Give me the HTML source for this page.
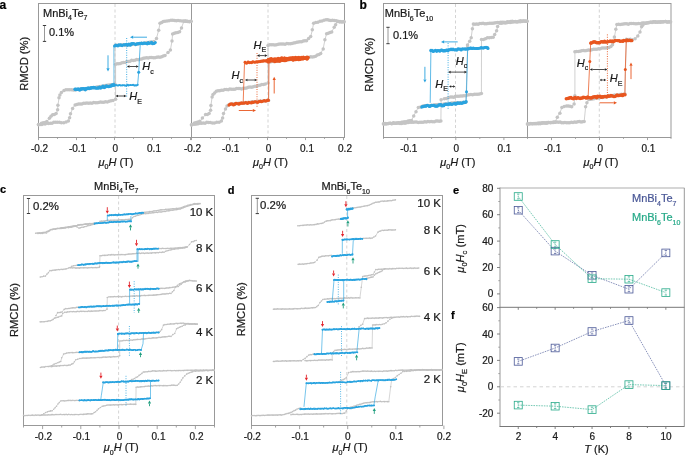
<!DOCTYPE html>
<html><head><meta charset="utf-8"><style>
html,body{margin:0;padding:0;background:#fff;}
svg{display:block;font-family:"Liberation Sans", sans-serif;will-change:transform;}
</style></head><body>
<svg width="685" height="456" viewBox="0 0 685 456">
<rect width="685" height="456" fill="#fff"/>
<rect x="38.5" y="3.5" width="306" height="134" fill="none" stroke="#999" stroke-width="1"/>
<line x1="191.5" y1="3.5" x2="191.5" y2="137.5" stroke="#999" stroke-width="1" />
<line x1="115" y1="4" x2="115" y2="137" stroke="#cfcfcf" stroke-width="0.9" stroke-dasharray="3 2.5"/>
<line x1="268" y1="4" x2="268" y2="137" stroke="#cfcfcf" stroke-width="0.9" stroke-dasharray="3 2.5"/>
<line x1="38.5" y1="137.5" x2="38.5" y2="140.1" stroke="#999" stroke-width="0.9" />
<line x1="76.5" y1="137.5" x2="76.5" y2="140.1" stroke="#999" stroke-width="0.9" />
<line x1="114.5" y1="137.5" x2="114.5" y2="140.1" stroke="#999" stroke-width="0.9" />
<line x1="152.5" y1="137.5" x2="152.5" y2="140.1" stroke="#999" stroke-width="0.9" />
<line x1="190.5" y1="137.5" x2="190.5" y2="140.1" stroke="#999" stroke-width="0.9" />
<line x1="57.5" y1="137.5" x2="57.5" y2="138.9" stroke="#999" stroke-width="0.9" />
<line x1="95.5" y1="137.5" x2="95.5" y2="138.9" stroke="#999" stroke-width="0.9" />
<line x1="133.5" y1="137.5" x2="133.5" y2="138.9" stroke="#999" stroke-width="0.9" />
<line x1="171.5" y1="137.5" x2="171.5" y2="138.9" stroke="#999" stroke-width="0.9" />
<line x1="191.5" y1="137.5" x2="191.5" y2="140.1" stroke="#999" stroke-width="0.9" />
<line x1="229.5" y1="137.5" x2="229.5" y2="140.1" stroke="#999" stroke-width="0.9" />
<line x1="267.5" y1="137.5" x2="267.5" y2="140.1" stroke="#999" stroke-width="0.9" />
<line x1="305.5" y1="137.5" x2="305.5" y2="140.1" stroke="#999" stroke-width="0.9" />
<line x1="343.5" y1="137.5" x2="343.5" y2="140.1" stroke="#999" stroke-width="0.9" />
<line x1="210.5" y1="137.5" x2="210.5" y2="138.9" stroke="#999" stroke-width="0.9" />
<line x1="248.5" y1="137.5" x2="248.5" y2="138.9" stroke="#999" stroke-width="0.9" />
<line x1="286.5" y1="137.5" x2="286.5" y2="138.9" stroke="#999" stroke-width="0.9" />
<line x1="324.5" y1="137.5" x2="324.5" y2="138.9" stroke="#999" stroke-width="0.9" />
<text x="39.5" y="152" font-size="10" text-anchor="middle" fill="#1a1a1a" font-weight="normal" font-style="normal"  stroke="#1a1a1a" stroke-width="0.22">-0.2</text>
<text x="77.5" y="152" font-size="10" text-anchor="middle" fill="#1a1a1a" font-weight="normal" font-style="normal"  stroke="#1a1a1a" stroke-width="0.22">-0.1</text>
<text x="115.3" y="152" font-size="10" text-anchor="middle" fill="#1a1a1a" font-weight="normal" font-style="normal"  stroke="#1a1a1a" stroke-width="0.22">0</text>
<text x="154" y="152" font-size="10" text-anchor="middle" fill="#1a1a1a" font-weight="normal" font-style="normal"  stroke="#1a1a1a" stroke-width="0.22">0.1</text>
<text x="192.5" y="152" font-size="10" text-anchor="middle" fill="#1a1a1a" font-weight="normal" font-style="normal"  stroke="#1a1a1a" stroke-width="0.22">-0.2</text>
<text x="230.7" y="152" font-size="10" text-anchor="middle" fill="#1a1a1a" font-weight="normal" font-style="normal"  stroke="#1a1a1a" stroke-width="0.22">-0.1</text>
<text x="268.5" y="152" font-size="10" text-anchor="middle" fill="#1a1a1a" font-weight="normal" font-style="normal"  stroke="#1a1a1a" stroke-width="0.22">0</text>
<text x="307" y="152" font-size="10" text-anchor="middle" fill="#1a1a1a" font-weight="normal" font-style="normal"  stroke="#1a1a1a" stroke-width="0.22">0.1</text>
<text x="345" y="152" font-size="10" text-anchor="middle" fill="#1a1a1a" font-weight="normal" font-style="normal"  stroke="#1a1a1a" stroke-width="0.22">0.2</text>
<text x="116" y="165.5" font-size="11" fill="#1a1a1a" text-anchor="middle" stroke="#1a1a1a" stroke-width="0.22"><tspan font-style="italic">&#956;</tspan><tspan font-size="7.04" dy="3.6">0</tspan><tspan font-style="italic" dy="-3.6">H</tspan> (T)</text>
<text x="270.5" y="165.5" font-size="11" fill="#1a1a1a" text-anchor="middle" stroke="#1a1a1a" stroke-width="0.22"><tspan font-style="italic">&#956;</tspan><tspan font-size="7.04" dy="3.6">0</tspan><tspan font-style="italic" dy="-3.6">H</tspan> (T)</text>
<text transform="translate(28.2 63.8) rotate(-90)" x="0" y="0" font-size="11.2" fill="#1a1a1a" text-anchor="middle" stroke="#1a1a1a" stroke-width="0.22">RMCD (%)</text>
<text x="-0.6" y="8.9" font-size="12" text-anchor="start" fill="#000" font-weight="bold" font-style="normal"  stroke="#000" stroke-width="0.22">a</text>
<text x="43" y="16.5" font-size="11" fill="#1a1a1a" text-anchor="start"  stroke="#1a1a1a" stroke-width="0.22"><tspan>MnBi</tspan><tspan font-size="7" dy="3.7">4</tspan><tspan dy="-3.7">Te</tspan><tspan font-size="7" dy="3.7">7</tspan></text>
<line x1="44.5" y1="25.5" x2="44.5" y2="41.4" stroke="#8c8c8c" stroke-width="0.9" />
<line x1="42.85" y1="25.5" x2="46.15" y2="25.5" stroke="#3a3a3a" stroke-width="1" />
<line x1="42.85" y1="41.4" x2="46.15" y2="41.4" stroke="#3a3a3a" stroke-width="1" />
<text x="49" y="35.6" font-size="11" text-anchor="start" fill="#1a1a1a" font-weight="normal" font-style="normal"  stroke="#1a1a1a" stroke-width="0.22">0.1%</text>
<polyline points="38.5,124.8 41.5,123 46.8,121.7 49.4,118.2 52.6,114.5 56.1,113.8 57.6,110 57.9,105.5 59,98 59.9,95 61.4,92.4 64,90.6 67.9,89.7 75.1,89.8 95,87.5 114,84.5 115,84 115,45.5 135,44.5 152,42 154,41.2 156.5,38.3 158.7,30.2 160,23.3 165,21.1 171,20.4 178,20.3 184,20.9 191,21.7" fill="none" stroke="#c4c4c4" stroke-width="0.8" stroke-linejoin="round" stroke-linecap="round" />
<g fill="#c4c4c4"><circle cx="38.5" cy="124.83" r="1.75"/><circle cx="41.5" cy="123.27" r="1.75"/><circle cx="43.27" cy="122.79" r="1.75"/><circle cx="45.03" cy="122.39" r="1.75"/><circle cx="46.8" cy="121.54" r="1.75"/><circle cx="49.4" cy="118.14" r="1.75"/><circle cx="51" cy="116.25" r="1.75"/><circle cx="52.6" cy="114.77" r="1.75"/><circle cx="54.35" cy="114.47" r="1.75"/><circle cx="56.1" cy="113.56" r="1.75"/><circle cx="57.6" cy="109.77" r="1.75"/><circle cx="57.9" cy="105.31" r="1.75"/><circle cx="59" cy="97.81" r="1.75"/><circle cx="59.9" cy="94.99" r="1.75"/><circle cx="61.4" cy="92.46" r="1.75"/><circle cx="64" cy="90.43" r="1.75"/><circle cx="65.95" cy="89.8" r="1.75"/><circle cx="67.9" cy="89.64" r="1.75"/><circle cx="69.7" cy="89.63" r="1.75"/><circle cx="71.5" cy="89.8" r="1.75"/><circle cx="73.3" cy="90.09" r="1.75"/><circle cx="75.1" cy="89.93" r="1.75"/><circle cx="76.76" cy="89.62" r="1.75"/><circle cx="78.42" cy="89.5" r="1.75"/><circle cx="80.07" cy="89.35" r="1.75"/><circle cx="81.73" cy="88.72" r="1.75"/><circle cx="83.39" cy="89.12" r="1.75"/><circle cx="85.05" cy="88.85" r="1.75"/><circle cx="86.71" cy="88.72" r="1.75"/><circle cx="88.37" cy="88.48" r="1.75"/><circle cx="90.03" cy="88" r="1.75"/><circle cx="91.68" cy="87.81" r="1.75"/><circle cx="93.34" cy="87.41" r="1.75"/><circle cx="95" cy="87.59" r="1.75"/><circle cx="96.73" cy="86.92" r="1.75"/><circle cx="98.45" cy="86.65" r="1.75"/><circle cx="100.18" cy="86.48" r="1.75"/><circle cx="101.91" cy="86.17" r="1.75"/><circle cx="103.64" cy="86.02" r="1.75"/><circle cx="105.36" cy="85.55" r="1.75"/><circle cx="107.09" cy="85.24" r="1.75"/><circle cx="108.82" cy="85.07" r="1.75"/><circle cx="110.55" cy="84.77" r="1.75"/><circle cx="112.27" cy="84.68" r="1.75"/><circle cx="114" cy="84.17" r="1.75"/><circle cx="115" cy="84.26" r="1.75"/><circle cx="115" cy="45.58" r="1.75"/><circle cx="116.67" cy="45.17" r="1.75"/><circle cx="118.33" cy="45.16" r="1.75"/><circle cx="120" cy="45.14" r="1.75"/><circle cx="121.67" cy="45.07" r="1.75"/><circle cx="123.33" cy="44.82" r="1.75"/><circle cx="125" cy="45.24" r="1.75"/><circle cx="126.67" cy="45.26" r="1.75"/><circle cx="128.33" cy="44.81" r="1.75"/><circle cx="130" cy="44.74" r="1.75"/><circle cx="131.67" cy="44.38" r="1.75"/><circle cx="133.33" cy="44.3" r="1.75"/><circle cx="135" cy="44.39" r="1.75"/><circle cx="136.7" cy="44.09" r="1.75"/><circle cx="138.4" cy="44.23" r="1.75"/><circle cx="140.1" cy="43.51" r="1.75"/><circle cx="141.8" cy="43.17" r="1.75"/><circle cx="143.5" cy="43.57" r="1.75"/><circle cx="145.2" cy="43.02" r="1.75"/><circle cx="146.9" cy="42.5" r="1.75"/><circle cx="148.6" cy="42.53" r="1.75"/><circle cx="150.3" cy="41.92" r="1.75"/><circle cx="152" cy="42.02" r="1.75"/><circle cx="154" cy="41.53" r="1.75"/><circle cx="156.5" cy="38.55" r="1.75"/><circle cx="158.7" cy="30.34" r="1.75"/><circle cx="160" cy="23.13" r="1.75"/><circle cx="161.67" cy="22.47" r="1.75"/><circle cx="163.33" cy="21.6" r="1.75"/><circle cx="165" cy="21.29" r="1.75"/><circle cx="167" cy="20.89" r="1.75"/><circle cx="169" cy="20.83" r="1.75"/><circle cx="171" cy="20.28" r="1.75"/><circle cx="172.75" cy="20.18" r="1.75"/><circle cx="174.5" cy="20.57" r="1.75"/><circle cx="176.25" cy="20.66" r="1.75"/><circle cx="178" cy="20.55" r="1.75"/><circle cx="180" cy="20.71" r="1.75"/><circle cx="182" cy="20.92" r="1.75"/><circle cx="184" cy="21.07" r="1.75"/><circle cx="185.75" cy="20.91" r="1.75"/><circle cx="187.5" cy="21.31" r="1.75"/><circle cx="189.25" cy="21.4" r="1.75"/><circle cx="191" cy="21.37" r="1.75"/></g>
<polyline points="191,21.7 184,21.1 181.5,27.7 179.6,31.9 176,32.8 172.6,33.9 172,41 170.4,50 168,52.5 165,55.3 160,57 145,58.3 130,60.9 115.6,64.4 115.6,99.2 113,100.5 105.5,102.2 88.6,103 75.1,104.7 72.6,108.4 70.5,113.8 69.6,117.9 68.4,120.6 66.1,122 61.4,123 57.3,122.2 46.8,123.5 38.5,124.7" fill="none" stroke="#c4c4c4" stroke-width="0.8" stroke-linejoin="round" stroke-linecap="round" />
<g fill="#c4c4c4"><circle cx="191" cy="21.54" r="1.75"/><circle cx="189.25" cy="21.74" r="1.75"/><circle cx="187.5" cy="21.41" r="1.75"/><circle cx="185.75" cy="21.29" r="1.75"/><circle cx="184" cy="21.28" r="1.75"/><circle cx="181.5" cy="27.99" r="1.75"/><circle cx="179.6" cy="31.86" r="1.75"/><circle cx="177.8" cy="32.43" r="1.75"/><circle cx="176" cy="32.8" r="1.75"/><circle cx="174.3" cy="33.36" r="1.75"/><circle cx="172.6" cy="34.03" r="1.75"/><circle cx="172" cy="40.97" r="1.75"/><circle cx="170.4" cy="50.02" r="1.75"/><circle cx="168" cy="52.48" r="1.75"/><circle cx="165" cy="55.61" r="1.75"/><circle cx="163.33" cy="56.01" r="1.75"/><circle cx="161.67" cy="56.7" r="1.75"/><circle cx="160" cy="57.31" r="1.75"/><circle cx="158.33" cy="56.98" r="1.75"/><circle cx="156.67" cy="57.33" r="1.75"/><circle cx="155" cy="57.74" r="1.75"/><circle cx="153.33" cy="57.82" r="1.75"/><circle cx="151.67" cy="57.47" r="1.75"/><circle cx="150" cy="57.6" r="1.75"/><circle cx="148.33" cy="57.97" r="1.75"/><circle cx="146.67" cy="57.86" r="1.75"/><circle cx="145" cy="58.12" r="1.75"/><circle cx="143.33" cy="58.29" r="1.75"/><circle cx="141.67" cy="59" r="1.75"/><circle cx="140" cy="59.37" r="1.75"/><circle cx="138.33" cy="59.73" r="1.75"/><circle cx="136.67" cy="59.5" r="1.75"/><circle cx="135" cy="60.18" r="1.75"/><circle cx="133.33" cy="60.43" r="1.75"/><circle cx="131.67" cy="60.36" r="1.75"/><circle cx="130" cy="61.17" r="1.75"/><circle cx="128.4" cy="61.62" r="1.75"/><circle cx="126.8" cy="61.48" r="1.75"/><circle cx="125.2" cy="62.38" r="1.75"/><circle cx="123.6" cy="62.38" r="1.75"/><circle cx="122" cy="62.84" r="1.75"/><circle cx="120.4" cy="63.58" r="1.75"/><circle cx="118.8" cy="63.85" r="1.75"/><circle cx="117.2" cy="63.77" r="1.75"/><circle cx="115.6" cy="64.35" r="1.75"/><circle cx="115.6" cy="99.21" r="1.75"/><circle cx="113" cy="100.39" r="1.75"/><circle cx="111.12" cy="100.71" r="1.75"/><circle cx="109.25" cy="101.22" r="1.75"/><circle cx="107.38" cy="101.93" r="1.75"/><circle cx="105.5" cy="101.86" r="1.75"/><circle cx="103.81" cy="102.32" r="1.75"/><circle cx="102.12" cy="102.32" r="1.75"/><circle cx="100.43" cy="102.1" r="1.75"/><circle cx="98.74" cy="102.4" r="1.75"/><circle cx="97.05" cy="102.69" r="1.75"/><circle cx="95.36" cy="102.69" r="1.75"/><circle cx="93.67" cy="102.46" r="1.75"/><circle cx="91.98" cy="103.18" r="1.75"/><circle cx="90.29" cy="103.12" r="1.75"/><circle cx="88.6" cy="103.33" r="1.75"/><circle cx="86.91" cy="102.94" r="1.75"/><circle cx="85.22" cy="103.26" r="1.75"/><circle cx="83.54" cy="103.32" r="1.75"/><circle cx="81.85" cy="104.05" r="1.75"/><circle cx="80.16" cy="103.9" r="1.75"/><circle cx="78.47" cy="104.02" r="1.75"/><circle cx="76.79" cy="104.43" r="1.75"/><circle cx="75.1" cy="104.99" r="1.75"/><circle cx="72.6" cy="108.62" r="1.75"/><circle cx="70.5" cy="113.63" r="1.75"/><circle cx="69.6" cy="117.65" r="1.75"/><circle cx="68.4" cy="120.89" r="1.75"/><circle cx="66.1" cy="122.05" r="1.75"/><circle cx="63.75" cy="122.64" r="1.75"/><circle cx="61.4" cy="122.71" r="1.75"/><circle cx="59.35" cy="122.29" r="1.75"/><circle cx="57.3" cy="122.33" r="1.75"/><circle cx="55.55" cy="122.36" r="1.75"/><circle cx="53.8" cy="122.33" r="1.75"/><circle cx="52.05" cy="123.16" r="1.75"/><circle cx="50.3" cy="123.16" r="1.75"/><circle cx="48.55" cy="123.49" r="1.75"/><circle cx="46.8" cy="123.21" r="1.75"/><circle cx="45.14" cy="123.99" r="1.75"/><circle cx="43.48" cy="123.68" r="1.75"/><circle cx="41.82" cy="124.47" r="1.75"/><circle cx="40.16" cy="124.43" r="1.75"/><circle cx="38.5" cy="124.59" r="1.75"/></g>
<line x1="113.8" y1="45.5" x2="113.9" y2="84.5" stroke="#29a3df" stroke-width="0.75" stroke-opacity="0.8"/>
<polyline points="137.6,85.3 138.7,72.3 140.2,45" fill="none" stroke="#29a3df" stroke-width="0.75" stroke-linejoin="round" stroke-linecap="round" />
<circle cx="138.7" cy="72.3" r="1.5" fill="#29a3df"/>
<polyline points="75.1,89.93 76.15,90.06 77.19,89.57 78.24,89.39 79.29,89.54 80.34,89.27 81.38,89.1 82.43,89.03 83.48,88.87 84.53,88.87 85.57,88.84 86.62,88.74 87.67,88.92 88.72,88.54 89.76,88.57 90.81,88.29 91.86,88.29 92.91,88 93.95,88.05 95,87.81 96,88.1 97,87.85 98,87.49 99,87.52 100,87.65 101,87.01 102,87.3 103,86.92 104,86.82 105,86.88 106,86.47 107,86.4 108,86.37 109,86.4 110,85.87 111,86.03 112,85.81 113,85.62 114,85.34" fill="none" stroke="#29a3df" stroke-width="2.2" stroke-linejoin="round" stroke-linecap="round" />
<g fill="#29a3df"><circle cx="75.01" cy="89.19" r="1.68"/><circle cx="75.98" cy="89.11" r="1.68"/><circle cx="77.46" cy="89.31" r="1.68"/><circle cx="78.21" cy="88.94" r="1.68"/><circle cx="79.73" cy="90.09" r="1.68"/><circle cx="80.73" cy="89.05" r="1.68"/><circle cx="81.58" cy="88.97" r="1.68"/><circle cx="82.81" cy="88.65" r="1.68"/><circle cx="83.91" cy="88.72" r="1.68"/><circle cx="85.33" cy="89.76" r="1.68"/><circle cx="86.18" cy="88.49" r="1.68"/><circle cx="87.54" cy="88.5" r="1.68"/><circle cx="88.28" cy="87.9" r="1.68"/><circle cx="89.4" cy="88.56" r="1.68"/><circle cx="90.58" cy="88.02" r="1.68"/><circle cx="91.69" cy="87.61" r="1.68"/><circle cx="92.65" cy="87.64" r="1.68"/><circle cx="93.83" cy="87.47" r="1.68"/><circle cx="94.71" cy="87.79" r="1.68"/><circle cx="95.96" cy="88.08" r="1.68"/><circle cx="97.25" cy="88.18" r="1.68"/><circle cx="98.45" cy="87.97" r="1.68"/><circle cx="99.7" cy="87.29" r="1.68"/><circle cx="100.48" cy="88.08" r="1.68"/><circle cx="101.5" cy="87.51" r="1.68"/><circle cx="102.91" cy="86.26" r="1.68"/><circle cx="104.14" cy="87.46" r="1.68"/><circle cx="105.14" cy="87.04" r="1.68"/><circle cx="106.36" cy="85.93" r="1.68"/><circle cx="107.31" cy="86.36" r="1.68"/><circle cx="108.61" cy="86.68" r="1.68"/><circle cx="109.73" cy="86.17" r="1.68"/><circle cx="110.88" cy="86.17" r="1.68"/><circle cx="111.88" cy="85.29" r="1.68"/><circle cx="112.6" cy="84.97" r="1.68"/><circle cx="113.92" cy="84.77" r="1.68"/></g>
<polyline points="114,85.52 115.03,85.41 116.05,85.42 117.08,85.41 118.1,85.41 119.13,85.33 120.16,85.14 121.18,85.42 122.21,85.39 123.23,85.28 124.26,85.28 125.29,85.31 126.31,85.09 127.34,85.32 128.37,85.13 129.39,85.05 130.42,85.11 131.44,85.26 132.47,85.06 133.5,85.24 134.52,85.31 135.55,85.12 136.57,85.07 137.6,85.09" fill="none" stroke="#29a3df" stroke-width="1.26" stroke-linejoin="round" stroke-linecap="round" />
<g fill="#29a3df"><circle cx="114.11" cy="85.66" r="0.97"/><circle cx="115.19" cy="85.52" r="0.97"/><circle cx="115.99" cy="85.03" r="0.97"/><circle cx="117.22" cy="85.59" r="0.97"/><circle cx="118.38" cy="85.41" r="0.97"/><circle cx="119.33" cy="84.91" r="0.97"/><circle cx="120.6" cy="85.48" r="0.97"/><circle cx="121.98" cy="85.47" r="0.97"/><circle cx="122.86" cy="85.3" r="0.97"/><circle cx="124.09" cy="85.24" r="0.97"/><circle cx="125.01" cy="85.64" r="0.97"/><circle cx="126.18" cy="85.7" r="0.97"/><circle cx="127.75" cy="84.77" r="0.97"/><circle cx="128.58" cy="85.52" r="0.97"/><circle cx="130.01" cy="85.15" r="0.97"/><circle cx="130.72" cy="84.91" r="0.97"/><circle cx="132.25" cy="84.89" r="0.97"/><circle cx="133.15" cy="84.81" r="0.97"/><circle cx="134.24" cy="85.58" r="0.97"/><circle cx="135.13" cy="85.44" r="0.97"/><circle cx="136.48" cy="85.49" r="0.97"/><circle cx="137.72" cy="84.84" r="0.97"/></g>
<polyline points="114.5,46.14 115.53,45.8 116.57,45.43 117.6,45.32 118.63,45.52 119.67,45.4 120.7,45.22 121.73,45.03 122.77,45.06 123.8,44.95 124.83,45.17 125.87,44.57 126.9,44.93 127.93,44.89 128.97,44.37 130,44.76 131,44.54 132,44.56 133,44.1 134,44.06 135,43.99 136,44.26 137,43.92 138,43.7 139,43.65 140,43.47 141,43.28 142,43.27 143,43.66 144,43.28 145,43.63 146,43.17 147,43.13 148,43.23 149,42.99 150,43.06 151,43.36 152,43.27 153,43.18 154,43.03 155,43.15" fill="none" stroke="#29a3df" stroke-width="2.04" stroke-linejoin="round" stroke-linecap="round" />
<g fill="#29a3df"><circle cx="114.76" cy="45.98" r="1.55"/><circle cx="115.74" cy="45.08" r="1.55"/><circle cx="116.85" cy="45.62" r="1.55"/><circle cx="117.97" cy="45.83" r="1.55"/><circle cx="118.8" cy="44.78" r="1.55"/><circle cx="120.29" cy="44.8" r="1.55"/><circle cx="121.13" cy="45.05" r="1.55"/><circle cx="122.13" cy="45.58" r="1.55"/><circle cx="123.64" cy="44.72" r="1.55"/><circle cx="124.56" cy="44.68" r="1.55"/><circle cx="125.61" cy="44.73" r="1.55"/><circle cx="126.48" cy="44.26" r="1.55"/><circle cx="127.61" cy="45.35" r="1.55"/><circle cx="128.89" cy="44.15" r="1.55"/><circle cx="130.24" cy="45.29" r="1.55"/><circle cx="131.08" cy="43.82" r="1.55"/><circle cx="132.04" cy="43.65" r="1.55"/><circle cx="133.24" cy="43.55" r="1.55"/><circle cx="134.29" cy="43.71" r="1.55"/><circle cx="135.6" cy="44.62" r="1.55"/><circle cx="136.82" cy="43.76" r="1.55"/><circle cx="137.73" cy="43.84" r="1.55"/><circle cx="138.82" cy="43.44" r="1.55"/><circle cx="139.74" cy="43.24" r="1.55"/><circle cx="141.43" cy="42.95" r="1.55"/><circle cx="142.31" cy="43.7" r="1.55"/><circle cx="143.68" cy="42.98" r="1.55"/><circle cx="144.48" cy="42.98" r="1.55"/><circle cx="145.71" cy="43.24" r="1.55"/><circle cx="147.2" cy="43.83" r="1.55"/><circle cx="148.3" cy="42.46" r="1.55"/><circle cx="148.95" cy="43.5" r="1.55"/><circle cx="150.62" cy="43.07" r="1.55"/><circle cx="151.59" cy="42.26" r="1.55"/><circle cx="152.63" cy="43.69" r="1.55"/><circle cx="154.04" cy="43.52" r="1.55"/><circle cx="155.28" cy="42.5" r="1.55"/></g>
<line x1="126.7" y1="38" x2="126.7" y2="98" stroke="#29a3df" stroke-width="0.9" stroke-dasharray="1 1.4"/>
<line x1="147" y1="37.2" x2="133.2" y2="37.2" stroke="#29a3df" stroke-width="0.9" />
<path d="M130 37.2L133.2 35.6L133.2 38.8Z" fill="#29a3df"/>
<line x1="108" y1="55.3" x2="108" y2="68.3" stroke="#29a3df" stroke-width="0.9" />
<path d="M108 71.5L106.4 68.3L109.6 68.3Z" fill="#29a3df"/>
<line x1="129.5" y1="66.5" x2="136.1" y2="66.5" stroke="#222" stroke-width="0.8" />
<path d="M126.9 66.5L129.5 65.2L129.5 67.8Z" fill="#222"/>
<path d="M138.7 66.5L136.1 65.2L136.1 67.8Z" fill="#222"/>
<line x1="118" y1="96" x2="123.9" y2="96" stroke="#222" stroke-width="0.8" />
<path d="M115.4 96L118 94.7L118 97.3Z" fill="#222"/>
<path d="M126.5 96L123.9 94.7L123.9 97.3Z" fill="#222"/>
<text x="142.2" y="70.1" font-size="11" fill="#1a1a1a" stroke="#1a1a1a" stroke-width="0.22"><tspan font-style="italic">H</tspan><tspan font-size="7" dy="3.6">c</tspan></text>
<text x="129.3" y="99.9" font-size="11" fill="#1a1a1a" stroke="#1a1a1a" stroke-width="0.22"><tspan font-style="italic">H</tspan><tspan font-size="7" dy="3.6">E</tspan></text>
<polyline points="191.5,124.8 194.5,123 199.8,121.7 202.4,118.2 205.6,114.5 209.1,113.8 210.6,110 210.9,105.6 212.1,97.1 213,94.3 216.3,91.4 224.8,89.6 241.6,88.6 250,87.2 260,85.4 265.3,83.8 268,83 268,45.2 290.3,43.5 306.5,40.6 310.7,36.8 312.3,30 313.6,23.3 320,21.1 326,20.1 332.5,20.3 338,21.2 344,21.8" fill="none" stroke="#c4c4c4" stroke-width="0.8" stroke-linejoin="round" stroke-linecap="round" />
<g fill="#c4c4c4"><circle cx="191.5" cy="124.72" r="1.75"/><circle cx="194.5" cy="122.91" r="1.75"/><circle cx="196.27" cy="122.45" r="1.75"/><circle cx="198.03" cy="121.9" r="1.75"/><circle cx="199.8" cy="121.35" r="1.75"/><circle cx="202.4" cy="118.05" r="1.75"/><circle cx="205.6" cy="114.4" r="1.75"/><circle cx="207.35" cy="114.47" r="1.75"/><circle cx="209.1" cy="113.54" r="1.75"/><circle cx="210.6" cy="110.32" r="1.75"/><circle cx="210.9" cy="105.4" r="1.75"/><circle cx="212.1" cy="97" r="1.75"/><circle cx="213" cy="94.53" r="1.75"/><circle cx="214.65" cy="93.08" r="1.75"/><circle cx="216.3" cy="91.35" r="1.75"/><circle cx="218" cy="90.72" r="1.75"/><circle cx="219.7" cy="90.66" r="1.75"/><circle cx="221.4" cy="90.23" r="1.75"/><circle cx="223.1" cy="90.25" r="1.75"/><circle cx="224.8" cy="89.39" r="1.75"/><circle cx="226.48" cy="89.4" r="1.75"/><circle cx="228.16" cy="89.68" r="1.75"/><circle cx="229.84" cy="88.97" r="1.75"/><circle cx="231.52" cy="89.14" r="1.75"/><circle cx="233.2" cy="89.32" r="1.75"/><circle cx="234.88" cy="89.19" r="1.75"/><circle cx="236.56" cy="88.58" r="1.75"/><circle cx="238.24" cy="88.47" r="1.75"/><circle cx="239.92" cy="88.39" r="1.75"/><circle cx="241.6" cy="88.89" r="1.75"/><circle cx="243.28" cy="88.15" r="1.75"/><circle cx="244.96" cy="88.21" r="1.75"/><circle cx="246.64" cy="88.04" r="1.75"/><circle cx="248.32" cy="87.37" r="1.75"/><circle cx="250" cy="87.04" r="1.75"/><circle cx="251.67" cy="87.22" r="1.75"/><circle cx="253.33" cy="86.68" r="1.75"/><circle cx="255" cy="86.13" r="1.75"/><circle cx="256.67" cy="86.15" r="1.75"/><circle cx="258.33" cy="85.57" r="1.75"/><circle cx="260" cy="85.24" r="1.75"/><circle cx="261.77" cy="84.52" r="1.75"/><circle cx="263.53" cy="84.51" r="1.75"/><circle cx="265.3" cy="84.09" r="1.75"/><circle cx="268" cy="83.09" r="1.75"/><circle cx="268" cy="45.51" r="1.75"/><circle cx="269.72" cy="44.74" r="1.75"/><circle cx="271.43" cy="44.75" r="1.75"/><circle cx="273.15" cy="44.79" r="1.75"/><circle cx="274.86" cy="45" r="1.75"/><circle cx="276.58" cy="44.86" r="1.75"/><circle cx="278.29" cy="44.34" r="1.75"/><circle cx="280.01" cy="44.11" r="1.75"/><circle cx="281.72" cy="44.1" r="1.75"/><circle cx="283.44" cy="44.02" r="1.75"/><circle cx="285.15" cy="44.19" r="1.75"/><circle cx="286.87" cy="43.54" r="1.75"/><circle cx="288.58" cy="43.84" r="1.75"/><circle cx="290.3" cy="43.67" r="1.75"/><circle cx="291.92" cy="43.44" r="1.75"/><circle cx="293.54" cy="43.11" r="1.75"/><circle cx="295.16" cy="42.71" r="1.75"/><circle cx="296.78" cy="42.22" r="1.75"/><circle cx="298.4" cy="41.92" r="1.75"/><circle cx="300.02" cy="41.66" r="1.75"/><circle cx="301.64" cy="41.67" r="1.75"/><circle cx="303.26" cy="40.89" r="1.75"/><circle cx="304.88" cy="40.68" r="1.75"/><circle cx="306.5" cy="40.78" r="1.75"/><circle cx="308.6" cy="38.52" r="1.75"/><circle cx="310.7" cy="36.5" r="1.75"/><circle cx="312.3" cy="29.67" r="1.75"/><circle cx="313.6" cy="23.34" r="1.75"/><circle cx="315.73" cy="22.44" r="1.75"/><circle cx="317.87" cy="22.17" r="1.75"/><circle cx="320" cy="21.37" r="1.75"/><circle cx="322" cy="21.11" r="1.75"/><circle cx="324" cy="20.27" r="1.75"/><circle cx="326" cy="19.81" r="1.75"/><circle cx="327.62" cy="19.87" r="1.75"/><circle cx="329.25" cy="20.2" r="1.75"/><circle cx="330.88" cy="20.4" r="1.75"/><circle cx="332.5" cy="20.26" r="1.75"/><circle cx="334.33" cy="20.41" r="1.75"/><circle cx="336.17" cy="20.84" r="1.75"/><circle cx="338" cy="21.28" r="1.75"/><circle cx="340" cy="21.52" r="1.75"/><circle cx="342" cy="21.77" r="1.75"/><circle cx="344" cy="22.04" r="1.75"/></g>
<polyline points="191.5,124.7 199.8,123.5 210.3,122.2 214.4,123.2 219.1,122 221.4,120.6 222.6,117.9 223.5,113.8 225.5,108.6 227,106 229,104.4 268.6,100.5 268.6,62 308.9,57.3 315.6,56.2 320.7,53.6 323.2,48.6 324.9,40.1 326.6,33.4 331.7,31.7 334.2,27.5 335.6,24.5 337.6,21.6 344,21.8" fill="none" stroke="#c4c4c4" stroke-width="0.8" stroke-linejoin="round" stroke-linecap="round" />
<g fill="#c4c4c4"><circle cx="191.5" cy="124.99" r="1.75"/><circle cx="193.16" cy="124.17" r="1.75"/><circle cx="194.82" cy="124.31" r="1.75"/><circle cx="196.48" cy="123.89" r="1.75"/><circle cx="198.14" cy="123.74" r="1.75"/><circle cx="199.8" cy="123.25" r="1.75"/><circle cx="201.55" cy="123.13" r="1.75"/><circle cx="203.3" cy="123.08" r="1.75"/><circle cx="205.05" cy="123.15" r="1.75"/><circle cx="206.8" cy="122.36" r="1.75"/><circle cx="208.55" cy="122.41" r="1.75"/><circle cx="210.3" cy="122.41" r="1.75"/><circle cx="212.35" cy="123.03" r="1.75"/><circle cx="214.4" cy="122.99" r="1.75"/><circle cx="216.75" cy="122.34" r="1.75"/><circle cx="219.1" cy="122.31" r="1.75"/><circle cx="221.4" cy="120.93" r="1.75"/><circle cx="222.6" cy="117.89" r="1.75"/><circle cx="223.5" cy="113.49" r="1.75"/><circle cx="225.5" cy="108.9" r="1.75"/><circle cx="227" cy="105.92" r="1.75"/><circle cx="229" cy="104.68" r="1.75"/><circle cx="230.65" cy="104.32" r="1.75"/><circle cx="232.3" cy="104.3" r="1.75"/><circle cx="233.95" cy="103.67" r="1.75"/><circle cx="235.6" cy="103.95" r="1.75"/><circle cx="237.25" cy="103.39" r="1.75"/><circle cx="238.9" cy="103.36" r="1.75"/><circle cx="240.55" cy="103.5" r="1.75"/><circle cx="242.2" cy="103.33" r="1.75"/><circle cx="243.85" cy="102.72" r="1.75"/><circle cx="245.5" cy="102.58" r="1.75"/><circle cx="247.15" cy="102.54" r="1.75"/><circle cx="248.8" cy="102.46" r="1.75"/><circle cx="250.45" cy="102.21" r="1.75"/><circle cx="252.1" cy="101.86" r="1.75"/><circle cx="253.75" cy="101.79" r="1.75"/><circle cx="255.4" cy="101.96" r="1.75"/><circle cx="257.05" cy="101.92" r="1.75"/><circle cx="258.7" cy="101.15" r="1.75"/><circle cx="260.35" cy="101.36" r="1.75"/><circle cx="262" cy="101.33" r="1.75"/><circle cx="263.65" cy="100.66" r="1.75"/><circle cx="265.3" cy="101.06" r="1.75"/><circle cx="266.95" cy="100.39" r="1.75"/><circle cx="268.6" cy="100.57" r="1.75"/><circle cx="268.6" cy="62.04" r="1.75"/><circle cx="270.21" cy="61.9" r="1.75"/><circle cx="271.82" cy="61.49" r="1.75"/><circle cx="273.44" cy="61.38" r="1.75"/><circle cx="275.05" cy="61.31" r="1.75"/><circle cx="276.66" cy="61.01" r="1.75"/><circle cx="278.27" cy="60.98" r="1.75"/><circle cx="279.88" cy="60.65" r="1.75"/><circle cx="281.5" cy="60.45" r="1.75"/><circle cx="283.11" cy="59.97" r="1.75"/><circle cx="284.72" cy="60.2" r="1.75"/><circle cx="286.33" cy="59.92" r="1.75"/><circle cx="287.94" cy="59.56" r="1.75"/><circle cx="289.56" cy="59.74" r="1.75"/><circle cx="291.17" cy="59.56" r="1.75"/><circle cx="292.78" cy="59.15" r="1.75"/><circle cx="294.39" cy="58.77" r="1.75"/><circle cx="296" cy="58.79" r="1.75"/><circle cx="297.62" cy="58.34" r="1.75"/><circle cx="299.23" cy="58.17" r="1.75"/><circle cx="300.84" cy="58.19" r="1.75"/><circle cx="302.45" cy="57.77" r="1.75"/><circle cx="304.06" cy="57.82" r="1.75"/><circle cx="305.68" cy="57.68" r="1.75"/><circle cx="307.29" cy="57.17" r="1.75"/><circle cx="308.9" cy="57.4" r="1.75"/><circle cx="310.57" cy="56.73" r="1.75"/><circle cx="312.25" cy="56.91" r="1.75"/><circle cx="313.93" cy="56.67" r="1.75"/><circle cx="315.6" cy="56.21" r="1.75"/><circle cx="317.3" cy="55.02" r="1.75"/><circle cx="319" cy="54.47" r="1.75"/><circle cx="320.7" cy="53.51" r="1.75"/><circle cx="323.2" cy="48.92" r="1.75"/><circle cx="324.9" cy="39.85" r="1.75"/><circle cx="326.6" cy="33.65" r="1.75"/><circle cx="328.3" cy="33.18" r="1.75"/><circle cx="330" cy="32.43" r="1.75"/><circle cx="331.7" cy="31.92" r="1.75"/><circle cx="334.2" cy="27.29" r="1.75"/><circle cx="335.6" cy="24.84" r="1.75"/><circle cx="337.6" cy="21.59" r="1.75"/><circle cx="339.73" cy="21.99" r="1.75"/><circle cx="341.87" cy="22.02" r="1.75"/><circle cx="344" cy="21.57" r="1.75"/></g>
<line x1="244.5" y1="63" x2="243.2" y2="102.3" stroke="#e8561f" stroke-width="0.75" />
<line x1="268.6" y1="100.5" x2="269" y2="62" stroke="#e8561f" stroke-width="0.75" />
<polyline points="229,104.87 230,104.86 231,104.24 232,104.31 233,104.45 234,104 235,104.34 236,103.86 237,104.09 238,103.59 239,103.7 240,103.85 241,103.32 242,103.26 243,103.3 244,103.09 245,102.82 246,102.81 247,102.7 248,103.06 249,102.81 250,102.84 251.03,102.28 252.07,102.54 253.1,102.02 254.13,102.15 255.17,102.1 256.2,101.82 257.23,102.01 258.27,101.7 259.3,101.6 260.33,101.66 261.37,101.08 262.4,101.5 263.43,101.16 264.47,100.9 265.5,101.03 266.53,100.59 267.57,100.91 268.6,100.55" fill="none" stroke="#e8561f" stroke-width="1.98" stroke-linejoin="round" stroke-linecap="round" />
<g fill="#e8561f"><circle cx="228.92" cy="105.12" r="1.51"/><circle cx="230.07" cy="104.07" r="1.51"/><circle cx="231.36" cy="103.76" r="1.51"/><circle cx="232.51" cy="103.97" r="1.51"/><circle cx="233.5" cy="105.03" r="1.51"/><circle cx="234.58" cy="104.41" r="1.51"/><circle cx="235.52" cy="103.24" r="1.51"/><circle cx="236.46" cy="103.37" r="1.51"/><circle cx="237.91" cy="103.71" r="1.51"/><circle cx="238.95" cy="104.34" r="1.51"/><circle cx="239.83" cy="103.16" r="1.51"/><circle cx="241.25" cy="102.72" r="1.51"/><circle cx="241.96" cy="103.14" r="1.51"/><circle cx="243.13" cy="103.03" r="1.51"/><circle cx="244.31" cy="103.29" r="1.51"/><circle cx="245.63" cy="102.57" r="1.51"/><circle cx="246.76" cy="102.89" r="1.51"/><circle cx="247.57" cy="103.52" r="1.51"/><circle cx="248.74" cy="102.15" r="1.51"/><circle cx="249.76" cy="102.82" r="1.51"/><circle cx="251.39" cy="102.92" r="1.51"/><circle cx="252.27" cy="101.96" r="1.51"/><circle cx="253.19" cy="102.44" r="1.51"/><circle cx="254.69" cy="101.84" r="1.51"/><circle cx="255.9" cy="101.85" r="1.51"/><circle cx="257.24" cy="102.19" r="1.51"/><circle cx="257.99" cy="102.33" r="1.51"/><circle cx="259.03" cy="101.6" r="1.51"/><circle cx="260.41" cy="101" r="1.51"/><circle cx="261.36" cy="101.73" r="1.51"/><circle cx="262.49" cy="101.24" r="1.51"/><circle cx="264.21" cy="100.45" r="1.51"/><circle cx="264.93" cy="101.07" r="1.51"/><circle cx="266.28" cy="100.99" r="1.51"/><circle cx="267.63" cy="100.11" r="1.51"/><circle cx="268.49" cy="100.18" r="1.51"/></g>
<polyline points="245,62.33 246.03,62.77 247.06,62.64 248.1,62.54 249.13,62.05 250.16,62.49 251.19,62.37 252.22,62.13 253.25,62.24 254.29,62 255.32,61.8 256.35,61.66 257.38,61.68 258.41,61.5 259.45,61.61 260.48,61.8 261.51,61.7 262.54,61.73 263.57,61.58 264.6,61.25 265.64,61.36 266.67,61.23 267.7,61.37" fill="none" stroke="#e8561f" stroke-width="1.87" stroke-linejoin="round" stroke-linecap="round" />
<g fill="#e8561f"><circle cx="245.01" cy="62.22" r="1.43"/><circle cx="246.22" cy="63.27" r="1.43"/><circle cx="247.1" cy="63.07" r="1.43"/><circle cx="248.11" cy="62.01" r="1.43"/><circle cx="249.38" cy="62.71" r="1.43"/><circle cx="250.94" cy="62.64" r="1.43"/><circle cx="251.71" cy="62.79" r="1.43"/><circle cx="252.84" cy="61.69" r="1.43"/><circle cx="254.32" cy="62.25" r="1.43"/><circle cx="255.33" cy="62.23" r="1.43"/><circle cx="256.64" cy="61.85" r="1.43"/><circle cx="257.69" cy="62.15" r="1.43"/><circle cx="258.83" cy="61.66" r="1.43"/><circle cx="259.89" cy="61.8" r="1.43"/><circle cx="260.77" cy="61.16" r="1.43"/><circle cx="262.1" cy="60.87" r="1.43"/><circle cx="263.41" cy="60.91" r="1.43"/><circle cx="264.01" cy="60.78" r="1.43"/><circle cx="265.69" cy="61.09" r="1.43"/><circle cx="266.35" cy="60.52" r="1.43"/><circle cx="267.42" cy="61.51" r="1.43"/></g>
<polyline points="268,61.68 269,61.64 270,61.58 271,61.09 272,61.33 273,61.11 274,61.3 275,61.22 276,61.18 277,60.6 278,61 279,60.95 280,60.88 281,60.3 282,60.28 283,60.14 284,60.01 285,60.42 286,60.31 287,60.13 288,60.16 289,59.96 290,59.67 291,59.49 292,59.43 293,59.75 294,59.36 295,59.36 296,59.35 297,59.05 298,59.12 299,59.07 300,59.26 301,58.99 302,58.89 303,59.21 304,58.87 305,59.01 306,58.8 307,58.39 308,58.55" fill="none" stroke="#e8561f" stroke-width="1.98" stroke-linejoin="round" stroke-linecap="round" />
<g fill="#e8561f"><circle cx="267.96" cy="62.04" r="1.51"/><circle cx="269.01" cy="61.84" r="1.51"/><circle cx="270.22" cy="60.97" r="1.51"/><circle cx="271.52" cy="60.68" r="1.51"/><circle cx="272.59" cy="60.71" r="1.51"/><circle cx="273.2" cy="60.67" r="1.51"/><circle cx="274.76" cy="61.82" r="1.51"/><circle cx="275.4" cy="60.96" r="1.51"/><circle cx="276.79" cy="61.35" r="1.51"/><circle cx="277.71" cy="60.78" r="1.51"/><circle cx="278.91" cy="61.23" r="1.51"/><circle cx="279.96" cy="61.32" r="1.51"/><circle cx="281.07" cy="60.06" r="1.51"/><circle cx="282.42" cy="60.43" r="1.51"/><circle cx="283.17" cy="60.56" r="1.51"/><circle cx="284.25" cy="60.71" r="1.51"/><circle cx="285.72" cy="60.62" r="1.51"/><circle cx="286.78" cy="59.84" r="1.51"/><circle cx="287.74" cy="59.81" r="1.51"/><circle cx="289.13" cy="59.23" r="1.51"/><circle cx="290.23" cy="59.04" r="1.51"/><circle cx="290.95" cy="59.35" r="1.51"/><circle cx="292.49" cy="59.65" r="1.51"/><circle cx="293.3" cy="60.19" r="1.51"/><circle cx="294.34" cy="59.44" r="1.51"/><circle cx="295.64" cy="59.83" r="1.51"/><circle cx="296.9" cy="59.58" r="1.51"/><circle cx="297.78" cy="59" r="1.51"/><circle cx="298.79" cy="59.75" r="1.51"/><circle cx="300.22" cy="59.51" r="1.51"/><circle cx="301.05" cy="58.95" r="1.51"/><circle cx="302.54" cy="59.1" r="1.51"/><circle cx="303.28" cy="58.84" r="1.51"/><circle cx="304.86" cy="58.41" r="1.51"/><circle cx="305.56" cy="58.43" r="1.51"/><circle cx="307" cy="59.22" r="1.51"/><circle cx="307.79" cy="58.05" r="1.51"/></g>
<polyline points="268,59.05 269,59.05 270,59.12 271,58.86 272,58.92 273,58.79 274,59.21 275,59.02 276,58.6 277,59.07 278,58.51 279,58.63 280,58.94 281,58.79 282,58.7 283,58.48 284,58.29 285,58.51 286,58.15 287,58.16 288,58.22 289,57.97 290,58.14 291,58.33 292,58.23 293,58.07 294,58.1 295,57.96 296,57.72 297,57.95 298,57.79 299,57.94 300,58 301,57.67 302,57.71 303,57.77 304,57.53 305,57.37 306,57.62 307,57.67 308,57.56" fill="none" stroke="#e8561f" stroke-width="1.98" stroke-linejoin="round" stroke-linecap="round" />
<g fill="#e8561f"><circle cx="268.12" cy="59.76" r="1.51"/><circle cx="269.21" cy="59.38" r="1.51"/><circle cx="270.17" cy="58.8" r="1.51"/><circle cx="271.38" cy="58.41" r="1.51"/><circle cx="272.35" cy="59.45" r="1.51"/><circle cx="273.63" cy="59.16" r="1.51"/><circle cx="274.45" cy="58.78" r="1.51"/><circle cx="275.67" cy="59.04" r="1.51"/><circle cx="276.75" cy="59.08" r="1.51"/><circle cx="278.16" cy="58.24" r="1.51"/><circle cx="279.09" cy="59.15" r="1.51"/><circle cx="280.03" cy="58.63" r="1.51"/><circle cx="281.48" cy="57.86" r="1.51"/><circle cx="282.33" cy="58.01" r="1.51"/><circle cx="283.57" cy="59.2" r="1.51"/><circle cx="284.51" cy="57.81" r="1.51"/><circle cx="285.64" cy="58.47" r="1.51"/><circle cx="286.83" cy="58.37" r="1.51"/><circle cx="287.88" cy="58.83" r="1.51"/><circle cx="288.91" cy="58.11" r="1.51"/><circle cx="290.27" cy="57.74" r="1.51"/><circle cx="291.24" cy="57.98" r="1.51"/><circle cx="292.41" cy="57.5" r="1.51"/><circle cx="293.67" cy="57.82" r="1.51"/><circle cx="294.23" cy="57.64" r="1.51"/><circle cx="295.56" cy="57.17" r="1.51"/><circle cx="296.7" cy="57.77" r="1.51"/><circle cx="297.99" cy="57.61" r="1.51"/><circle cx="298.86" cy="57.36" r="1.51"/><circle cx="300.27" cy="58.45" r="1.51"/><circle cx="301.27" cy="57.25" r="1.51"/><circle cx="302.56" cy="57.48" r="1.51"/><circle cx="303.33" cy="57.01" r="1.51"/><circle cx="304.79" cy="58.05" r="1.51"/><circle cx="305.83" cy="57.45" r="1.51"/><circle cx="306.91" cy="57.01" r="1.51"/><circle cx="308.28" cy="57.17" r="1.51"/></g>
<line x1="257" y1="53" x2="257" y2="108" stroke="#e8561f" stroke-width="0.9" stroke-dasharray="1 1.4"/>
<line x1="238.8" y1="110.5" x2="252.8" y2="110.5" stroke="#e8561f" stroke-width="0.9" />
<path d="M256 110.5L252.8 112.1L252.8 108.9Z" fill="#e8561f"/>
<line x1="274.2" y1="93.5" x2="274.2" y2="80" stroke="#e8561f" stroke-width="0.9" />
<path d="M274.2 76.8L275.8 80L272.6 80Z" fill="#e8561f"/>
<line x1="247.5" y1="80" x2="254.6" y2="80" stroke="#222" stroke-width="0.8" />
<path d="M244.9 80L247.5 78.7L247.5 81.3Z" fill="#222"/>
<path d="M257.2 80L254.6 78.7L254.6 81.3Z" fill="#222"/>
<line x1="259.6" y1="55.6" x2="264.8" y2="55.6" stroke="#222" stroke-width="0.8" />
<path d="M257 55.6L259.6 54.3L259.6 56.9Z" fill="#222"/>
<path d="M267.4 55.6L264.8 54.3L264.8 56.9Z" fill="#222"/>
<text x="231.6" y="79" font-size="11" fill="#1a1a1a" stroke="#1a1a1a" stroke-width="0.22"><tspan font-style="italic">H</tspan><tspan font-size="7" dy="3.6">c</tspan></text>
<text x="253.5" y="48.5" font-size="11" fill="#1a1a1a" stroke="#1a1a1a" stroke-width="0.22"><tspan font-style="italic">H</tspan><tspan font-size="7" dy="3.6">E</tspan></text>
<rect x="383.5" y="3.5" width="287.5" height="134" fill="none" stroke="#999" stroke-width="1"/>
<line x1="527.5" y1="3.5" x2="527.5" y2="137.5" stroke="#999" stroke-width="1" />
<line x1="455.5" y1="4" x2="455.5" y2="137" stroke="#cfcfcf" stroke-width="0.9" stroke-dasharray="3 2.5"/>
<line x1="599.3" y1="4" x2="599.3" y2="137" stroke="#cfcfcf" stroke-width="0.9" stroke-dasharray="3 2.5"/>
<line x1="407.6" y1="137.5" x2="407.6" y2="140.1" stroke="#999" stroke-width="0.9" />
<line x1="455.8" y1="137.5" x2="455.8" y2="140.1" stroke="#999" stroke-width="0.9" />
<line x1="503.9" y1="137.5" x2="503.9" y2="140.1" stroke="#999" stroke-width="0.9" />
<line x1="551.5" y1="137.5" x2="551.5" y2="140.1" stroke="#999" stroke-width="0.9" />
<line x1="599.5" y1="137.5" x2="599.5" y2="140.1" stroke="#999" stroke-width="0.9" />
<line x1="647.5" y1="137.5" x2="647.5" y2="140.1" stroke="#999" stroke-width="0.9" />
<line x1="383.5" y1="137.5" x2="383.5" y2="138.9" stroke="#999" stroke-width="0.9" />
<line x1="431.6" y1="137.5" x2="431.6" y2="138.9" stroke="#999" stroke-width="0.9" />
<line x1="479.8" y1="137.5" x2="479.8" y2="138.9" stroke="#999" stroke-width="0.9" />
<line x1="527.5" y1="137.5" x2="527.5" y2="138.9" stroke="#999" stroke-width="0.9" />
<line x1="575.5" y1="137.5" x2="575.5" y2="138.9" stroke="#999" stroke-width="0.9" />
<line x1="623.5" y1="137.5" x2="623.5" y2="138.9" stroke="#999" stroke-width="0.9" />
<line x1="671" y1="137.5" x2="671" y2="138.9" stroke="#999" stroke-width="0.9" />
<text x="408.8" y="152" font-size="10" text-anchor="middle" fill="#1a1a1a" font-weight="normal" font-style="normal"  stroke="#1a1a1a" stroke-width="0.22">-0.1</text>
<text x="456.3" y="152" font-size="10" text-anchor="middle" fill="#1a1a1a" font-weight="normal" font-style="normal"  stroke="#1a1a1a" stroke-width="0.22">0</text>
<text x="504.4" y="152" font-size="10" text-anchor="middle" fill="#1a1a1a" font-weight="normal" font-style="normal"  stroke="#1a1a1a" stroke-width="0.22">0.1</text>
<text x="552.6" y="152" font-size="10" text-anchor="middle" fill="#1a1a1a" font-weight="normal" font-style="normal"  stroke="#1a1a1a" stroke-width="0.22">-0.1</text>
<text x="600.3" y="152" font-size="10" text-anchor="middle" fill="#1a1a1a" font-weight="normal" font-style="normal"  stroke="#1a1a1a" stroke-width="0.22">0</text>
<text x="648.4" y="152" font-size="10" text-anchor="middle" fill="#1a1a1a" font-weight="normal" font-style="normal"  stroke="#1a1a1a" stroke-width="0.22">0.1</text>
<text x="457.8" y="165.5" font-size="11" fill="#1a1a1a" text-anchor="middle" stroke="#1a1a1a" stroke-width="0.22"><tspan font-style="italic">&#956;</tspan><tspan font-size="7.04" dy="3.6">0</tspan><tspan font-style="italic" dy="-3.6">H</tspan> (T)</text>
<text x="601" y="165.5" font-size="11" fill="#1a1a1a" text-anchor="middle" stroke="#1a1a1a" stroke-width="0.22"><tspan font-style="italic">&#956;</tspan><tspan font-size="7.04" dy="3.6">0</tspan><tspan font-style="italic" dy="-3.6">H</tspan> (T)</text>
<text transform="translate(373 64.6) rotate(-90)" x="0" y="0" font-size="11.2" fill="#1a1a1a" text-anchor="middle" stroke="#1a1a1a" stroke-width="0.22">RMCD (%)</text>
<text x="359.6" y="8.6" font-size="12" text-anchor="start" fill="#000" font-weight="bold" font-style="normal"  stroke="#000" stroke-width="0.22">b</text>
<text x="384.8" y="17.2" font-size="11" fill="#1a1a1a" text-anchor="start"  stroke="#1a1a1a" stroke-width="0.22"><tspan>MnBi</tspan><tspan font-size="7" dy="3.7">6</tspan><tspan dy="-3.7">Te</tspan><tspan font-size="7" dy="3.7">10</tspan></text>
<line x1="388" y1="27.3" x2="388" y2="43.7" stroke="#8c8c8c" stroke-width="0.9" />
<line x1="386.35" y1="27.3" x2="389.65" y2="27.3" stroke="#3a3a3a" stroke-width="1" />
<line x1="386.35" y1="43.7" x2="389.65" y2="43.7" stroke="#3a3a3a" stroke-width="1" />
<text x="393" y="39.1" font-size="11" text-anchor="start" fill="#1a1a1a" font-weight="normal" font-style="normal"  stroke="#1a1a1a" stroke-width="0.22">0.1%</text>
<polyline points="383.5,123.7 398.3,122.9 411.4,120.6 413.7,116 416,111.4 418.3,107.6 422.9,106 445,104 466,102 467.5,47.5 467.5,44.9 469.7,41.2 471.2,37.6 472.4,28.7 473.4,24.3 499.1,22.6 513.8,21.5 527,20.9" fill="none" stroke="#c4c4c4" stroke-width="0.8" stroke-linejoin="round" stroke-linecap="round" />
<g fill="#c4c4c4"><circle cx="383.5" cy="124" r="1.75"/><circle cx="385.14" cy="123.49" r="1.75"/><circle cx="386.79" cy="123.86" r="1.75"/><circle cx="388.43" cy="123.44" r="1.75"/><circle cx="390.08" cy="123.33" r="1.75"/><circle cx="391.72" cy="123.53" r="1.75"/><circle cx="393.37" cy="122.84" r="1.75"/><circle cx="395.01" cy="123.23" r="1.75"/><circle cx="396.66" cy="123.08" r="1.75"/><circle cx="398.3" cy="122.79" r="1.75"/><circle cx="399.94" cy="122.87" r="1.75"/><circle cx="401.57" cy="122.23" r="1.75"/><circle cx="403.21" cy="122.02" r="1.75"/><circle cx="404.85" cy="121.77" r="1.75"/><circle cx="406.49" cy="121.65" r="1.75"/><circle cx="408.12" cy="120.97" r="1.75"/><circle cx="409.76" cy="120.84" r="1.75"/><circle cx="411.4" cy="120.55" r="1.75"/><circle cx="413.7" cy="116.04" r="1.75"/><circle cx="416" cy="111.63" r="1.75"/><circle cx="418.3" cy="107.46" r="1.75"/><circle cx="420.6" cy="107.03" r="1.75"/><circle cx="422.9" cy="105.93" r="1.75"/><circle cx="424.6" cy="105.85" r="1.75"/><circle cx="426.3" cy="105.53" r="1.75"/><circle cx="428" cy="105.54" r="1.75"/><circle cx="429.7" cy="105.72" r="1.75"/><circle cx="431.4" cy="105.34" r="1.75"/><circle cx="433.1" cy="105.28" r="1.75"/><circle cx="434.8" cy="104.8" r="1.75"/><circle cx="436.5" cy="104.64" r="1.75"/><circle cx="438.2" cy="104.47" r="1.75"/><circle cx="439.9" cy="104.52" r="1.75"/><circle cx="441.6" cy="104.4" r="1.75"/><circle cx="443.3" cy="104.35" r="1.75"/><circle cx="445" cy="103.68" r="1.75"/><circle cx="446.62" cy="104" r="1.75"/><circle cx="448.23" cy="103.96" r="1.75"/><circle cx="449.85" cy="103.57" r="1.75"/><circle cx="451.46" cy="103.07" r="1.75"/><circle cx="453.08" cy="103.09" r="1.75"/><circle cx="454.69" cy="102.73" r="1.75"/><circle cx="456.31" cy="102.71" r="1.75"/><circle cx="457.92" cy="103.06" r="1.75"/><circle cx="459.54" cy="102.69" r="1.75"/><circle cx="461.15" cy="102.57" r="1.75"/><circle cx="462.77" cy="102.51" r="1.75"/><circle cx="464.38" cy="102.44" r="1.75"/><circle cx="466" cy="102.08" r="1.75"/><circle cx="467.5" cy="47.58" r="1.75"/><circle cx="467.5" cy="44.99" r="1.75"/><circle cx="469.7" cy="41.34" r="1.75"/><circle cx="471.2" cy="37.67" r="1.75"/><circle cx="472.4" cy="28.83" r="1.75"/><circle cx="473.4" cy="24.1" r="1.75"/><circle cx="475.01" cy="24.31" r="1.75"/><circle cx="476.61" cy="24.06" r="1.75"/><circle cx="478.22" cy="24.17" r="1.75"/><circle cx="479.82" cy="23.6" r="1.75"/><circle cx="481.43" cy="23.55" r="1.75"/><circle cx="483.04" cy="23.34" r="1.75"/><circle cx="484.64" cy="23.75" r="1.75"/><circle cx="486.25" cy="23.74" r="1.75"/><circle cx="487.86" cy="23.45" r="1.75"/><circle cx="489.46" cy="23.15" r="1.75"/><circle cx="491.07" cy="23.36" r="1.75"/><circle cx="492.68" cy="23.23" r="1.75"/><circle cx="494.28" cy="22.96" r="1.75"/><circle cx="495.89" cy="22.64" r="1.75"/><circle cx="497.49" cy="22.57" r="1.75"/><circle cx="499.1" cy="22.55" r="1.75"/><circle cx="500.73" cy="22.35" r="1.75"/><circle cx="502.37" cy="22.31" r="1.75"/><circle cx="504" cy="22.33" r="1.75"/><circle cx="505.63" cy="22.41" r="1.75"/><circle cx="507.27" cy="21.68" r="1.75"/><circle cx="508.9" cy="21.91" r="1.75"/><circle cx="510.53" cy="21.42" r="1.75"/><circle cx="512.17" cy="21.36" r="1.75"/><circle cx="513.8" cy="21.72" r="1.75"/><circle cx="515.45" cy="21.48" r="1.75"/><circle cx="517.1" cy="21.64" r="1.75"/><circle cx="518.75" cy="21.24" r="1.75"/><circle cx="520.4" cy="20.86" r="1.75"/><circle cx="522.05" cy="21.05" r="1.75"/><circle cx="523.7" cy="21.11" r="1.75"/><circle cx="525.35" cy="21.28" r="1.75"/><circle cx="527" cy="21.24" r="1.75"/></g>
<polyline points="527,20.9 500,23.2 497.6,26.5 496.6,30.9 494.7,34.6 493.2,37.1 487.4,38 481.5,39.8 481.4,93.4 463.9,95.8 450.5,97.2 444.3,98.9 441.1,99.7 440.9,121.2 418.3,122.1 400,123.2 383.5,123.7" fill="none" stroke="#c4c4c4" stroke-width="0.8" stroke-linejoin="round" stroke-linecap="round" />
<g fill="#c4c4c4"><circle cx="527" cy="21.16" r="1.75"/><circle cx="525.31" cy="21.09" r="1.75"/><circle cx="523.62" cy="21.03" r="1.75"/><circle cx="521.94" cy="21.58" r="1.75"/><circle cx="520.25" cy="21.69" r="1.75"/><circle cx="518.56" cy="21.75" r="1.75"/><circle cx="516.88" cy="22.05" r="1.75"/><circle cx="515.19" cy="21.8" r="1.75"/><circle cx="513.5" cy="21.76" r="1.75"/><circle cx="511.81" cy="22.23" r="1.75"/><circle cx="510.12" cy="22.55" r="1.75"/><circle cx="508.44" cy="22.27" r="1.75"/><circle cx="506.75" cy="22.8" r="1.75"/><circle cx="505.06" cy="23.07" r="1.75"/><circle cx="503.38" cy="22.73" r="1.75"/><circle cx="501.69" cy="23.13" r="1.75"/><circle cx="500" cy="23.32" r="1.75"/><circle cx="497.6" cy="26.48" r="1.75"/><circle cx="496.6" cy="30.69" r="1.75"/><circle cx="494.7" cy="34.43" r="1.75"/><circle cx="493.2" cy="37.28" r="1.75"/><circle cx="491.27" cy="37.6" r="1.75"/><circle cx="489.33" cy="37.67" r="1.75"/><circle cx="487.4" cy="37.71" r="1.75"/><circle cx="485.43" cy="38.81" r="1.75"/><circle cx="483.47" cy="39.39" r="1.75"/><circle cx="481.5" cy="39.61" r="1.75"/><circle cx="481.4" cy="93.46" r="1.75"/><circle cx="479.65" cy="93.92" r="1.75"/><circle cx="477.9" cy="94.15" r="1.75"/><circle cx="476.15" cy="94.14" r="1.75"/><circle cx="474.4" cy="94.34" r="1.75"/><circle cx="472.65" cy="94.66" r="1.75"/><circle cx="470.9" cy="94.62" r="1.75"/><circle cx="469.15" cy="94.86" r="1.75"/><circle cx="467.4" cy="95.1" r="1.75"/><circle cx="465.65" cy="95.7" r="1.75"/><circle cx="463.9" cy="95.7" r="1.75"/><circle cx="462.22" cy="96.02" r="1.75"/><circle cx="460.55" cy="96.08" r="1.75"/><circle cx="458.88" cy="96.34" r="1.75"/><circle cx="457.2" cy="96.25" r="1.75"/><circle cx="455.52" cy="96.36" r="1.75"/><circle cx="453.85" cy="97.2" r="1.75"/><circle cx="452.18" cy="96.94" r="1.75"/><circle cx="450.5" cy="96.92" r="1.75"/><circle cx="448.43" cy="97.86" r="1.75"/><circle cx="446.37" cy="98.53" r="1.75"/><circle cx="444.3" cy="98.66" r="1.75"/><circle cx="441.1" cy="99.77" r="1.75"/><circle cx="440.9" cy="121.09" r="1.75"/><circle cx="439.29" cy="121.28" r="1.75"/><circle cx="437.67" cy="120.99" r="1.75"/><circle cx="436.06" cy="121.07" r="1.75"/><circle cx="434.44" cy="121.8" r="1.75"/><circle cx="432.83" cy="121.78" r="1.75"/><circle cx="431.21" cy="121.58" r="1.75"/><circle cx="429.6" cy="121.7" r="1.75"/><circle cx="427.99" cy="121.55" r="1.75"/><circle cx="426.37" cy="121.97" r="1.75"/><circle cx="424.76" cy="121.79" r="1.75"/><circle cx="423.14" cy="122.22" r="1.75"/><circle cx="421.53" cy="122.16" r="1.75"/><circle cx="419.91" cy="122.26" r="1.75"/><circle cx="418.3" cy="122.42" r="1.75"/><circle cx="416.64" cy="122.03" r="1.75"/><circle cx="414.97" cy="121.98" r="1.75"/><circle cx="413.31" cy="122.19" r="1.75"/><circle cx="411.65" cy="122.28" r="1.75"/><circle cx="409.98" cy="122.31" r="1.75"/><circle cx="408.32" cy="122.39" r="1.75"/><circle cx="406.65" cy="122.84" r="1.75"/><circle cx="404.99" cy="123.16" r="1.75"/><circle cx="403.33" cy="122.97" r="1.75"/><circle cx="401.66" cy="123.41" r="1.75"/><circle cx="400" cy="123.49" r="1.75"/><circle cx="398.35" cy="122.94" r="1.75"/><circle cx="396.7" cy="123.37" r="1.75"/><circle cx="395.05" cy="123.28" r="1.75"/><circle cx="393.4" cy="123.13" r="1.75"/><circle cx="391.75" cy="123.77" r="1.75"/><circle cx="390.1" cy="123.33" r="1.75"/><circle cx="388.45" cy="123.6" r="1.75"/><circle cx="386.8" cy="123.7" r="1.75"/><circle cx="385.15" cy="123.97" r="1.75"/><circle cx="383.5" cy="123.82" r="1.75"/></g>
<line x1="430.9" y1="51" x2="430.2" y2="102.8" stroke="#29a3df" stroke-width="0.75" />
<polyline points="466,102 466.5,91.8 467.7,47.5" fill="none" stroke="#29a3df" stroke-width="0.75" stroke-linejoin="round" stroke-linecap="round" />
<circle cx="466.5" cy="91.8" r="1.5" fill="#29a3df"/>
<polyline points="422,106.34 423,106.31 424,106.07 425,106.5 426,106.45 427,105.93 428,105.76 429,105.83 430,105.82 431,106.09 432,106.03 433,105.93 434,105.39 435,105.78 436,105.67 437,105.57 438,105.71 439,105.09 440,105.09 441,105.37 442,105.39 443,105.15 444,104.83 445,104.92 446,104.93 447,104.46 448,104.5 449,104.37 450,104.21 451,104.34 452,104.06 453,104.02 454,103.87 455,104.11 456,103.56 457,103.84 458,103.38 459,103.14 460,103.53 461,102.96 462,103.24 463,103.06 464,102.92 465,102.33 466,102.37" fill="none" stroke="#29a3df" stroke-width="2.09" stroke-linejoin="round" stroke-linecap="round" />
<g fill="#29a3df"><circle cx="421.76" cy="107.09" r="1.6"/><circle cx="423.33" cy="106.54" r="1.6"/><circle cx="424.22" cy="106.01" r="1.6"/><circle cx="425.57" cy="106.16" r="1.6"/><circle cx="426.58" cy="105.55" r="1.6"/><circle cx="427.46" cy="105.35" r="1.6"/><circle cx="428.88" cy="106.07" r="1.6"/><circle cx="429.66" cy="106.51" r="1.6"/><circle cx="430.86" cy="105.71" r="1.6"/><circle cx="431.92" cy="105.42" r="1.6"/><circle cx="433.45" cy="105.45" r="1.6"/><circle cx="434.18" cy="105.63" r="1.6"/><circle cx="435.39" cy="106.22" r="1.6"/><circle cx="436.39" cy="106.27" r="1.6"/><circle cx="437.48" cy="106.07" r="1.6"/><circle cx="438.98" cy="104.91" r="1.6"/><circle cx="439.99" cy="104.96" r="1.6"/><circle cx="441.01" cy="104.72" r="1.6"/><circle cx="442.23" cy="105.89" r="1.6"/><circle cx="443.76" cy="105.68" r="1.6"/><circle cx="444.37" cy="104.56" r="1.6"/><circle cx="446.01" cy="104.09" r="1.6"/><circle cx="447.06" cy="104.37" r="1.6"/><circle cx="448.36" cy="103.83" r="1.6"/><circle cx="449.41" cy="104.25" r="1.6"/><circle cx="450.17" cy="103.6" r="1.6"/><circle cx="451.74" cy="104.34" r="1.6"/><circle cx="452.5" cy="104.1" r="1.6"/><circle cx="454.09" cy="103.65" r="1.6"/><circle cx="455.04" cy="103.42" r="1.6"/><circle cx="455.91" cy="104.27" r="1.6"/><circle cx="457.33" cy="103.19" r="1.6"/><circle cx="458.05" cy="102.86" r="1.6"/><circle cx="459.47" cy="103.35" r="1.6"/><circle cx="460.36" cy="102.73" r="1.6"/><circle cx="461.67" cy="103.37" r="1.6"/><circle cx="462.89" cy="103.01" r="1.6"/><circle cx="463.62" cy="102.03" r="1.6"/><circle cx="465.04" cy="102.41" r="1.6"/><circle cx="466.13" cy="101.69" r="1.6"/></g>
<polyline points="430.9,51.19 431.9,50.84 432.91,51.09 433.91,51.04 434.91,50.76 435.92,50.42 436.92,50.89 437.92,50.58 438.93,50.75 439.93,50.33 440.93,50.23 441.94,50.55 442.94,50.22 443.94,50.04 444.95,50.1 445.95,50.18 446.96,49.76 447.96,50.02 448.96,49.91 449.97,49.9 450.97,49.6 451.97,49.9 452.98,49.9 453.98,49.87 454.98,49.49 455.99,49.66 456.99,49.4 457.99,49.57 459,49.1 460,49.52 461,49.51 462.01,49.18 463.01,49.13 464.01,49.08 465.02,49.02 466.02,48.65 467.02,49.16 468.03,48.65 469.03,48.56 470.04,48.45 471.04,48.48 472.04,48.76 473.05,48.23 474.05,48.21 475.05,48.51 476.06,48.15 477.06,47.98 478.06,48.27 479.07,48.19 480.07,48.1 481.08,48.15 482.08,47.73 483.08,48.13 484.09,47.97 485.09,47.51 486.09,47.5 487.1,47.66 488.1,47.6" fill="none" stroke="#29a3df" stroke-width="2.04" stroke-linejoin="round" stroke-linecap="round" />
<g fill="#29a3df"><circle cx="430.77" cy="50.4" r="1.55"/><circle cx="431.96" cy="50.35" r="1.55"/><circle cx="433.19" cy="51.45" r="1.55"/><circle cx="434.05" cy="50.92" r="1.55"/><circle cx="435.52" cy="50.2" r="1.55"/><circle cx="436.69" cy="51.37" r="1.55"/><circle cx="437.55" cy="50.48" r="1.55"/><circle cx="438.94" cy="50.58" r="1.55"/><circle cx="439.79" cy="51.18" r="1.55"/><circle cx="441.14" cy="50.15" r="1.55"/><circle cx="441.94" cy="50.08" r="1.55"/><circle cx="443.17" cy="51.05" r="1.55"/><circle cx="444.51" cy="50.88" r="1.55"/><circle cx="445.64" cy="50.71" r="1.55"/><circle cx="446.3" cy="50.11" r="1.55"/><circle cx="447.96" cy="50.71" r="1.55"/><circle cx="448.66" cy="49.83" r="1.55"/><circle cx="450.01" cy="49.67" r="1.55"/><circle cx="451.06" cy="49.13" r="1.55"/><circle cx="452.13" cy="49.77" r="1.55"/><circle cx="453" cy="49.12" r="1.55"/><circle cx="454.69" cy="50.07" r="1.55"/><circle cx="455.79" cy="49.77" r="1.55"/><circle cx="456.83" cy="50.11" r="1.55"/><circle cx="457.99" cy="48.69" r="1.55"/><circle cx="458.97" cy="48.99" r="1.55"/><circle cx="460.11" cy="48.94" r="1.55"/><circle cx="461.15" cy="49.91" r="1.55"/><circle cx="462.32" cy="48.76" r="1.55"/><circle cx="463.38" cy="48.99" r="1.55"/><circle cx="464.77" cy="48.69" r="1.55"/><circle cx="465.5" cy="49.2" r="1.55"/><circle cx="466.52" cy="49.04" r="1.55"/><circle cx="468.14" cy="48.85" r="1.55"/><circle cx="468.85" cy="48.7" r="1.55"/><circle cx="470.14" cy="48.13" r="1.55"/><circle cx="471.01" cy="48.03" r="1.55"/><circle cx="472.24" cy="48.4" r="1.55"/><circle cx="473.36" cy="48.07" r="1.55"/><circle cx="474.36" cy="48.49" r="1.55"/><circle cx="475.94" cy="48.52" r="1.55"/><circle cx="476.9" cy="48.52" r="1.55"/><circle cx="477.8" cy="48.55" r="1.55"/><circle cx="479.08" cy="48.22" r="1.55"/><circle cx="480.3" cy="48.03" r="1.55"/><circle cx="481.24" cy="47.6" r="1.55"/><circle cx="482.31" cy="47.96" r="1.55"/><circle cx="483.53" cy="48.01" r="1.55"/><circle cx="484.44" cy="47.57" r="1.55"/><circle cx="486.07" cy="47.32" r="1.55"/><circle cx="487.01" cy="47.65" r="1.55"/><circle cx="487.97" cy="48.38" r="1.55"/></g>
<line x1="448.1" y1="43" x2="448.1" y2="110" stroke="#29a3df" stroke-width="0.9" stroke-dasharray="1 1.4"/>
<line x1="457.7" y1="41.9" x2="444.2" y2="41.9" stroke="#29a3df" stroke-width="0.9" />
<path d="M441 41.9L444.2 40.3L444.2 43.5Z" fill="#29a3df"/>
<line x1="424.9" y1="66.8" x2="424.9" y2="79.4" stroke="#29a3df" stroke-width="0.9" />
<path d="M424.9 82.6L423.3 79.4L426.5 79.4Z" fill="#29a3df"/>
<line x1="450.7" y1="72.1" x2="464.4" y2="72.1" stroke="#222" stroke-width="0.8" />
<path d="M448.1 72.1L450.7 70.8L450.7 73.4Z" fill="#222"/>
<path d="M467 72.1L464.4 70.8L464.4 73.4Z" fill="#222"/>
<line x1="451.2" y1="86.5" x2="453.1" y2="86.5" stroke="#222" stroke-width="0.8" />
<path d="M449 86.5L451.2 85.3L451.2 87.7Z" fill="#222"/>
<path d="M455.3 86.5L453.1 85.3L453.1 87.7Z" fill="#222"/>
<text x="455.8" y="64.7" font-size="11" fill="#1a1a1a" stroke="#1a1a1a" stroke-width="0.22"><tspan font-style="italic">H</tspan><tspan font-size="7" dy="3.6">c</tspan></text>
<text x="435.2" y="87.5" font-size="11" fill="#1a1a1a" stroke="#1a1a1a" stroke-width="0.22"><tspan font-style="italic">H</tspan><tspan font-size="7" dy="3.6">E</tspan></text>
<polyline points="527.5,124.1 540.2,123.4 555.3,122.1 557.3,116.8 559.9,112.9 561.9,107.6 566.5,105.7 571.7,106.3 574.1,103.7 574.9,95.8 574.9,51.9 595.1,49.3 609,47.4 610.9,46.7 612.5,44.7 614.4,37 615.8,29.5 616.9,24.4 630,23.9 643.8,23.3 653.7,22 670.5,21.8" fill="none" stroke="#c4c4c4" stroke-width="0.8" stroke-linejoin="round" stroke-linecap="round" />
<g fill="#c4c4c4"><circle cx="527.5" cy="124.12" r="1.75"/><circle cx="529.31" cy="123.72" r="1.75"/><circle cx="531.13" cy="123.81" r="1.75"/><circle cx="532.94" cy="123.73" r="1.75"/><circle cx="534.76" cy="123.74" r="1.75"/><circle cx="536.57" cy="123.65" r="1.75"/><circle cx="538.39" cy="123.77" r="1.75"/><circle cx="540.2" cy="123.73" r="1.75"/><circle cx="541.88" cy="123.25" r="1.75"/><circle cx="543.56" cy="123.07" r="1.75"/><circle cx="545.23" cy="123.05" r="1.75"/><circle cx="546.91" cy="123.17" r="1.75"/><circle cx="548.59" cy="122.57" r="1.75"/><circle cx="550.27" cy="122.55" r="1.75"/><circle cx="551.94" cy="122.61" r="1.75"/><circle cx="553.62" cy="122.01" r="1.75"/><circle cx="555.3" cy="121.97" r="1.75"/><circle cx="557.3" cy="117.13" r="1.75"/><circle cx="559.9" cy="113.13" r="1.75"/><circle cx="561.9" cy="107.61" r="1.75"/><circle cx="564.2" cy="106.38" r="1.75"/><circle cx="566.5" cy="105.98" r="1.75"/><circle cx="568.23" cy="106.03" r="1.75"/><circle cx="569.97" cy="106.32" r="1.75"/><circle cx="571.7" cy="106.64" r="1.75"/><circle cx="574.1" cy="103.97" r="1.75"/><circle cx="574.9" cy="95.74" r="1.75"/><circle cx="574.9" cy="51.66" r="1.75"/><circle cx="576.58" cy="51.54" r="1.75"/><circle cx="578.27" cy="51.47" r="1.75"/><circle cx="579.95" cy="51.25" r="1.75"/><circle cx="581.63" cy="50.82" r="1.75"/><circle cx="583.32" cy="50.59" r="1.75"/><circle cx="585" cy="50.69" r="1.75"/><circle cx="586.68" cy="50.46" r="1.75"/><circle cx="588.37" cy="50.06" r="1.75"/><circle cx="590.05" cy="50.3" r="1.75"/><circle cx="591.73" cy="49.83" r="1.75"/><circle cx="593.42" cy="49.2" r="1.75"/><circle cx="595.1" cy="49.24" r="1.75"/><circle cx="596.84" cy="49.26" r="1.75"/><circle cx="598.58" cy="48.69" r="1.75"/><circle cx="600.31" cy="48.72" r="1.75"/><circle cx="602.05" cy="48" r="1.75"/><circle cx="603.79" cy="47.98" r="1.75"/><circle cx="605.52" cy="48.11" r="1.75"/><circle cx="607.26" cy="47.7" r="1.75"/><circle cx="609" cy="47.52" r="1.75"/><circle cx="610.9" cy="46.49" r="1.75"/><circle cx="612.5" cy="44.7" r="1.75"/><circle cx="614.4" cy="37.04" r="1.75"/><circle cx="615.8" cy="29.34" r="1.75"/><circle cx="616.9" cy="24.5" r="1.75"/><circle cx="618.54" cy="24.36" r="1.75"/><circle cx="620.17" cy="24.62" r="1.75"/><circle cx="621.81" cy="24.26" r="1.75"/><circle cx="623.45" cy="24.09" r="1.75"/><circle cx="625.09" cy="23.82" r="1.75"/><circle cx="626.73" cy="23.78" r="1.75"/><circle cx="628.36" cy="24.14" r="1.75"/><circle cx="630" cy="23.62" r="1.75"/><circle cx="631.73" cy="23.55" r="1.75"/><circle cx="633.45" cy="23.52" r="1.75"/><circle cx="635.17" cy="23.69" r="1.75"/><circle cx="636.9" cy="23.83" r="1.75"/><circle cx="638.62" cy="23.6" r="1.75"/><circle cx="640.35" cy="23.66" r="1.75"/><circle cx="642.07" cy="23.07" r="1.75"/><circle cx="643.8" cy="22.96" r="1.75"/><circle cx="645.45" cy="23.27" r="1.75"/><circle cx="647.1" cy="22.74" r="1.75"/><circle cx="648.75" cy="22.8" r="1.75"/><circle cx="650.4" cy="22.33" r="1.75"/><circle cx="652.05" cy="21.99" r="1.75"/><circle cx="653.7" cy="21.84" r="1.75"/><circle cx="655.38" cy="21.7" r="1.75"/><circle cx="657.06" cy="22.24" r="1.75"/><circle cx="658.74" cy="22" r="1.75"/><circle cx="660.42" cy="21.81" r="1.75"/><circle cx="662.1" cy="21.86" r="1.75"/><circle cx="663.78" cy="21.8" r="1.75"/><circle cx="665.46" cy="21.55" r="1.75"/><circle cx="667.14" cy="22.11" r="1.75"/><circle cx="668.82" cy="21.88" r="1.75"/><circle cx="670.5" cy="22.12" r="1.75"/></g>
<polyline points="527.5,124.1 555.3,122.1 566.5,122.8 584.2,121.4 585.6,107 586.9,103 588.8,99.7 606,96.5 624.9,94 626.3,39.6 632.3,39.6 635.1,39 637.8,35.8 640,31.9 641.6,27 642.7,25 643.8,23.3 653.7,22 670.5,21.8" fill="none" stroke="#c4c4c4" stroke-width="0.8" stroke-linejoin="round" stroke-linecap="round" />
<g fill="#c4c4c4"><circle cx="527.5" cy="123.97" r="1.75"/><circle cx="529.14" cy="124.1" r="1.75"/><circle cx="530.77" cy="123.59" r="1.75"/><circle cx="532.41" cy="123.79" r="1.75"/><circle cx="534.04" cy="123.53" r="1.75"/><circle cx="535.68" cy="123.51" r="1.75"/><circle cx="537.31" cy="123.25" r="1.75"/><circle cx="538.95" cy="122.97" r="1.75"/><circle cx="540.58" cy="123.03" r="1.75"/><circle cx="542.22" cy="122.85" r="1.75"/><circle cx="543.85" cy="122.66" r="1.75"/><circle cx="545.49" cy="122.96" r="1.75"/><circle cx="547.12" cy="122.54" r="1.75"/><circle cx="548.76" cy="122.5" r="1.75"/><circle cx="550.39" cy="122.74" r="1.75"/><circle cx="552.03" cy="122.53" r="1.75"/><circle cx="553.66" cy="122.49" r="1.75"/><circle cx="555.3" cy="122.35" r="1.75"/><circle cx="556.9" cy="121.94" r="1.75"/><circle cx="558.5" cy="122.14" r="1.75"/><circle cx="560.1" cy="122.07" r="1.75"/><circle cx="561.7" cy="122.63" r="1.75"/><circle cx="563.3" cy="122.71" r="1.75"/><circle cx="564.9" cy="122.6" r="1.75"/><circle cx="566.5" cy="122.74" r="1.75"/><circle cx="568.11" cy="122.78" r="1.75"/><circle cx="569.72" cy="122.68" r="1.75"/><circle cx="571.33" cy="122.24" r="1.75"/><circle cx="572.94" cy="122.53" r="1.75"/><circle cx="574.55" cy="122.06" r="1.75"/><circle cx="576.15" cy="122.13" r="1.75"/><circle cx="577.76" cy="121.69" r="1.75"/><circle cx="579.37" cy="121.51" r="1.75"/><circle cx="580.98" cy="121.94" r="1.75"/><circle cx="582.59" cy="121.69" r="1.75"/><circle cx="584.2" cy="121.55" r="1.75"/><circle cx="585.6" cy="106.68" r="1.75"/><circle cx="586.9" cy="102.68" r="1.75"/><circle cx="588.8" cy="99.46" r="1.75"/><circle cx="590.52" cy="99.17" r="1.75"/><circle cx="592.24" cy="98.92" r="1.75"/><circle cx="593.96" cy="98.66" r="1.75"/><circle cx="595.68" cy="98.1" r="1.75"/><circle cx="597.4" cy="97.97" r="1.75"/><circle cx="599.12" cy="97.88" r="1.75"/><circle cx="600.84" cy="97.24" r="1.75"/><circle cx="602.56" cy="97.38" r="1.75"/><circle cx="604.28" cy="96.87" r="1.75"/><circle cx="606" cy="96.65" r="1.75"/><circle cx="607.72" cy="96.1" r="1.75"/><circle cx="609.44" cy="96" r="1.75"/><circle cx="611.15" cy="95.95" r="1.75"/><circle cx="612.87" cy="95.49" r="1.75"/><circle cx="614.59" cy="95.01" r="1.75"/><circle cx="616.31" cy="95.37" r="1.75"/><circle cx="618.03" cy="95.1" r="1.75"/><circle cx="619.75" cy="94.53" r="1.75"/><circle cx="621.46" cy="94.13" r="1.75"/><circle cx="623.18" cy="94.48" r="1.75"/><circle cx="624.9" cy="94.08" r="1.75"/><circle cx="626.3" cy="39.28" r="1.75"/><circle cx="628.3" cy="39.42" r="1.75"/><circle cx="630.3" cy="39.33" r="1.75"/><circle cx="632.3" cy="39.8" r="1.75"/><circle cx="635.1" cy="38.8" r="1.75"/><circle cx="637.8" cy="36.09" r="1.75"/><circle cx="640" cy="32.07" r="1.75"/><circle cx="641.6" cy="26.71" r="1.75"/><circle cx="642.7" cy="25.14" r="1.75"/><circle cx="643.8" cy="23.23" r="1.75"/><circle cx="645.45" cy="23.26" r="1.75"/><circle cx="647.1" cy="23.1" r="1.75"/><circle cx="648.75" cy="22.5" r="1.75"/><circle cx="650.4" cy="22.15" r="1.75"/><circle cx="652.05" cy="22.53" r="1.75"/><circle cx="653.7" cy="21.95" r="1.75"/><circle cx="655.38" cy="22.28" r="1.75"/><circle cx="657.06" cy="22.09" r="1.75"/><circle cx="658.74" cy="22.11" r="1.75"/><circle cx="660.42" cy="22.15" r="1.75"/><circle cx="662.1" cy="21.99" r="1.75"/><circle cx="663.78" cy="21.85" r="1.75"/><circle cx="665.46" cy="21.55" r="1.75"/><circle cx="667.14" cy="21.98" r="1.75"/><circle cx="668.82" cy="21.77" r="1.75"/><circle cx="670.5" cy="21.81" r="1.75"/></g>
<polyline points="590.7,42.6 589.8,61.6 588.1,97.5" fill="none" stroke="#e8561f" stroke-width="0.75" stroke-linejoin="round" stroke-linecap="round" />
<polyline points="624.9,94 625.3,69.5 626.3,39.6" fill="none" stroke="#e8561f" stroke-width="0.75" stroke-linejoin="round" stroke-linecap="round" />
<circle cx="589.8" cy="61.6" r="1.5" fill="#e8561f"/>
<circle cx="625.3" cy="69.5" r="1.5" fill="#e8561f"/>
<polyline points="566.5,98.66 567.52,98.14 568.54,98.48 569.57,98.01 570.59,98.37 571.61,98.39 572.63,98.02 573.65,98.15 574.67,98.37 575.7,98.13 576.72,98.04 577.74,97.82 578.76,97.67 579.78,97.81 580.8,97.8 581.83,97.63 582.85,97.66 583.87,97.52 584.89,97.82 585.91,97.76 586.93,97.46 587.96,97.42 588.98,97.55 590,97.47 591,97.7 592,97.29 593,97.2 594,97.49 595,96.99 596,97.18 597,96.98 598,97.21 599,96.99 600,97.06 601,96.64 602,96.88 603,96.78 604,96.64 605,96.76 606,96.74 607,96.25 608,96.29 609,96.28 610,96.12 611.06,95.93 612.13,95.95 613.19,95.8 614.26,95.99 615.32,95.73 616.39,95.42 617.45,95.44 618.51,95.42 619.58,95.25 620.64,95.03 621.71,94.86 622.77,94.72 623.84,95.2 624.9,94.95" fill="none" stroke="#e8561f" stroke-width="2.2" stroke-linejoin="round" stroke-linecap="round" />
<g fill="#e8561f"><circle cx="566.25" cy="98.75" r="1.68"/><circle cx="567.91" cy="98.46" r="1.68"/><circle cx="568.5" cy="98.3" r="1.68"/><circle cx="569.82" cy="97.78" r="1.68"/><circle cx="571" cy="97.44" r="1.68"/><circle cx="572.35" cy="98.42" r="1.68"/><circle cx="573.29" cy="98.84" r="1.68"/><circle cx="574.42" cy="97.7" r="1.68"/><circle cx="575.3" cy="97.48" r="1.68"/><circle cx="576.29" cy="98.45" r="1.68"/><circle cx="577.89" cy="97.65" r="1.68"/><circle cx="578.62" cy="98.15" r="1.68"/><circle cx="580.14" cy="98.57" r="1.68"/><circle cx="580.85" cy="98.3" r="1.68"/><circle cx="582.36" cy="98.19" r="1.68"/><circle cx="583.18" cy="97.25" r="1.68"/><circle cx="584.6" cy="97.43" r="1.68"/><circle cx="585.44" cy="97.75" r="1.68"/><circle cx="586.56" cy="98.16" r="1.68"/><circle cx="587.61" cy="96.85" r="1.68"/><circle cx="588.92" cy="97.75" r="1.68"/><circle cx="590.19" cy="97.83" r="1.68"/><circle cx="591.35" cy="98.15" r="1.68"/><circle cx="592.22" cy="97.37" r="1.68"/><circle cx="593.13" cy="96.98" r="1.68"/><circle cx="594.49" cy="96.56" r="1.68"/><circle cx="595.67" cy="96.63" r="1.68"/><circle cx="596.63" cy="97.85" r="1.68"/><circle cx="597.53" cy="96.3" r="1.68"/><circle cx="598.85" cy="96.47" r="1.68"/><circle cx="600.13" cy="96.1" r="1.68"/><circle cx="601.32" cy="97.4" r="1.68"/><circle cx="602.39" cy="96.65" r="1.68"/><circle cx="603.2" cy="96.96" r="1.68"/><circle cx="604.45" cy="96.51" r="1.68"/><circle cx="605.46" cy="96.47" r="1.68"/><circle cx="606.77" cy="97.02" r="1.68"/><circle cx="608.02" cy="95.9" r="1.68"/><circle cx="608.77" cy="96.28" r="1.68"/><circle cx="610.04" cy="96.06" r="1.68"/><circle cx="610.96" cy="95.52" r="1.68"/><circle cx="612.19" cy="96.01" r="1.68"/><circle cx="613.72" cy="96.61" r="1.68"/><circle cx="614.8" cy="96.6" r="1.68"/><circle cx="616.01" cy="95.91" r="1.68"/><circle cx="617.06" cy="94.9" r="1.68"/><circle cx="618.13" cy="95.67" r="1.68"/><circle cx="619.05" cy="95.49" r="1.68"/><circle cx="620.59" cy="95.23" r="1.68"/><circle cx="621.55" cy="94.83" r="1.68"/><circle cx="622.51" cy="95.65" r="1.68"/><circle cx="623.47" cy="94.42" r="1.68"/><circle cx="625.01" cy="94.72" r="1.68"/></g>
<polyline points="590.7,42.45 591.72,42.73 592.73,42.5 593.75,42.56 594.76,42.4 595.78,42.4 596.79,42.36 597.81,42.2 598.83,41.96 599.84,41.94 600.86,42.3 601.87,42.03 602.89,41.71 603.91,42.1 604.92,41.67 605.94,41.51 606.95,41.71 607.97,41.48 608.98,41.56 610,41.53 611.04,41.27 612.09,41.41 613.13,41.07 614.17,41.24 615.21,41.22 616.26,40.85 617.3,40.98 618.34,40.71 619.39,40.86 620.43,41.05 621.47,40.8 622.51,40.83 623.56,40.79 624.6,40.34 625.64,40.79 626.69,40.57 627.73,40.13 628.77,40.5 629.81,40.17 630.86,39.97 631.9,40.38" fill="none" stroke="#e8561f" stroke-width="2.15" stroke-linejoin="round" stroke-linecap="round" />
<g fill="#e8561f"><circle cx="590.74" cy="43.14" r="1.64"/><circle cx="591.62" cy="43.07" r="1.64"/><circle cx="592.71" cy="42.14" r="1.64"/><circle cx="594.03" cy="41.71" r="1.64"/><circle cx="595.3" cy="41.96" r="1.64"/><circle cx="596.26" cy="42.68" r="1.64"/><circle cx="597.47" cy="42.9" r="1.64"/><circle cx="598.72" cy="42.8" r="1.64"/><circle cx="599.82" cy="42.8" r="1.64"/><circle cx="601.14" cy="41.53" r="1.64"/><circle cx="602.2" cy="41.74" r="1.64"/><circle cx="603.35" cy="42.21" r="1.64"/><circle cx="604.52" cy="41.25" r="1.64"/><circle cx="605.38" cy="42.16" r="1.64"/><circle cx="606.86" cy="42.07" r="1.64"/><circle cx="607.46" cy="41.81" r="1.64"/><circle cx="608.62" cy="41.65" r="1.64"/><circle cx="610.18" cy="40.88" r="1.64"/><circle cx="611.41" cy="41.71" r="1.64"/><circle cx="612.16" cy="40.86" r="1.64"/><circle cx="613.43" cy="41.82" r="1.64"/><circle cx="614.66" cy="40.59" r="1.64"/><circle cx="615.48" cy="40.51" r="1.64"/><circle cx="617.1" cy="40.55" r="1.64"/><circle cx="618.1" cy="40.65" r="1.64"/><circle cx="619.33" cy="40.72" r="1.64"/><circle cx="620.16" cy="41.44" r="1.64"/><circle cx="621.55" cy="41.07" r="1.64"/><circle cx="622.86" cy="41.41" r="1.64"/><circle cx="623.54" cy="40.36" r="1.64"/><circle cx="624.77" cy="40.54" r="1.64"/><circle cx="626.36" cy="40.95" r="1.64"/><circle cx="627.01" cy="39.89" r="1.64"/><circle cx="628.63" cy="40.61" r="1.64"/><circle cx="629.53" cy="40.21" r="1.64"/><circle cx="630.54" cy="40.73" r="1.64"/><circle cx="631.84" cy="40.7" r="1.64"/></g>
<line x1="607.4" y1="34.4" x2="607.4" y2="98.4" stroke="#e8561f" stroke-width="0.9" stroke-dasharray="1 1.4"/>
<line x1="599.5" y1="102.8" x2="613.8" y2="102.8" stroke="#e8561f" stroke-width="0.9" />
<path d="M617 102.8L613.8 104.4L613.8 101.2Z" fill="#e8561f"/>
<line x1="631" y1="79.1" x2="631" y2="65.7" stroke="#e8561f" stroke-width="0.9" />
<path d="M631 62.5L632.6 65.7L629.4 65.7Z" fill="#e8561f"/>
<line x1="592.4" y1="69.5" x2="604.8" y2="69.5" stroke="#222" stroke-width="0.8" />
<path d="M589.8 69.5L592.4 68.2L592.4 70.8Z" fill="#222"/>
<path d="M607.4 69.5L604.8 68.2L604.8 70.8Z" fill="#222"/>
<line x1="601.7" y1="80" x2="604" y2="80" stroke="#222" stroke-width="0.8" />
<path d="M599.5 80L601.7 78.8L601.7 81.2Z" fill="#222"/>
<path d="M606.2 80L604 78.8L604 81.2Z" fill="#222"/>
<text x="576.8" y="66.8" font-size="11" fill="#1a1a1a" stroke="#1a1a1a" stroke-width="0.22"><tspan font-style="italic">H</tspan><tspan font-size="7" dy="3.6">c</tspan></text>
<text x="609.8" y="82.3" font-size="11" fill="#1a1a1a" stroke="#1a1a1a" stroke-width="0.22"><tspan font-style="italic">H</tspan><tspan font-size="7" dy="3.6">E</tspan></text>
<rect x="23.5" y="195.5" width="191" height="230" fill="none" stroke="#999" stroke-width="1"/>
<line x1="118.6" y1="196" x2="118.6" y2="425" stroke="#d0d0d0" stroke-width="0.9" stroke-dasharray="3 2.5"/>
<line x1="42.6" y1="425.5" x2="42.6" y2="429.1" stroke="#999" stroke-width="0.9" />
<line x1="80.8" y1="425.5" x2="80.8" y2="429.1" stroke="#999" stroke-width="0.9" />
<line x1="119" y1="425.5" x2="119" y2="429.1" stroke="#999" stroke-width="0.9" />
<line x1="157.2" y1="425.5" x2="157.2" y2="429.1" stroke="#999" stroke-width="0.9" />
<line x1="195.4" y1="425.5" x2="195.4" y2="429.1" stroke="#999" stroke-width="0.9" />
<line x1="23.5" y1="425.5" x2="23.5" y2="427.5" stroke="#999" stroke-width="0.9" />
<line x1="61.7" y1="425.5" x2="61.7" y2="427.5" stroke="#999" stroke-width="0.9" />
<line x1="99.9" y1="425.5" x2="99.9" y2="427.5" stroke="#999" stroke-width="0.9" />
<line x1="138.1" y1="425.5" x2="138.1" y2="427.5" stroke="#999" stroke-width="0.9" />
<line x1="176.3" y1="425.5" x2="176.3" y2="427.5" stroke="#999" stroke-width="0.9" />
<line x1="214.5" y1="425.5" x2="214.5" y2="427.5" stroke="#999" stroke-width="0.9" />
<text x="43.4" y="439.7" font-size="10" text-anchor="middle" fill="#1a1a1a" font-weight="normal" font-style="normal"  stroke="#1a1a1a" stroke-width="0.22">-0.2</text>
<text x="81.4" y="439.7" font-size="10" text-anchor="middle" fill="#1a1a1a" font-weight="normal" font-style="normal"  stroke="#1a1a1a" stroke-width="0.22">-0.1</text>
<text x="119.5" y="439.7" font-size="10" text-anchor="middle" fill="#1a1a1a" font-weight="normal" font-style="normal"  stroke="#1a1a1a" stroke-width="0.22">0</text>
<text x="158.5" y="439.7" font-size="10" text-anchor="middle" fill="#1a1a1a" font-weight="normal" font-style="normal"  stroke="#1a1a1a" stroke-width="0.22">0.1</text>
<text x="196.5" y="439.7" font-size="10" text-anchor="middle" fill="#1a1a1a" font-weight="normal" font-style="normal"  stroke="#1a1a1a" stroke-width="0.22">0.2</text>
<text x="121.2" y="450.9" font-size="11" fill="#1a1a1a" text-anchor="middle" stroke="#1a1a1a" stroke-width="0.22"><tspan font-style="italic">&#956;</tspan><tspan font-size="7.04" dy="3.6">0</tspan><tspan font-style="italic" dy="-3.6">H</tspan> (T)</text>
<text transform="translate(18.1 310) rotate(-90)" x="0" y="0" font-size="11.2" fill="#1a1a1a" text-anchor="middle" stroke="#1a1a1a" stroke-width="0.22">RMCD (%)</text>
<text x="0" y="192.7" font-size="11" text-anchor="start" fill="#000" font-weight="bold" font-style="normal"  stroke="#000" stroke-width="0.22">c</text>
<text x="94" y="189.7" font-size="11" fill="#1a1a1a" text-anchor="start"  stroke="#1a1a1a" stroke-width="0.22"><tspan>MnBi</tspan><tspan font-size="7" dy="3.7">4</tspan><tspan dy="-3.7">Te</tspan><tspan font-size="7" dy="3.7">7</tspan></text>
<line x1="28.5" y1="198.5" x2="28.5" y2="213.5" stroke="#8c8c8c" stroke-width="0.9" />
<line x1="26.85" y1="198.5" x2="30.15" y2="198.5" stroke="#3a3a3a" stroke-width="1" />
<line x1="26.85" y1="213.5" x2="30.15" y2="213.5" stroke="#3a3a3a" stroke-width="1" />
<text x="32.9" y="209.8" font-size="11.4" text-anchor="start" fill="#1a1a1a" font-weight="normal" font-style="normal"  stroke="#1a1a1a" stroke-width="0.22">0.2%</text>
<text x="213.3" y="215.8" font-size="11.5" text-anchor="end" fill="#1a1a1a" font-weight="normal" font-style="normal"  stroke="#1a1a1a" stroke-width="0.22">10 K</text>
<text x="213.3" y="251.9" font-size="11.5" text-anchor="end" fill="#1a1a1a" font-weight="normal" font-style="normal"  stroke="#1a1a1a" stroke-width="0.22">8 K</text>
<text x="213.3" y="292" font-size="11.5" text-anchor="end" fill="#1a1a1a" font-weight="normal" font-style="normal"  stroke="#1a1a1a" stroke-width="0.22">6 K</text>
<text x="213.3" y="336.2" font-size="11.5" text-anchor="end" fill="#1a1a1a" font-weight="normal" font-style="normal"  stroke="#1a1a1a" stroke-width="0.22">4 K</text>
<text x="213.3" y="384.3" font-size="11.5" text-anchor="end" fill="#1a1a1a" font-weight="normal" font-style="normal"  stroke="#1a1a1a" stroke-width="0.22">2 K</text>
<polyline points="35.7,233.2 45.4,232.3 51,229.5 60.3,228.2 69.6,227.1 79,224.9 88.3,223.9 94.8,223.2" fill="none" stroke="#c0c0c0" stroke-width="0.65" stroke-linejoin="round" stroke-linecap="round" />
<g fill="#c0c0c0"><circle cx="35.7" cy="233.32" r="0.8"/><circle cx="37.09" cy="233.08" r="0.8"/><circle cx="38.47" cy="233.01" r="0.8"/><circle cx="39.86" cy="232.74" r="0.8"/><circle cx="41.24" cy="232.71" r="0.8"/><circle cx="42.63" cy="232.51" r="0.8"/><circle cx="44.01" cy="232.21" r="0.8"/><circle cx="45.4" cy="232.22" r="0.8"/><circle cx="46.8" cy="231.51" r="0.8"/><circle cx="48.2" cy="231.14" r="0.8"/><circle cx="49.6" cy="230.19" r="0.8"/><circle cx="51" cy="229.43" r="0.8"/><circle cx="52.33" cy="229.19" r="0.8"/><circle cx="53.66" cy="229" r="0.8"/><circle cx="54.99" cy="228.87" r="0.8"/><circle cx="56.31" cy="228.57" r="0.8"/><circle cx="57.64" cy="228.33" r="0.8"/><circle cx="58.97" cy="228.57" r="0.8"/><circle cx="60.3" cy="228.18" r="0.8"/><circle cx="61.63" cy="228.02" r="0.8"/><circle cx="62.96" cy="227.92" r="0.8"/><circle cx="64.29" cy="227.63" r="0.8"/><circle cx="65.61" cy="227.41" r="0.8"/><circle cx="66.94" cy="227.2" r="0.8"/><circle cx="68.27" cy="227.16" r="0.8"/><circle cx="69.6" cy="227" r="0.8"/><circle cx="70.94" cy="226.9" r="0.8"/><circle cx="72.29" cy="226.5" r="0.8"/><circle cx="73.63" cy="226.38" r="0.8"/><circle cx="74.97" cy="225.76" r="0.8"/><circle cx="76.31" cy="225.74" r="0.8"/><circle cx="77.66" cy="225.26" r="0.8"/><circle cx="79" cy="224.69" r="0.8"/><circle cx="80.33" cy="224.6" r="0.8"/><circle cx="81.66" cy="224.65" r="0.8"/><circle cx="82.99" cy="224.72" r="0.8"/><circle cx="84.31" cy="224.26" r="0.8"/><circle cx="85.64" cy="224.32" r="0.8"/><circle cx="86.97" cy="224.01" r="0.8"/><circle cx="88.3" cy="224.08" r="0.8"/><circle cx="89.6" cy="223.54" r="0.8"/><circle cx="90.9" cy="223.61" r="0.8"/><circle cx="92.2" cy="223.68" r="0.8"/><circle cx="93.5" cy="223.23" r="0.8"/><circle cx="94.8" cy="223.08" r="0.8"/></g>
<polyline points="60.3,228.6 75.2,225.8 79,228.2 84.6,226.7 94.8,224" fill="none" stroke="#c0c0c0" stroke-width="0.65" stroke-linejoin="round" stroke-linecap="round" />
<g fill="#c0c0c0"><circle cx="60.3" cy="228.51" r="0.8"/><circle cx="61.65" cy="228.47" r="0.8"/><circle cx="63.01" cy="228.17" r="0.8"/><circle cx="64.36" cy="227.79" r="0.8"/><circle cx="65.72" cy="227.67" r="0.8"/><circle cx="67.07" cy="227.25" r="0.8"/><circle cx="68.43" cy="226.85" r="0.8"/><circle cx="69.78" cy="226.78" r="0.8"/><circle cx="71.14" cy="226.34" r="0.8"/><circle cx="72.49" cy="226.37" r="0.8"/><circle cx="73.85" cy="225.97" r="0.8"/><circle cx="75.2" cy="225.8" r="0.8"/><circle cx="77.1" cy="227.05" r="0.8"/><circle cx="79" cy="228.08" r="0.8"/><circle cx="80.4" cy="227.81" r="0.8"/><circle cx="81.8" cy="227.21" r="0.8"/><circle cx="83.2" cy="227.29" r="0.8"/><circle cx="84.6" cy="226.73" r="0.8"/><circle cx="86.06" cy="226.56" r="0.8"/><circle cx="87.51" cy="225.71" r="0.8"/><circle cx="88.97" cy="225.6" r="0.8"/><circle cx="90.43" cy="225.27" r="0.8"/><circle cx="91.89" cy="224.69" r="0.8"/><circle cx="93.34" cy="224.18" r="0.8"/><circle cx="94.8" cy="223.83" r="0.8"/></g>
<polyline points="38,233.6 46.5,232.8 51,229.8 61.1,228 70.1,227.4 78,225.3 86.9,224 94.8,223.6" fill="none" stroke="#c0c0c0" stroke-width="0.65" stroke-linejoin="round" stroke-linecap="round" />
<g fill="#c0c0c0"><circle cx="38" cy="233.42" r="0.8"/><circle cx="39.42" cy="233.31" r="0.8"/><circle cx="40.83" cy="233.45" r="0.8"/><circle cx="42.25" cy="233.41" r="0.8"/><circle cx="43.67" cy="232.9" r="0.8"/><circle cx="45.08" cy="232.7" r="0.8"/><circle cx="46.5" cy="232.94" r="0.8"/><circle cx="48" cy="231.67" r="0.8"/><circle cx="49.5" cy="231.04" r="0.8"/><circle cx="51" cy="229.8" r="0.8"/><circle cx="52.44" cy="229.61" r="0.8"/><circle cx="53.89" cy="229.21" r="0.8"/><circle cx="55.33" cy="229.18" r="0.8"/><circle cx="56.77" cy="228.75" r="0.8"/><circle cx="58.21" cy="228.43" r="0.8"/><circle cx="59.66" cy="228.46" r="0.8"/><circle cx="61.1" cy="227.8" r="0.8"/><circle cx="62.6" cy="228.02" r="0.8"/><circle cx="64.1" cy="227.58" r="0.8"/><circle cx="65.6" cy="227.77" r="0.8"/><circle cx="67.1" cy="227.55" r="0.8"/><circle cx="68.6" cy="227.68" r="0.8"/><circle cx="70.1" cy="227.18" r="0.8"/><circle cx="71.42" cy="227.08" r="0.8"/><circle cx="72.73" cy="226.65" r="0.8"/><circle cx="74.05" cy="226.56" r="0.8"/><circle cx="75.37" cy="226.22" r="0.8"/><circle cx="76.68" cy="225.71" r="0.8"/><circle cx="78" cy="225.16" r="0.8"/><circle cx="79.48" cy="224.96" r="0.8"/><circle cx="80.97" cy="224.75" r="0.8"/><circle cx="82.45" cy="224.62" r="0.8"/><circle cx="83.93" cy="224.3" r="0.8"/><circle cx="85.42" cy="224.07" r="0.8"/><circle cx="86.9" cy="224.13" r="0.8"/><circle cx="88.22" cy="224" r="0.8"/><circle cx="89.53" cy="223.77" r="0.8"/><circle cx="90.85" cy="224.05" r="0.8"/><circle cx="92.17" cy="223.59" r="0.8"/><circle cx="93.48" cy="223.7" r="0.8"/><circle cx="94.8" cy="223.43" r="0.8"/></g>
<polyline points="100,221.6 107.9,220.4 120,219.9 131,219.3 134,216.5 143,213.9 161.6,211.8 180.3,209 187.8,206 193.4,204.4 199.9,203.8" fill="none" stroke="#c0c0c0" stroke-width="0.65" stroke-linejoin="round" stroke-linecap="round" />
<g fill="#c0c0c0"><circle cx="100" cy="221.38" r="0.8"/><circle cx="101.32" cy="221.17" r="0.8"/><circle cx="102.63" cy="221.2" r="0.8"/><circle cx="103.95" cy="220.95" r="0.8"/><circle cx="105.27" cy="220.83" r="0.8"/><circle cx="106.58" cy="220.53" r="0.8"/><circle cx="107.9" cy="220.16" r="0.8"/><circle cx="109.24" cy="220.44" r="0.8"/><circle cx="110.59" cy="220.37" r="0.8"/><circle cx="111.93" cy="220.26" r="0.8"/><circle cx="113.28" cy="220.2" r="0.8"/><circle cx="114.62" cy="220.22" r="0.8"/><circle cx="115.97" cy="220.31" r="0.8"/><circle cx="117.31" cy="220.2" r="0.8"/><circle cx="118.66" cy="220.06" r="0.8"/><circle cx="120" cy="219.85" r="0.8"/><circle cx="121.38" cy="219.73" r="0.8"/><circle cx="122.75" cy="219.71" r="0.8"/><circle cx="124.12" cy="219.91" r="0.8"/><circle cx="125.5" cy="219.54" r="0.8"/><circle cx="126.88" cy="219.47" r="0.8"/><circle cx="128.25" cy="219.4" r="0.8"/><circle cx="129.62" cy="219.2" r="0.8"/><circle cx="131" cy="219.55" r="0.8"/><circle cx="132.5" cy="217.65" r="0.8"/><circle cx="134" cy="216.55" r="0.8"/><circle cx="135.5" cy="216.28" r="0.8"/><circle cx="137" cy="215.51" r="0.8"/><circle cx="138.5" cy="215.26" r="0.8"/><circle cx="140" cy="214.71" r="0.8"/><circle cx="141.5" cy="214.2" r="0.8"/><circle cx="143" cy="213.75" r="0.8"/><circle cx="144.33" cy="213.56" r="0.8"/><circle cx="145.66" cy="213.77" r="0.8"/><circle cx="146.99" cy="213.59" r="0.8"/><circle cx="148.31" cy="213.5" r="0.8"/><circle cx="149.64" cy="212.92" r="0.8"/><circle cx="150.97" cy="213.1" r="0.8"/><circle cx="152.3" cy="212.76" r="0.8"/><circle cx="153.63" cy="212.77" r="0.8"/><circle cx="154.96" cy="212.57" r="0.8"/><circle cx="156.29" cy="212.31" r="0.8"/><circle cx="157.61" cy="212.49" r="0.8"/><circle cx="158.94" cy="211.85" r="0.8"/><circle cx="160.27" cy="212.07" r="0.8"/><circle cx="161.6" cy="211.98" r="0.8"/><circle cx="162.94" cy="211.61" r="0.8"/><circle cx="164.27" cy="211.45" r="0.8"/><circle cx="165.61" cy="211.45" r="0.8"/><circle cx="166.94" cy="210.87" r="0.8"/><circle cx="168.28" cy="210.86" r="0.8"/><circle cx="169.61" cy="210.72" r="0.8"/><circle cx="170.95" cy="210.34" r="0.8"/><circle cx="172.29" cy="210.31" r="0.8"/><circle cx="173.62" cy="209.95" r="0.8"/><circle cx="174.96" cy="209.81" r="0.8"/><circle cx="176.29" cy="209.66" r="0.8"/><circle cx="177.63" cy="209.49" r="0.8"/><circle cx="178.96" cy="209.11" r="0.8"/><circle cx="180.3" cy="209.06" r="0.8"/><circle cx="181.8" cy="208.42" r="0.8"/><circle cx="183.3" cy="207.66" r="0.8"/><circle cx="184.8" cy="207.26" r="0.8"/><circle cx="186.3" cy="206.48" r="0.8"/><circle cx="187.8" cy="206.2" r="0.8"/><circle cx="189.2" cy="205.59" r="0.8"/><circle cx="190.6" cy="205.31" r="0.8"/><circle cx="192" cy="204.81" r="0.8"/><circle cx="193.4" cy="204.39" r="0.8"/><circle cx="194.7" cy="204.14" r="0.8"/><circle cx="196" cy="203.98" r="0.8"/><circle cx="197.3" cy="204.25" r="0.8"/><circle cx="198.6" cy="203.93" r="0.8"/><circle cx="199.9" cy="203.81" r="0.8"/></g>
<polyline points="143,212.7 161.6,209.9 180.3,208.1 187.8,205.3 193.4,204 199.9,203.4" fill="none" stroke="#c0c0c0" stroke-width="0.65" stroke-linejoin="round" stroke-linecap="round" />
<g fill="#c0c0c0"><circle cx="143" cy="212.81" r="0.8"/><circle cx="144.33" cy="212.39" r="0.8"/><circle cx="145.66" cy="212.21" r="0.8"/><circle cx="146.99" cy="211.97" r="0.8"/><circle cx="148.31" cy="212.07" r="0.8"/><circle cx="149.64" cy="211.5" r="0.8"/><circle cx="150.97" cy="211.57" r="0.8"/><circle cx="152.3" cy="211.48" r="0.8"/><circle cx="153.63" cy="210.95" r="0.8"/><circle cx="154.96" cy="210.86" r="0.8"/><circle cx="156.29" cy="210.85" r="0.8"/><circle cx="157.61" cy="210.56" r="0.8"/><circle cx="158.94" cy="210.24" r="0.8"/><circle cx="160.27" cy="209.87" r="0.8"/><circle cx="161.6" cy="209.87" r="0.8"/><circle cx="162.94" cy="209.71" r="0.8"/><circle cx="164.27" cy="209.75" r="0.8"/><circle cx="165.61" cy="209.41" r="0.8"/><circle cx="166.94" cy="209.34" r="0.8"/><circle cx="168.28" cy="209.33" r="0.8"/><circle cx="169.61" cy="209.28" r="0.8"/><circle cx="170.95" cy="208.93" r="0.8"/><circle cx="172.29" cy="208.81" r="0.8"/><circle cx="173.62" cy="208.78" r="0.8"/><circle cx="174.96" cy="208.83" r="0.8"/><circle cx="176.29" cy="208.33" r="0.8"/><circle cx="177.63" cy="208.59" r="0.8"/><circle cx="178.96" cy="208.33" r="0.8"/><circle cx="180.3" cy="208.04" r="0.8"/><circle cx="181.8" cy="207.62" r="0.8"/><circle cx="183.3" cy="206.89" r="0.8"/><circle cx="184.8" cy="206.21" r="0.8"/><circle cx="186.3" cy="205.99" r="0.8"/><circle cx="187.8" cy="205.24" r="0.8"/><circle cx="189.2" cy="204.99" r="0.8"/><circle cx="190.6" cy="204.65" r="0.8"/><circle cx="192" cy="204.53" r="0.8"/><circle cx="193.4" cy="204.13" r="0.8"/><circle cx="194.7" cy="203.64" r="0.8"/><circle cx="196" cy="203.81" r="0.8"/><circle cx="197.3" cy="203.62" r="0.8"/><circle cx="198.6" cy="203.5" r="0.8"/><circle cx="199.9" cy="203.57" r="0.8"/></g>
<polyline points="94.8,223.34 95.81,223.31 96.82,223.53 97.83,223.15 98.84,223.11 99.85,223.06 100.86,223.21 101.87,223.03 102.88,223.01 103.89,222.7 104.9,222.38 105.91,222.76 106.92,222.6 107.93,222.68 108.94,222.61 109.95,222.08 110.96,222.08 111.97,221.91 112.98,222.36 113.99,221.79 115,221.71 116,222.12 117,221.93 118,221.52 119,221.9 120,221.87 121,221.65 122,221.29 123,221.68 124,221.44 125,221.5 126,221.73 127,221.55 128,221.53 129,220.96 130,221.04 131,221.11" fill="none" stroke="#29a3df" stroke-width="1.6" stroke-linejoin="round" stroke-linecap="round" />
<g fill="#29a3df"><circle cx="94.5" cy="223.84" r="0.88"/><circle cx="96.5" cy="223.06" r="0.88"/><circle cx="98.36" cy="222.92" r="0.88"/><circle cx="100.52" cy="223.07" r="0.88"/><circle cx="102.15" cy="222.82" r="0.88"/><circle cx="103.71" cy="222.59" r="0.88"/><circle cx="106.04" cy="222.91" r="0.88"/><circle cx="107.87" cy="222.29" r="0.88"/><circle cx="109.31" cy="221.97" r="0.88"/><circle cx="111.35" cy="222.14" r="0.88"/><circle cx="113.14" cy="222.12" r="0.88"/><circle cx="115.05" cy="221.88" r="0.88"/><circle cx="116.96" cy="221.63" r="0.88"/><circle cx="118.81" cy="221.85" r="0.88"/><circle cx="120.06" cy="221.53" r="0.88"/><circle cx="122.13" cy="221.52" r="0.88"/><circle cx="123.93" cy="221.34" r="0.88"/><circle cx="125.53" cy="221.67" r="0.88"/><circle cx="127.32" cy="221.49" r="0.88"/><circle cx="129.4" cy="221.28" r="0.88"/><circle cx="130.97" cy="221.5" r="0.88"/></g>
<polyline points="107.9,215.46 108.9,215.71 109.9,215.07 110.9,215.28 111.9,215.36 112.9,214.89 113.9,215.4 114.9,214.79 115.9,215.09 116.9,214.74 117.9,215.2 118.9,214.89 119.9,215 120.9,214.73 121.9,214.79 122.9,214.74 123.9,214.41 124.9,214.29 125.9,214.67 126.9,214.13 127.9,214.61 128.9,214.05 129.9,213.92 130.91,213.8 131.92,214.17 132.92,214.17 133.93,213.68 134.94,213.73 135.95,213.34 136.95,213.68 137.96,213.41 138.97,212.92 139.98,212.74 140.98,213.07 141.99,212.49 143,212.94" fill="none" stroke="#29a3df" stroke-width="1.6" stroke-linejoin="round" stroke-linecap="round" />
<g fill="#29a3df"><circle cx="107.78" cy="215.26" r="0.88"/><circle cx="109.78" cy="215.23" r="0.88"/><circle cx="111.6" cy="214.97" r="0.88"/><circle cx="113.65" cy="215.02" r="0.88"/><circle cx="115.44" cy="214.75" r="0.88"/><circle cx="117.25" cy="215.4" r="0.88"/><circle cx="118.83" cy="214.42" r="0.88"/><circle cx="120.66" cy="214.87" r="0.88"/><circle cx="122.4" cy="214.67" r="0.88"/><circle cx="124.16" cy="214.49" r="0.88"/><circle cx="126.37" cy="214.35" r="0.88"/><circle cx="128.17" cy="213.96" r="0.88"/><circle cx="130.1" cy="213.86" r="0.88"/><circle cx="132.03" cy="214.44" r="0.88"/><circle cx="133.91" cy="213.8" r="0.88"/><circle cx="135.39" cy="213.42" r="0.88"/><circle cx="137.54" cy="213.34" r="0.88"/><circle cx="139.52" cy="212.76" r="0.88"/><circle cx="141.12" cy="213.25" r="0.88"/><circle cx="143.06" cy="212.74" r="0.88"/></g>
<polyline points="107.3,215.5 107.3,220.5" fill="none" stroke="#29a3df" stroke-width="0.75" stroke-linejoin="round" stroke-linecap="round" stroke-opacity="0.85"/>
<polyline points="130.9,221.1 130.9,216.5" fill="none" stroke="#29a3df" stroke-width="0.75" stroke-linejoin="round" stroke-linecap="round" stroke-opacity="0.85"/>
<line x1="107.3" y1="207.2" x2="107.3" y2="210.7" stroke="#e3242b" stroke-width="0.9" />
<path d="M107.3 213.7L105.7 210.7L108.9 210.7Z" fill="#e3242b"/>
<line x1="130.5" y1="230.4" x2="130.5" y2="227.3" stroke="#1f9e7e" stroke-width="0.9" />
<path d="M130.5 224.3L132.1 227.3L128.9 227.3Z" fill="#1f9e7e"/>
<polyline points="40.3,277 45.4,276.1 49.9,270.8 55.5,270 66.7,268.9 70.1,267.4 73.4,265.7 78.5,265.2" fill="none" stroke="#c0c0c0" stroke-width="0.65" stroke-linejoin="round" stroke-linecap="round" />
<g fill="#c0c0c0"><circle cx="40.3" cy="277.05" r="0.8"/><circle cx="42" cy="276.68" r="0.8"/><circle cx="43.7" cy="276.17" r="0.8"/><circle cx="45.4" cy="276.11" r="0.8"/><circle cx="46.9" cy="274.13" r="0.8"/><circle cx="48.4" cy="272.64" r="0.8"/><circle cx="49.9" cy="270.62" r="0.8"/><circle cx="51.3" cy="270.64" r="0.8"/><circle cx="52.7" cy="270.33" r="0.8"/><circle cx="54.1" cy="270.14" r="0.8"/><circle cx="55.5" cy="270.08" r="0.8"/><circle cx="56.9" cy="269.69" r="0.8"/><circle cx="58.3" cy="269.56" r="0.8"/><circle cx="59.7" cy="269.81" r="0.8"/><circle cx="61.1" cy="269.37" r="0.8"/><circle cx="62.5" cy="269.48" r="0.8"/><circle cx="63.9" cy="269.36" r="0.8"/><circle cx="65.3" cy="269.03" r="0.8"/><circle cx="66.7" cy="268.72" r="0.8"/><circle cx="68.4" cy="267.95" r="0.8"/><circle cx="70.1" cy="267.59" r="0.8"/><circle cx="71.75" cy="266.36" r="0.8"/><circle cx="73.4" cy="265.7" r="0.8"/><circle cx="75.1" cy="265.55" r="0.8"/><circle cx="76.8" cy="265.18" r="0.8"/><circle cx="78.5" cy="265.18" r="0.8"/></g>
<polyline points="70.1,267.6 78,268 99.3,267.4 99.6,267 100,255.7 110.3,254.9 125.7,254.6 136.4,253.4 148.7,253.1 164,252.2 168.6,250.3 171.7,249.6 187,247.3 189.5,244.5 191.6,241.9 196.2,240.4" fill="none" stroke="#c0c0c0" stroke-width="0.65" stroke-linejoin="round" stroke-linecap="round" />
<g fill="#c0c0c0"><circle cx="70.1" cy="267.83" r="0.8"/><circle cx="71.42" cy="267.68" r="0.8"/><circle cx="72.73" cy="267.96" r="0.8"/><circle cx="74.05" cy="267.61" r="0.8"/><circle cx="75.37" cy="268.1" r="0.8"/><circle cx="76.68" cy="268.08" r="0.8"/><circle cx="78" cy="267.88" r="0.8"/><circle cx="79.33" cy="268.13" r="0.8"/><circle cx="80.66" cy="267.79" r="0.8"/><circle cx="81.99" cy="267.74" r="0.8"/><circle cx="83.33" cy="267.83" r="0.8"/><circle cx="84.66" cy="267.68" r="0.8"/><circle cx="85.99" cy="267.77" r="0.8"/><circle cx="87.32" cy="267.94" r="0.8"/><circle cx="88.65" cy="267.79" r="0.8"/><circle cx="89.98" cy="267.77" r="0.8"/><circle cx="91.31" cy="267.57" r="0.8"/><circle cx="92.64" cy="267.73" r="0.8"/><circle cx="93.97" cy="267.7" r="0.8"/><circle cx="95.31" cy="267.6" r="0.8"/><circle cx="96.64" cy="267.7" r="0.8"/><circle cx="97.97" cy="267.6" r="0.8"/><circle cx="99.3" cy="267.35" r="0.8"/><circle cx="99.6" cy="266.79" r="0.8"/><circle cx="100" cy="255.78" r="0.8"/><circle cx="101.47" cy="255.75" r="0.8"/><circle cx="102.94" cy="255.39" r="0.8"/><circle cx="104.41" cy="255.4" r="0.8"/><circle cx="105.89" cy="255.41" r="0.8"/><circle cx="107.36" cy="255.28" r="0.8"/><circle cx="108.83" cy="254.77" r="0.8"/><circle cx="110.3" cy="254.89" r="0.8"/><circle cx="111.7" cy="254.63" r="0.8"/><circle cx="113.1" cy="254.65" r="0.8"/><circle cx="114.5" cy="254.97" r="0.8"/><circle cx="115.9" cy="254.75" r="0.8"/><circle cx="117.3" cy="254.82" r="0.8"/><circle cx="118.7" cy="254.72" r="0.8"/><circle cx="120.1" cy="254.63" r="0.8"/><circle cx="121.5" cy="254.54" r="0.8"/><circle cx="122.9" cy="254.58" r="0.8"/><circle cx="124.3" cy="254.8" r="0.8"/><circle cx="125.7" cy="254.66" r="0.8"/><circle cx="127.04" cy="254.35" r="0.8"/><circle cx="128.38" cy="254.09" r="0.8"/><circle cx="129.71" cy="254.04" r="0.8"/><circle cx="131.05" cy="254.1" r="0.8"/><circle cx="132.39" cy="253.82" r="0.8"/><circle cx="133.72" cy="253.78" r="0.8"/><circle cx="135.06" cy="253.7" r="0.8"/><circle cx="136.4" cy="253.21" r="0.8"/><circle cx="137.77" cy="253.46" r="0.8"/><circle cx="139.13" cy="253.1" r="0.8"/><circle cx="140.5" cy="253.46" r="0.8"/><circle cx="141.87" cy="253.11" r="0.8"/><circle cx="143.23" cy="253.12" r="0.8"/><circle cx="144.6" cy="253.43" r="0.8"/><circle cx="145.97" cy="253.1" r="0.8"/><circle cx="147.33" cy="253" r="0.8"/><circle cx="148.7" cy="253.29" r="0.8"/><circle cx="150.09" cy="253.07" r="0.8"/><circle cx="151.48" cy="253.13" r="0.8"/><circle cx="152.87" cy="252.8" r="0.8"/><circle cx="154.26" cy="252.77" r="0.8"/><circle cx="155.65" cy="252.92" r="0.8"/><circle cx="157.05" cy="252.61" r="0.8"/><circle cx="158.44" cy="252.77" r="0.8"/><circle cx="159.83" cy="252.29" r="0.8"/><circle cx="161.22" cy="252.53" r="0.8"/><circle cx="162.61" cy="252.11" r="0.8"/><circle cx="164" cy="252.21" r="0.8"/><circle cx="165.53" cy="251.32" r="0.8"/><circle cx="167.07" cy="250.77" r="0.8"/><circle cx="168.6" cy="250.52" r="0.8"/><circle cx="170.15" cy="249.93" r="0.8"/><circle cx="171.7" cy="249.75" r="0.8"/><circle cx="173.09" cy="249.27" r="0.8"/><circle cx="174.48" cy="249.11" r="0.8"/><circle cx="175.87" cy="248.77" r="0.8"/><circle cx="177.26" cy="248.79" r="0.8"/><circle cx="178.65" cy="248.74" r="0.8"/><circle cx="180.05" cy="248.35" r="0.8"/><circle cx="181.44" cy="248.07" r="0.8"/><circle cx="182.83" cy="248.14" r="0.8"/><circle cx="184.22" cy="247.92" r="0.8"/><circle cx="185.61" cy="247.59" r="0.8"/><circle cx="187" cy="247.09" r="0.8"/><circle cx="189.5" cy="244.56" r="0.8"/><circle cx="191.6" cy="241.87" r="0.8"/><circle cx="193.13" cy="241.63" r="0.8"/><circle cx="194.67" cy="240.83" r="0.8"/><circle cx="196.2" cy="240.48" r="0.8"/></g>
<polyline points="158.6,248.6 171.7,248.4 187,247" fill="none" stroke="#c0c0c0" stroke-width="0.65" stroke-linejoin="round" stroke-linecap="round" />
<g fill="#c0c0c0"><circle cx="158.6" cy="248.42" r="0.8"/><circle cx="159.91" cy="248.62" r="0.8"/><circle cx="161.22" cy="248.6" r="0.8"/><circle cx="162.53" cy="248.31" r="0.8"/><circle cx="163.84" cy="248.47" r="0.8"/><circle cx="165.15" cy="248.62" r="0.8"/><circle cx="166.46" cy="248.55" r="0.8"/><circle cx="167.77" cy="248.35" r="0.8"/><circle cx="169.08" cy="248.57" r="0.8"/><circle cx="170.39" cy="248.32" r="0.8"/><circle cx="171.7" cy="248.42" r="0.8"/><circle cx="173.09" cy="248.23" r="0.8"/><circle cx="174.48" cy="248.38" r="0.8"/><circle cx="175.87" cy="248.09" r="0.8"/><circle cx="177.26" cy="248.04" r="0.8"/><circle cx="178.65" cy="247.85" r="0.8"/><circle cx="180.05" cy="247.58" r="0.8"/><circle cx="181.44" cy="247.74" r="0.8"/><circle cx="182.83" cy="247.49" r="0.8"/><circle cx="184.22" cy="247.35" r="0.8"/><circle cx="185.61" cy="247.02" r="0.8"/><circle cx="187" cy="246.83" r="0.8"/></g>
<polyline points="78,265.05 79.02,265.14 80.05,265.02 81.07,264.62 82.1,264.39 83.12,264.56 84.14,264.72 85.17,264.13 86.19,264.44 87.21,263.96 88.24,263.96 89.26,263.69 90.29,263.77 91.31,263.74 92.33,264.06 93.36,263.97 94.38,263.33 95.4,263.33 96.43,263.68 97.45,263.07 98.48,263.07 99.5,263.06 100.53,262.78 101.55,262.84 102.58,262.89 103.6,262.84 104.62,263.2 105.65,262.67 106.67,262.58 107.7,263.03 108.72,262.66 109.75,262.89 110.78,262.7 111.8,262.76 112.83,262.39 113.85,262.23 114.88,262.6 115.9,262.36 116.92,262.38 117.95,262.41 118.97,262.42 120,262.04 121.03,262.04 122.06,262.37 123.09,262.03 124.12,261.8 125.16,261.98 126.19,261.66 127.22,261.95 128.25,261.38 129.28,261.87 130.31,261.62 131.34,261.41 132.38,261.76 133.41,261.22 134.44,261.15 135.47,260.96 136.5,261.23" fill="none" stroke="#29a3df" stroke-width="1.6" stroke-linejoin="round" stroke-linecap="round" />
<g fill="#29a3df"><circle cx="78.15" cy="265.16" r="0.88"/><circle cx="79.74" cy="265.12" r="0.88"/><circle cx="81.35" cy="264.51" r="0.88"/><circle cx="83.46" cy="264.95" r="0.88"/><circle cx="85.25" cy="264.54" r="0.88"/><circle cx="87.12" cy="264.11" r="0.88"/><circle cx="89.01" cy="264.27" r="0.88"/><circle cx="90.45" cy="263.79" r="0.88"/><circle cx="92.52" cy="263.6" r="0.88"/><circle cx="93.94" cy="263.91" r="0.88"/><circle cx="95.94" cy="263.44" r="0.88"/><circle cx="97.81" cy="263.62" r="0.88"/><circle cx="99.28" cy="262.95" r="0.88"/><circle cx="100.95" cy="262.95" r="0.88"/><circle cx="102.92" cy="263.27" r="0.88"/><circle cx="104.73" cy="262.95" r="0.88"/><circle cx="106.28" cy="262.87" r="0.88"/><circle cx="107.91" cy="263.04" r="0.88"/><circle cx="109.92" cy="262.96" r="0.88"/><circle cx="111.25" cy="262.73" r="0.88"/><circle cx="113.32" cy="262.5" r="0.88"/><circle cx="115.11" cy="262.79" r="0.88"/><circle cx="116.73" cy="262.64" r="0.88"/><circle cx="118.38" cy="262.62" r="0.88"/><circle cx="119.78" cy="262.39" r="0.88"/><circle cx="121.96" cy="262.19" r="0.88"/><circle cx="123.53" cy="261.58" r="0.88"/><circle cx="125.56" cy="262.16" r="0.88"/><circle cx="127.2" cy="261.49" r="0.88"/><circle cx="129" cy="261.27" r="0.88"/><circle cx="131.11" cy="261.97" r="0.88"/><circle cx="133.01" cy="261.29" r="0.88"/><circle cx="134.79" cy="260.92" r="0.88"/><circle cx="136.7" cy="261.04" r="0.88"/></g>
<polyline points="137.4,249.15 138.43,249.54 139.45,249.15 140.47,249.19 141.5,248.99 142.53,249.21 143.55,249.24 144.58,249.37 145.6,248.78 146.62,249.28 147.65,248.73 148.68,248.76 149.7,248.99 150.72,248.74 151.75,248.68 152.78,248.8 153.8,248.5 154.83,248.86 155.85,248.4 156.88,248.79 157.9,248.72" fill="none" stroke="#29a3df" stroke-width="1.6" stroke-linejoin="round" stroke-linecap="round" />
<g fill="#29a3df"><circle cx="137.42" cy="249.07" r="0.88"/><circle cx="139.28" cy="248.99" r="0.88"/><circle cx="140.82" cy="249.26" r="0.88"/><circle cx="142.26" cy="249.37" r="0.88"/><circle cx="144.37" cy="249.24" r="0.88"/><circle cx="145.88" cy="249.09" r="0.88"/><circle cx="147.7" cy="248.75" r="0.88"/><circle cx="149.58" cy="249.37" r="0.88"/><circle cx="151.25" cy="249.25" r="0.88"/><circle cx="152.67" cy="249.19" r="0.88"/><circle cx="154.23" cy="248.65" r="0.88"/><circle cx="155.97" cy="248.54" r="0.88"/><circle cx="158.01" cy="248.69" r="0.88"/></g>
<polyline points="137,249.5 137,261.5" fill="none" stroke="#29a3df" stroke-width="0.75" stroke-linejoin="round" stroke-linecap="round" stroke-opacity="0.85"/>
<polyline points="138,249.5 138,261.5" fill="none" stroke="#29a3df" stroke-width="0.75" stroke-linejoin="round" stroke-linecap="round" stroke-opacity="0.85"/>
<line x1="136.5" y1="239.8" x2="136.5" y2="243.3" stroke="#e3242b" stroke-width="0.9" />
<path d="M136.5 246.3L134.9 243.3L138.1 243.3Z" fill="#e3242b"/>
<line x1="138" y1="268.7" x2="138" y2="266.5" stroke="#1f9e7e" stroke-width="0.9" />
<path d="M138 263.5L139.6 266.5L136.4 266.5Z" fill="#1f9e7e"/>
<polyline points="40.2,322 50.4,320.9 54.5,318.4 58.6,316.9 61.7,315.8 62.7,313.3 64.7,312.3 70.9,311.7 90,311.2 105,310.6 107,309.4 107.3,297.4 110.7,296.7 120,296.7 133.7,296.1 152.3,295.2 171,293.3 173.8,290.5 175.6,286.8 179.4,284 184,282.1 189.6,280.3 196.2,281.2" fill="none" stroke="#c0c0c0" stroke-width="0.65" stroke-linejoin="round" stroke-linecap="round" />
<g fill="#c0c0c0"><circle cx="40.2" cy="321.86" r="0.8"/><circle cx="41.66" cy="321.79" r="0.8"/><circle cx="43.11" cy="321.83" r="0.8"/><circle cx="44.57" cy="321.69" r="0.8"/><circle cx="46.03" cy="321.44" r="0.8"/><circle cx="47.49" cy="321.34" r="0.8"/><circle cx="48.94" cy="320.83" r="0.8"/><circle cx="50.4" cy="320.7" r="0.8"/><circle cx="51.77" cy="320.3" r="0.8"/><circle cx="53.13" cy="319.38" r="0.8"/><circle cx="54.5" cy="318.17" r="0.8"/><circle cx="55.87" cy="317.67" r="0.8"/><circle cx="57.23" cy="317.27" r="0.8"/><circle cx="58.6" cy="317.12" r="0.8"/><circle cx="60.15" cy="316.21" r="0.8"/><circle cx="61.7" cy="315.89" r="0.8"/><circle cx="62.7" cy="313.52" r="0.8"/><circle cx="64.7" cy="312.37" r="0.8"/><circle cx="66.25" cy="312.36" r="0.8"/><circle cx="67.8" cy="311.88" r="0.8"/><circle cx="69.35" cy="311.68" r="0.8"/><circle cx="70.9" cy="311.46" r="0.8"/><circle cx="72.26" cy="311.79" r="0.8"/><circle cx="73.63" cy="311.43" r="0.8"/><circle cx="74.99" cy="311.83" r="0.8"/><circle cx="76.36" cy="311.66" r="0.8"/><circle cx="77.72" cy="311.36" r="0.8"/><circle cx="79.09" cy="311.64" r="0.8"/><circle cx="80.45" cy="311.28" r="0.8"/><circle cx="81.81" cy="311.42" r="0.8"/><circle cx="83.18" cy="311.18" r="0.8"/><circle cx="84.54" cy="311.49" r="0.8"/><circle cx="85.91" cy="311.5" r="0.8"/><circle cx="87.27" cy="311.48" r="0.8"/><circle cx="88.64" cy="310.99" r="0.8"/><circle cx="90" cy="311.38" r="0.8"/><circle cx="91.36" cy="311.17" r="0.8"/><circle cx="92.73" cy="311.25" r="0.8"/><circle cx="94.09" cy="311.04" r="0.8"/><circle cx="95.45" cy="311.04" r="0.8"/><circle cx="96.82" cy="310.97" r="0.8"/><circle cx="98.18" cy="311.02" r="0.8"/><circle cx="99.55" cy="310.61" r="0.8"/><circle cx="100.91" cy="310.54" r="0.8"/><circle cx="102.27" cy="310.73" r="0.8"/><circle cx="103.64" cy="310.55" r="0.8"/><circle cx="105" cy="310.55" r="0.8"/><circle cx="107" cy="309.15" r="0.8"/><circle cx="107.3" cy="297.52" r="0.8"/><circle cx="109" cy="296.81" r="0.8"/><circle cx="110.7" cy="296.86" r="0.8"/><circle cx="112.03" cy="296.86" r="0.8"/><circle cx="113.36" cy="296.68" r="0.8"/><circle cx="114.69" cy="296.51" r="0.8"/><circle cx="116.01" cy="296.78" r="0.8"/><circle cx="117.34" cy="296.55" r="0.8"/><circle cx="118.67" cy="296.66" r="0.8"/><circle cx="120" cy="296.51" r="0.8"/><circle cx="121.37" cy="296.88" r="0.8"/><circle cx="122.74" cy="296.6" r="0.8"/><circle cx="124.11" cy="296.45" r="0.8"/><circle cx="125.48" cy="296.26" r="0.8"/><circle cx="126.85" cy="296.52" r="0.8"/><circle cx="128.22" cy="296.51" r="0.8"/><circle cx="129.59" cy="296.45" r="0.8"/><circle cx="130.96" cy="296.02" r="0.8"/><circle cx="132.33" cy="296.09" r="0.8"/><circle cx="133.7" cy="296" r="0.8"/><circle cx="135.03" cy="296.17" r="0.8"/><circle cx="136.36" cy="295.8" r="0.8"/><circle cx="137.69" cy="295.96" r="0.8"/><circle cx="139.01" cy="296.08" r="0.8"/><circle cx="140.34" cy="295.91" r="0.8"/><circle cx="141.67" cy="295.47" r="0.8"/><circle cx="143" cy="295.44" r="0.8"/><circle cx="144.33" cy="295.39" r="0.8"/><circle cx="145.66" cy="295.62" r="0.8"/><circle cx="146.99" cy="295.51" r="0.8"/><circle cx="148.31" cy="295.4" r="0.8"/><circle cx="149.64" cy="295.31" r="0.8"/><circle cx="150.97" cy="295.22" r="0.8"/><circle cx="152.3" cy="295.26" r="0.8"/><circle cx="153.64" cy="295.14" r="0.8"/><circle cx="154.97" cy="295.14" r="0.8"/><circle cx="156.31" cy="294.91" r="0.8"/><circle cx="157.64" cy="294.81" r="0.8"/><circle cx="158.98" cy="294.73" r="0.8"/><circle cx="160.31" cy="294.55" r="0.8"/><circle cx="161.65" cy="294.36" r="0.8"/><circle cx="162.99" cy="293.88" r="0.8"/><circle cx="164.32" cy="294.07" r="0.8"/><circle cx="165.66" cy="294.02" r="0.8"/><circle cx="166.99" cy="293.67" r="0.8"/><circle cx="168.33" cy="293.76" r="0.8"/><circle cx="169.66" cy="293.28" r="0.8"/><circle cx="171" cy="293.52" r="0.8"/><circle cx="172.4" cy="291.87" r="0.8"/><circle cx="173.8" cy="290.6" r="0.8"/><circle cx="175.6" cy="286.68" r="0.8"/><circle cx="177.5" cy="285.3" r="0.8"/><circle cx="179.4" cy="283.92" r="0.8"/><circle cx="180.93" cy="283.28" r="0.8"/><circle cx="182.47" cy="282.53" r="0.8"/><circle cx="184" cy="282.07" r="0.8"/><circle cx="185.4" cy="281.89" r="0.8"/><circle cx="186.8" cy="281.28" r="0.8"/><circle cx="188.2" cy="280.97" r="0.8"/><circle cx="189.6" cy="280.43" r="0.8"/><circle cx="190.92" cy="280.65" r="0.8"/><circle cx="192.24" cy="280.91" r="0.8"/><circle cx="193.56" cy="280.97" r="0.8"/><circle cx="194.88" cy="280.91" r="0.8"/><circle cx="196.2" cy="281.07" r="0.8"/></g>
<polyline points="56,315.3 57.6,312.8 62,312.1 64.2,309.2 65.8,308.7 79,307.3" fill="none" stroke="#c0c0c0" stroke-width="0.65" stroke-linejoin="round" stroke-linecap="round" />
<g fill="#c0c0c0"><circle cx="56" cy="315.53" r="0.8"/><circle cx="57.6" cy="312.63" r="0.8"/><circle cx="59.07" cy="312.58" r="0.8"/><circle cx="60.53" cy="312.41" r="0.8"/><circle cx="62" cy="312.12" r="0.8"/><circle cx="64.2" cy="309.42" r="0.8"/><circle cx="65.8" cy="308.65" r="0.8"/><circle cx="67.12" cy="308.77" r="0.8"/><circle cx="68.44" cy="308.51" r="0.8"/><circle cx="69.76" cy="308.51" r="0.8"/><circle cx="71.08" cy="307.93" r="0.8"/><circle cx="72.4" cy="307.86" r="0.8"/><circle cx="73.72" cy="307.75" r="0.8"/><circle cx="75.04" cy="307.92" r="0.8"/><circle cx="76.36" cy="307.34" r="0.8"/><circle cx="77.68" cy="307.32" r="0.8"/><circle cx="79" cy="307.41" r="0.8"/></g>
<polyline points="158.8,288.7 171,287.7 178.4,286.4 181.2,284 184,281.6 189.6,280.3" fill="none" stroke="#c0c0c0" stroke-width="0.65" stroke-linejoin="round" stroke-linecap="round" />
<g fill="#c0c0c0"><circle cx="158.8" cy="288.63" r="0.8"/><circle cx="160.16" cy="288.41" r="0.8"/><circle cx="161.51" cy="288.28" r="0.8"/><circle cx="162.87" cy="288.36" r="0.8"/><circle cx="164.22" cy="288.49" r="0.8"/><circle cx="165.58" cy="288.24" r="0.8"/><circle cx="166.93" cy="287.92" r="0.8"/><circle cx="168.29" cy="288.06" r="0.8"/><circle cx="169.64" cy="287.65" r="0.8"/><circle cx="171" cy="287.5" r="0.8"/><circle cx="172.48" cy="287.34" r="0.8"/><circle cx="173.96" cy="287.13" r="0.8"/><circle cx="175.44" cy="287.01" r="0.8"/><circle cx="176.92" cy="286.63" r="0.8"/><circle cx="178.4" cy="286.51" r="0.8"/><circle cx="179.8" cy="285" r="0.8"/><circle cx="181.2" cy="284.22" r="0.8"/><circle cx="182.6" cy="282.72" r="0.8"/><circle cx="184" cy="281.77" r="0.8"/><circle cx="185.4" cy="281.04" r="0.8"/><circle cx="186.8" cy="281.11" r="0.8"/><circle cx="188.2" cy="280.49" r="0.8"/><circle cx="189.6" cy="280.48" r="0.8"/></g>
<polyline points="79,307.51 80,307.37 81,307.05 82,306.82 83,306.9 84,307.35 85,306.78 86,307.09 87,306.99 88,306.99 89,306.61 90,306.54 91,306.46 92,307.03 93,306.57 94,306.71 95,306.61 96,306.32 97,306.16 98,306.08 99,306.62 100,306.07 101,306.6 102,306.14 103,306.34 104,305.89 105,306.29 106,305.87 107,305.91 108,305.97 109,305.64 110,305.69 111,306.02 112,305.62 113,305.64 114,305.86 115,305.44 116,305.37 117,305.34 118,305.41 119,305.35 120,305.5 121.02,305.31 122.03,305.52 123.05,304.88 124.06,305.24 125.08,305.29 126.09,304.8 127.11,304.59 128.13,304.81 129.14,304.52 130.16,304.69 131.17,304.8 132.19,304.29 133.21,304.24 134.22,304.43 135.24,304.15 136.25,304.12 137.27,304.2 138.28,303.9 139.3,303.8" fill="none" stroke="#29a3df" stroke-width="1.6" stroke-linejoin="round" stroke-linecap="round" />
<g fill="#29a3df"><circle cx="78.92" cy="307.27" r="0.88"/><circle cx="81.01" cy="307.27" r="0.88"/><circle cx="82.24" cy="306.88" r="0.88"/><circle cx="84.4" cy="307.11" r="0.88"/><circle cx="86.22" cy="307.4" r="0.88"/><circle cx="87.96" cy="306.54" r="0.88"/><circle cx="89.77" cy="306.84" r="0.88"/><circle cx="91.09" cy="306.43" r="0.88"/><circle cx="93.22" cy="306.39" r="0.88"/><circle cx="94.5" cy="306.36" r="0.88"/><circle cx="96.75" cy="306.45" r="0.88"/><circle cx="98.39" cy="306.02" r="0.88"/><circle cx="99.97" cy="306.16" r="0.88"/><circle cx="101.57" cy="306.39" r="0.88"/><circle cx="103.42" cy="305.82" r="0.88"/><circle cx="105.54" cy="306.06" r="0.88"/><circle cx="106.81" cy="305.55" r="0.88"/><circle cx="108.95" cy="305.93" r="0.88"/><circle cx="110.43" cy="305.8" r="0.88"/><circle cx="112.72" cy="305.78" r="0.88"/><circle cx="114.27" cy="305.66" r="0.88"/><circle cx="116.35" cy="305.71" r="0.88"/><circle cx="117.93" cy="305.76" r="0.88"/><circle cx="120.27" cy="305.62" r="0.88"/><circle cx="121.97" cy="305.16" r="0.88"/><circle cx="123.75" cy="304.87" r="0.88"/><circle cx="125.1" cy="305.13" r="0.88"/><circle cx="127.26" cy="304.55" r="0.88"/><circle cx="128.6" cy="304.39" r="0.88"/><circle cx="130.49" cy="304.36" r="0.88"/><circle cx="132.1" cy="304.8" r="0.88"/><circle cx="134.09" cy="304.85" r="0.88"/><circle cx="135.73" cy="304.5" r="0.88"/><circle cx="137.25" cy="304.63" r="0.88"/><circle cx="139.14" cy="304.08" r="0.88"/></g>
<polyline points="129.9,289.61 130.93,289.88 131.96,289.53 133,289.85 134.03,289.56 135.06,289.24 136.09,289.64 137.12,289.17 138.16,289.69 139.19,289.28 140.22,289.09 141.25,289.57 142.29,289.09 143.32,289.12 144.35,289.04 145.38,289.24 146.41,288.75 147.45,288.97 148.48,288.78 149.51,289.22 150.54,288.61 151.58,289 152.61,288.72 153.64,288.83 154.67,288.87 155.7,288.94 156.74,288.51 157.77,288.55 158.8,288.43" fill="none" stroke="#29a3df" stroke-width="1.6" stroke-linejoin="round" stroke-linecap="round" />
<g fill="#29a3df"><circle cx="130.18" cy="289.28" r="0.88"/><circle cx="131.38" cy="289.57" r="0.88"/><circle cx="133.35" cy="289.85" r="0.88"/><circle cx="134.73" cy="289.2" r="0.88"/><circle cx="136.5" cy="289.47" r="0.88"/><circle cx="138.37" cy="289.25" r="0.88"/><circle cx="140.33" cy="289.43" r="0.88"/><circle cx="142.02" cy="289.65" r="0.88"/><circle cx="143.36" cy="289.58" r="0.88"/><circle cx="145.14" cy="288.72" r="0.88"/><circle cx="147.15" cy="288.71" r="0.88"/><circle cx="148.31" cy="288.83" r="0.88"/><circle cx="150.17" cy="289.39" r="0.88"/><circle cx="152.22" cy="288.84" r="0.88"/><circle cx="153.72" cy="289.18" r="0.88"/><circle cx="155.58" cy="288.95" r="0.88"/><circle cx="157.11" cy="288.4" r="0.88"/><circle cx="158.65" cy="288.84" r="0.88"/></g>
<polyline points="129.6,289.6 129.6,304.5" fill="none" stroke="#29a3df" stroke-width="0.75" stroke-linejoin="round" stroke-linecap="round" stroke-opacity="0.85"/>
<polyline points="139.6,304 139.6,290.1" fill="none" stroke="#29a3df" stroke-width="0.75" stroke-linejoin="round" stroke-linecap="round" stroke-opacity="0.85"/>
<line x1="134.2" y1="281.2" x2="134.2" y2="312.9" stroke="#29a3df" stroke-width="0.8" stroke-dasharray="1 1.4"/>
<line x1="129.4" y1="281.6" x2="129.4" y2="285.1" stroke="#e3242b" stroke-width="0.9" />
<path d="M129.4 288.1L127.8 285.1L131 285.1Z" fill="#e3242b"/>
<line x1="138.7" y1="312.9" x2="138.7" y2="310.7" stroke="#1f9e7e" stroke-width="0.9" />
<path d="M138.7 307.7L140.3 310.7L137.1 310.7Z" fill="#1f9e7e"/>
<polyline points="40.4,367.4 51.3,366 54.1,364.2 57.9,362.6 60.7,361.7 61.7,357.9 63.6,354.2 68.3,352.8 79.6,352.3" fill="none" stroke="#c0c0c0" stroke-width="0.65" stroke-linejoin="round" stroke-linecap="round" />
<g fill="#c0c0c0"><circle cx="40.4" cy="367.54" r="0.8"/><circle cx="41.76" cy="367.09" r="0.8"/><circle cx="43.12" cy="367.02" r="0.8"/><circle cx="44.49" cy="367.1" r="0.8"/><circle cx="45.85" cy="366.55" r="0.8"/><circle cx="47.21" cy="366.48" r="0.8"/><circle cx="48.57" cy="366.58" r="0.8"/><circle cx="49.94" cy="366.38" r="0.8"/><circle cx="51.3" cy="365.87" r="0.8"/><circle cx="52.7" cy="365.22" r="0.8"/><circle cx="54.1" cy="364.13" r="0.8"/><circle cx="56" cy="363.48" r="0.8"/><circle cx="57.9" cy="362.73" r="0.8"/><circle cx="59.3" cy="361.96" r="0.8"/><circle cx="60.7" cy="361.56" r="0.8"/><circle cx="61.7" cy="357.76" r="0.8"/><circle cx="63.6" cy="354.08" r="0.8"/><circle cx="65.17" cy="353.5" r="0.8"/><circle cx="66.73" cy="353.08" r="0.8"/><circle cx="68.3" cy="352.75" r="0.8"/><circle cx="69.71" cy="352.7" r="0.8"/><circle cx="71.12" cy="352.46" r="0.8"/><circle cx="72.54" cy="352.65" r="0.8"/><circle cx="73.95" cy="352.77" r="0.8"/><circle cx="75.36" cy="352.53" r="0.8"/><circle cx="76.77" cy="352.35" r="0.8"/><circle cx="78.19" cy="352.46" r="0.8"/><circle cx="79.6" cy="352.27" r="0.8"/></g>
<polyline points="51.3,366.4 70.2,365.1 73,363.6 75.8,359.8 79.6,358.5 98.5,357.5 117.3,356.6 119.7,356 119.7,340.9 133.7,340 152.3,338.1 171,336.2 174.7,333.4 176.6,328.8 182.2,326 186.8,324.1 197.1,324.1" fill="none" stroke="#c0c0c0" stroke-width="0.65" stroke-linejoin="round" stroke-linecap="round" />
<g fill="#c0c0c0"><circle cx="51.3" cy="366.63" r="0.8"/><circle cx="52.65" cy="366.45" r="0.8"/><circle cx="54" cy="366.12" r="0.8"/><circle cx="55.35" cy="366.03" r="0.8"/><circle cx="56.7" cy="366.14" r="0.8"/><circle cx="58.05" cy="365.71" r="0.8"/><circle cx="59.4" cy="365.9" r="0.8"/><circle cx="60.75" cy="365.54" r="0.8"/><circle cx="62.1" cy="365.43" r="0.8"/><circle cx="63.45" cy="365.57" r="0.8"/><circle cx="64.8" cy="365.3" r="0.8"/><circle cx="66.15" cy="365.59" r="0.8"/><circle cx="67.5" cy="365.47" r="0.8"/><circle cx="68.85" cy="365.17" r="0.8"/><circle cx="70.2" cy="364.95" r="0.8"/><circle cx="71.6" cy="364.16" r="0.8"/><circle cx="73" cy="363.6" r="0.8"/><circle cx="74.4" cy="361.71" r="0.8"/><circle cx="75.8" cy="359.73" r="0.8"/><circle cx="77.7" cy="359.26" r="0.8"/><circle cx="79.6" cy="358.51" r="0.8"/><circle cx="80.95" cy="358.57" r="0.8"/><circle cx="82.3" cy="358.16" r="0.8"/><circle cx="83.65" cy="358.07" r="0.8"/><circle cx="85" cy="358.16" r="0.8"/><circle cx="86.35" cy="358.13" r="0.8"/><circle cx="87.7" cy="357.95" r="0.8"/><circle cx="89.05" cy="358.08" r="0.8"/><circle cx="90.4" cy="357.79" r="0.8"/><circle cx="91.75" cy="357.77" r="0.8"/><circle cx="93.1" cy="357.77" r="0.8"/><circle cx="94.45" cy="357.82" r="0.8"/><circle cx="95.8" cy="357.78" r="0.8"/><circle cx="97.15" cy="357.51" r="0.8"/><circle cx="98.5" cy="357.47" r="0.8"/><circle cx="99.84" cy="357.65" r="0.8"/><circle cx="101.19" cy="357.59" r="0.8"/><circle cx="102.53" cy="357.37" r="0.8"/><circle cx="103.87" cy="357.05" r="0.8"/><circle cx="105.21" cy="357.16" r="0.8"/><circle cx="106.56" cy="357.18" r="0.8"/><circle cx="107.9" cy="356.94" r="0.8"/><circle cx="109.24" cy="356.75" r="0.8"/><circle cx="110.59" cy="357.16" r="0.8"/><circle cx="111.93" cy="357.06" r="0.8"/><circle cx="113.27" cy="356.61" r="0.8"/><circle cx="114.61" cy="356.71" r="0.8"/><circle cx="115.96" cy="356.72" r="0.8"/><circle cx="117.3" cy="356.5" r="0.8"/><circle cx="119.7" cy="355.78" r="0.8"/><circle cx="119.7" cy="341.03" r="0.8"/><circle cx="121.1" cy="340.95" r="0.8"/><circle cx="122.5" cy="340.69" r="0.8"/><circle cx="123.9" cy="340.42" r="0.8"/><circle cx="125.3" cy="340.49" r="0.8"/><circle cx="126.7" cy="340.25" r="0.8"/><circle cx="128.1" cy="340.59" r="0.8"/><circle cx="129.5" cy="340.05" r="0.8"/><circle cx="130.9" cy="340.07" r="0.8"/><circle cx="132.3" cy="340.22" r="0.8"/><circle cx="133.7" cy="339.82" r="0.8"/><circle cx="135.03" cy="339.67" r="0.8"/><circle cx="136.36" cy="339.51" r="0.8"/><circle cx="137.69" cy="339.42" r="0.8"/><circle cx="139.01" cy="339.47" r="0.8"/><circle cx="140.34" cy="339.49" r="0.8"/><circle cx="141.67" cy="339.02" r="0.8"/><circle cx="143" cy="338.89" r="0.8"/><circle cx="144.33" cy="339.05" r="0.8"/><circle cx="145.66" cy="338.74" r="0.8"/><circle cx="146.99" cy="338.56" r="0.8"/><circle cx="148.31" cy="338.32" r="0.8"/><circle cx="149.64" cy="338.24" r="0.8"/><circle cx="150.97" cy="338.47" r="0.8"/><circle cx="152.3" cy="337.91" r="0.8"/><circle cx="153.64" cy="337.84" r="0.8"/><circle cx="154.97" cy="337.95" r="0.8"/><circle cx="156.31" cy="337.89" r="0.8"/><circle cx="157.64" cy="337.76" r="0.8"/><circle cx="158.98" cy="337.41" r="0.8"/><circle cx="160.31" cy="337.51" r="0.8"/><circle cx="161.65" cy="337.2" r="0.8"/><circle cx="162.99" cy="336.91" r="0.8"/><circle cx="164.32" cy="336.86" r="0.8"/><circle cx="165.66" cy="336.85" r="0.8"/><circle cx="166.99" cy="336.72" r="0.8"/><circle cx="168.33" cy="336.29" r="0.8"/><circle cx="169.66" cy="336.18" r="0.8"/><circle cx="171" cy="336.43" r="0.8"/><circle cx="172.85" cy="334.6" r="0.8"/><circle cx="174.7" cy="333.56" r="0.8"/><circle cx="176.6" cy="328.72" r="0.8"/><circle cx="178" cy="327.97" r="0.8"/><circle cx="179.4" cy="327.28" r="0.8"/><circle cx="180.8" cy="326.68" r="0.8"/><circle cx="182.2" cy="326.25" r="0.8"/><circle cx="183.73" cy="325.19" r="0.8"/><circle cx="185.27" cy="324.91" r="0.8"/><circle cx="186.8" cy="324.01" r="0.8"/><circle cx="188.27" cy="323.94" r="0.8"/><circle cx="189.74" cy="324.22" r="0.8"/><circle cx="191.21" cy="324.02" r="0.8"/><circle cx="192.69" cy="323.94" r="0.8"/><circle cx="194.16" cy="324.06" r="0.8"/><circle cx="195.63" cy="324.26" r="0.8"/><circle cx="197.1" cy="324.28" r="0.8"/></g>
<polyline points="158.8,332.5 161.6,329.7 163.5,325 169.1,324.1 180.3,323.2 197.1,324.1" fill="none" stroke="#c0c0c0" stroke-width="0.65" stroke-linejoin="round" stroke-linecap="round" />
<g fill="#c0c0c0"><circle cx="158.8" cy="332.38" r="0.8"/><circle cx="160.2" cy="331.18" r="0.8"/><circle cx="161.6" cy="329.64" r="0.8"/><circle cx="163.5" cy="325.17" r="0.8"/><circle cx="164.9" cy="324.59" r="0.8"/><circle cx="166.3" cy="324.57" r="0.8"/><circle cx="167.7" cy="324.24" r="0.8"/><circle cx="169.1" cy="324.26" r="0.8"/><circle cx="170.5" cy="323.91" r="0.8"/><circle cx="171.9" cy="324.05" r="0.8"/><circle cx="173.3" cy="323.94" r="0.8"/><circle cx="174.7" cy="323.84" r="0.8"/><circle cx="176.1" cy="323.36" r="0.8"/><circle cx="177.5" cy="323.64" r="0.8"/><circle cx="178.9" cy="323.43" r="0.8"/><circle cx="180.3" cy="323.29" r="0.8"/><circle cx="181.7" cy="323.35" r="0.8"/><circle cx="183.1" cy="323.12" r="0.8"/><circle cx="184.5" cy="323.61" r="0.8"/><circle cx="185.9" cy="323.52" r="0.8"/><circle cx="187.3" cy="323.55" r="0.8"/><circle cx="188.7" cy="323.57" r="0.8"/><circle cx="190.1" cy="323.87" r="0.8"/><circle cx="191.5" cy="323.94" r="0.8"/><circle cx="192.9" cy="324.06" r="0.8"/><circle cx="194.3" cy="323.81" r="0.8"/><circle cx="195.7" cy="323.95" r="0.8"/><circle cx="197.1" cy="323.97" r="0.8"/></g>
<polyline points="79.6,352.02 80.62,352.11 81.64,351.83 82.66,352.3 83.68,351.84 84.69,351.66 85.71,351.59 86.73,352 87.75,351.55 88.77,351.67 89.79,351.56 90.81,351.77 91.83,351.81 92.85,351.29 93.86,351.45 94.88,351.56 95.9,351.2 96.92,351.43 97.94,351.25 98.96,350.88 99.98,351.21 101,350.93 102.02,350.54 103.04,350.81 104.05,350.91 105.07,350.62 106.09,350.53 107.11,350.42 108.13,350.67 109.15,350.46 110.17,350.07 111.19,350.11 112.21,350.04 113.22,350.39 114.24,350.14 115.26,349.67 116.28,350.16 117.3,349.47 118.33,349.87 119.37,349.76 120.4,349.97 121.44,349.77 122.47,349.54 123.51,349.84 124.54,350.05 125.58,350.04 126.61,349.74 127.65,349.65 128.68,350.02 129.72,350.06 130.75,349.66 131.79,350.13 132.82,350.21 133.86,349.82 134.89,349.79 135.93,350.03 136.96,350.18 138,349.68 139.03,349.75 140.07,349.78 141.1,350.06" fill="none" stroke="#29a3df" stroke-width="1.6" stroke-linejoin="round" stroke-linecap="round" />
<g fill="#29a3df"><circle cx="79.41" cy="352.34" r="0.88"/><circle cx="81.31" cy="352.34" r="0.88"/><circle cx="82.81" cy="352.49" r="0.88"/><circle cx="85.04" cy="352.01" r="0.88"/><circle cx="86.63" cy="351.56" r="0.88"/><circle cx="88.41" cy="351.78" r="0.88"/><circle cx="90.04" cy="351.95" r="0.88"/><circle cx="91.51" cy="351.89" r="0.88"/><circle cx="93.13" cy="350.96" r="0.88"/><circle cx="95.02" cy="351.64" r="0.88"/><circle cx="96.98" cy="351.58" r="0.88"/><circle cx="98.46" cy="351.44" r="0.88"/><circle cx="100.2" cy="350.61" r="0.88"/><circle cx="101.96" cy="351.1" r="0.88"/><circle cx="103.55" cy="350.8" r="0.88"/><circle cx="105.16" cy="350.39" r="0.88"/><circle cx="106.97" cy="350.49" r="0.88"/><circle cx="108.71" cy="350" r="0.88"/><circle cx="110.15" cy="350.11" r="0.88"/><circle cx="112.29" cy="350.37" r="0.88"/><circle cx="113.71" cy="349.8" r="0.88"/><circle cx="115.6" cy="349.62" r="0.88"/><circle cx="117.36" cy="350.17" r="0.88"/><circle cx="118.95" cy="349.89" r="0.88"/><circle cx="121.09" cy="350.04" r="0.88"/><circle cx="122.92" cy="350.01" r="0.88"/><circle cx="124.49" cy="350.14" r="0.88"/><circle cx="126.71" cy="349.43" r="0.88"/><circle cx="128.55" cy="349.79" r="0.88"/><circle cx="129.87" cy="349.46" r="0.88"/><circle cx="132.12" cy="350.02" r="0.88"/><circle cx="133.56" cy="349.83" r="0.88"/><circle cx="135.69" cy="350.33" r="0.88"/><circle cx="137.34" cy="350.13" r="0.88"/><circle cx="139.12" cy="349.62" r="0.88"/><circle cx="140.9" cy="349.82" r="0.88"/></g>
<polyline points="117.8,333.88 118.8,333.63 119.8,333.5 120.8,333.51 121.8,333.38 122.8,333.43 123.8,333.48 124.8,333.58 125.8,333.32 126.8,333.5 127.8,333.44 128.8,333.78 129.8,333.41 130.8,333.7 131.8,333.34 132.8,333.11 133.8,333.36 134.8,333.01 135.8,333 136.8,332.9 137.8,333.31 138.8,333.46 139.8,333.03 140.8,332.97 141.8,332.99 142.8,332.9 143.8,333.11 144.8,332.87 145.8,332.67 146.8,333.14 147.8,332.9 148.8,332.47 149.8,333.03 150.8,332.91 151.8,332.62 152.8,332.78 153.8,332.95 154.8,332.56 155.8,332.55 156.8,332.42 157.8,332.57 158.8,332.61" fill="none" stroke="#29a3df" stroke-width="1.6" stroke-linejoin="round" stroke-linecap="round" />
<g fill="#29a3df"><circle cx="117.94" cy="334.21" r="0.88"/><circle cx="119.3" cy="333.62" r="0.88"/><circle cx="121.43" cy="333.96" r="0.88"/><circle cx="122.98" cy="333.8" r="0.88"/><circle cx="124.54" cy="333.99" r="0.88"/><circle cx="126.37" cy="333.44" r="0.88"/><circle cx="127.86" cy="333.13" r="0.88"/><circle cx="130" cy="333.69" r="0.88"/><circle cx="131.18" cy="333.21" r="0.88"/><circle cx="133.16" cy="333.31" r="0.88"/><circle cx="134.8" cy="333.62" r="0.88"/><circle cx="136.5" cy="333.23" r="0.88"/><circle cx="138.56" cy="333.28" r="0.88"/><circle cx="139.99" cy="332.94" r="0.88"/><circle cx="141.65" cy="333.14" r="0.88"/><circle cx="143.6" cy="332.77" r="0.88"/><circle cx="145.06" cy="332.83" r="0.88"/><circle cx="146.76" cy="333.25" r="0.88"/><circle cx="148.57" cy="332.62" r="0.88"/><circle cx="150.16" cy="333.06" r="0.88"/><circle cx="151.76" cy="332.89" r="0.88"/><circle cx="153.39" cy="332.38" r="0.88"/><circle cx="155.12" cy="332.89" r="0.88"/><circle cx="156.88" cy="332.31" r="0.88"/><circle cx="158.53" cy="332.29" r="0.88"/></g>
<polyline points="117.4,350.2 117.8,333.6" fill="none" stroke="#29a3df" stroke-width="0.75" stroke-linejoin="round" stroke-linecap="round" stroke-opacity="0.85"/>
<polyline points="141.1,350 143,343.7 143.5,333.4" fill="none" stroke="#29a3df" stroke-width="0.75" stroke-linejoin="round" stroke-linecap="round" stroke-opacity="0.85"/>
<line x1="129.4" y1="326" x2="129.4" y2="357" stroke="#29a3df" stroke-width="0.8" stroke-dasharray="1 1.4"/>
<line x1="117.3" y1="325.6" x2="117.3" y2="328.6" stroke="#e3242b" stroke-width="0.9" />
<path d="M117.3 331.6L115.7 328.6L118.9 328.6Z" fill="#e3242b"/>
<line x1="140.5" y1="357.2" x2="140.5" y2="355.1" stroke="#1f9e7e" stroke-width="0.9" />
<path d="M140.5 352.1L142.1 355.1L138.9 355.1Z" fill="#1f9e7e"/>
<polyline points="23.5,415.5 41.9,415.1 60.7,414.5 79.6,414.5 92.8,413.6 95.6,411.7 98.5,408.9 102.2,406.4 107.9,405.1 117.3,404.7 135.8,404.2 136.1,387.2 152.7,385.8 177.3,385.3 180.1,382.5 182.9,377.7 186.7,374 194.2,371.1 214,370.2" fill="none" stroke="#c0c0c0" stroke-width="0.65" stroke-linejoin="round" stroke-linecap="round" />
<g fill="#c0c0c0"><circle cx="23.5" cy="415.28" r="0.8"/><circle cx="24.81" cy="415.72" r="0.8"/><circle cx="26.13" cy="415.46" r="0.8"/><circle cx="27.44" cy="415.53" r="0.8"/><circle cx="28.76" cy="415.2" r="0.8"/><circle cx="30.07" cy="415.43" r="0.8"/><circle cx="31.39" cy="415.27" r="0.8"/><circle cx="32.7" cy="415.17" r="0.8"/><circle cx="34.01" cy="415.43" r="0.8"/><circle cx="35.33" cy="415.01" r="0.8"/><circle cx="36.64" cy="415.2" r="0.8"/><circle cx="37.96" cy="414.98" r="0.8"/><circle cx="39.27" cy="415.33" r="0.8"/><circle cx="40.59" cy="415.33" r="0.8"/><circle cx="41.9" cy="414.87" r="0.8"/><circle cx="43.24" cy="415.04" r="0.8"/><circle cx="44.59" cy="415" r="0.8"/><circle cx="45.93" cy="415.08" r="0.8"/><circle cx="47.27" cy="415.04" r="0.8"/><circle cx="48.61" cy="414.81" r="0.8"/><circle cx="49.96" cy="415.06" r="0.8"/><circle cx="51.3" cy="414.64" r="0.8"/><circle cx="52.64" cy="414.58" r="0.8"/><circle cx="53.99" cy="414.87" r="0.8"/><circle cx="55.33" cy="414.48" r="0.8"/><circle cx="56.67" cy="414.47" r="0.8"/><circle cx="58.01" cy="414.59" r="0.8"/><circle cx="59.36" cy="414.46" r="0.8"/><circle cx="60.7" cy="414.33" r="0.8"/><circle cx="62.05" cy="414.71" r="0.8"/><circle cx="63.4" cy="414.49" r="0.8"/><circle cx="64.75" cy="414.64" r="0.8"/><circle cx="66.1" cy="414.38" r="0.8"/><circle cx="67.45" cy="414.71" r="0.8"/><circle cx="68.8" cy="414.36" r="0.8"/><circle cx="70.15" cy="414.7" r="0.8"/><circle cx="71.5" cy="414.56" r="0.8"/><circle cx="72.85" cy="414.74" r="0.8"/><circle cx="74.2" cy="414.64" r="0.8"/><circle cx="75.55" cy="414.57" r="0.8"/><circle cx="76.9" cy="414.52" r="0.8"/><circle cx="78.25" cy="414.68" r="0.8"/><circle cx="79.6" cy="414.47" r="0.8"/><circle cx="80.92" cy="414.21" r="0.8"/><circle cx="82.24" cy="414.53" r="0.8"/><circle cx="83.56" cy="414.38" r="0.8"/><circle cx="84.88" cy="414.23" r="0.8"/><circle cx="86.2" cy="414.17" r="0.8"/><circle cx="87.52" cy="413.83" r="0.8"/><circle cx="88.84" cy="413.85" r="0.8"/><circle cx="90.16" cy="413.94" r="0.8"/><circle cx="91.48" cy="413.92" r="0.8"/><circle cx="92.8" cy="413.81" r="0.8"/><circle cx="94.2" cy="412.48" r="0.8"/><circle cx="95.6" cy="411.79" r="0.8"/><circle cx="97.05" cy="410.33" r="0.8"/><circle cx="98.5" cy="408.85" r="0.8"/><circle cx="100.35" cy="407.48" r="0.8"/><circle cx="102.2" cy="406.22" r="0.8"/><circle cx="103.62" cy="406.06" r="0.8"/><circle cx="105.05" cy="405.75" r="0.8"/><circle cx="106.48" cy="405.31" r="0.8"/><circle cx="107.9" cy="405.03" r="0.8"/><circle cx="109.24" cy="405.07" r="0.8"/><circle cx="110.59" cy="405.12" r="0.8"/><circle cx="111.93" cy="404.97" r="0.8"/><circle cx="113.27" cy="404.7" r="0.8"/><circle cx="114.61" cy="405.01" r="0.8"/><circle cx="115.96" cy="404.69" r="0.8"/><circle cx="117.3" cy="404.93" r="0.8"/><circle cx="118.62" cy="404.91" r="0.8"/><circle cx="119.94" cy="404.45" r="0.8"/><circle cx="121.26" cy="404.63" r="0.8"/><circle cx="122.59" cy="404.79" r="0.8"/><circle cx="123.91" cy="404.46" r="0.8"/><circle cx="125.23" cy="404.51" r="0.8"/><circle cx="126.55" cy="404.36" r="0.8"/><circle cx="127.87" cy="404.18" r="0.8"/><circle cx="129.19" cy="404.23" r="0.8"/><circle cx="130.51" cy="404.15" r="0.8"/><circle cx="131.84" cy="404.2" r="0.8"/><circle cx="133.16" cy="404.34" r="0.8"/><circle cx="134.48" cy="404.27" r="0.8"/><circle cx="135.8" cy="404.42" r="0.8"/><circle cx="136.1" cy="387.29" r="0.8"/><circle cx="137.48" cy="387.01" r="0.8"/><circle cx="138.87" cy="387.19" r="0.8"/><circle cx="140.25" cy="386.92" r="0.8"/><circle cx="141.63" cy="386.75" r="0.8"/><circle cx="143.02" cy="386.8" r="0.8"/><circle cx="144.4" cy="386.58" r="0.8"/><circle cx="145.78" cy="386.31" r="0.8"/><circle cx="147.17" cy="386.32" r="0.8"/><circle cx="148.55" cy="386.05" r="0.8"/><circle cx="149.93" cy="386.27" r="0.8"/><circle cx="151.32" cy="385.79" r="0.8"/><circle cx="152.7" cy="386.04" r="0.8"/><circle cx="154.07" cy="385.55" r="0.8"/><circle cx="155.43" cy="385.5" r="0.8"/><circle cx="156.8" cy="385.74" r="0.8"/><circle cx="158.17" cy="385.54" r="0.8"/><circle cx="159.53" cy="385.66" r="0.8"/><circle cx="160.9" cy="385.44" r="0.8"/><circle cx="162.27" cy="385.77" r="0.8"/><circle cx="163.63" cy="385.66" r="0.8"/><circle cx="165" cy="385.64" r="0.8"/><circle cx="166.37" cy="385.74" r="0.8"/><circle cx="167.73" cy="385.74" r="0.8"/><circle cx="169.1" cy="385.56" r="0.8"/><circle cx="170.47" cy="385.55" r="0.8"/><circle cx="171.83" cy="385.16" r="0.8"/><circle cx="173.2" cy="385.16" r="0.8"/><circle cx="174.57" cy="385.32" r="0.8"/><circle cx="175.93" cy="385.56" r="0.8"/><circle cx="177.3" cy="385.21" r="0.8"/><circle cx="178.7" cy="383.93" r="0.8"/><circle cx="180.1" cy="382.25" r="0.8"/><circle cx="181.5" cy="380.06" r="0.8"/><circle cx="182.9" cy="377.9" r="0.8"/><circle cx="184.8" cy="375.89" r="0.8"/><circle cx="186.7" cy="374.16" r="0.8"/><circle cx="188.2" cy="373.18" r="0.8"/><circle cx="189.7" cy="372.69" r="0.8"/><circle cx="191.2" cy="372.1" r="0.8"/><circle cx="192.7" cy="371.85" r="0.8"/><circle cx="194.2" cy="370.9" r="0.8"/><circle cx="195.52" cy="371.26" r="0.8"/><circle cx="196.84" cy="370.86" r="0.8"/><circle cx="198.16" cy="371.11" r="0.8"/><circle cx="199.48" cy="370.87" r="0.8"/><circle cx="200.8" cy="370.71" r="0.8"/><circle cx="202.12" cy="370.97" r="0.8"/><circle cx="203.44" cy="370.63" r="0.8"/><circle cx="204.76" cy="370.72" r="0.8"/><circle cx="206.08" cy="370.34" r="0.8"/><circle cx="207.4" cy="370.67" r="0.8"/><circle cx="208.72" cy="370.68" r="0.8"/><circle cx="210.04" cy="370.19" r="0.8"/><circle cx="211.36" cy="370.44" r="0.8"/><circle cx="212.68" cy="370.15" r="0.8"/><circle cx="214" cy="370.02" r="0.8"/></g>
<polyline points="41.9,415.1 43.8,413.6 47.5,411.7 52.2,410.8 55.1,407.9 57.9,404.2 60.7,400.8 79.6,400.4" fill="none" stroke="#c0c0c0" stroke-width="0.65" stroke-linejoin="round" stroke-linecap="round" />
<g fill="#c0c0c0"><circle cx="41.9" cy="414.97" r="0.8"/><circle cx="43.8" cy="413.73" r="0.8"/><circle cx="45.65" cy="412.52" r="0.8"/><circle cx="47.5" cy="411.86" r="0.8"/><circle cx="49.07" cy="411.27" r="0.8"/><circle cx="50.63" cy="410.9" r="0.8"/><circle cx="52.2" cy="410.79" r="0.8"/><circle cx="53.65" cy="409.29" r="0.8"/><circle cx="55.1" cy="407.82" r="0.8"/><circle cx="56.5" cy="406.18" r="0.8"/><circle cx="57.9" cy="404.06" r="0.8"/><circle cx="59.3" cy="402.59" r="0.8"/><circle cx="60.7" cy="400.97" r="0.8"/><circle cx="62.05" cy="400.75" r="0.8"/><circle cx="63.4" cy="400.74" r="0.8"/><circle cx="64.75" cy="400.93" r="0.8"/><circle cx="66.1" cy="400.74" r="0.8"/><circle cx="67.45" cy="400.5" r="0.8"/><circle cx="68.8" cy="400.41" r="0.8"/><circle cx="70.15" cy="400.39" r="0.8"/><circle cx="71.5" cy="400.49" r="0.8"/><circle cx="72.85" cy="400.34" r="0.8"/><circle cx="74.2" cy="400.59" r="0.8"/><circle cx="75.55" cy="400.45" r="0.8"/><circle cx="76.9" cy="400.36" r="0.8"/><circle cx="78.25" cy="400.43" r="0.8"/><circle cx="79.6" cy="400.62" r="0.8"/></g>
<polyline points="130.1,380.6 137.6,376.8 143.3,372.1 152.7,371.1 171.6,370.6 194.2,370.2 214,370.2" fill="none" stroke="#c0c0c0" stroke-width="0.65" stroke-linejoin="round" stroke-linecap="round" />
<g fill="#c0c0c0"><circle cx="130.1" cy="380.84" r="0.8"/><circle cx="131.6" cy="379.61" r="0.8"/><circle cx="133.1" cy="379.19" r="0.8"/><circle cx="134.6" cy="378.47" r="0.8"/><circle cx="136.1" cy="377.37" r="0.8"/><circle cx="137.6" cy="376.71" r="0.8"/><circle cx="139.03" cy="375.4" r="0.8"/><circle cx="140.45" cy="374.49" r="0.8"/><circle cx="141.88" cy="373.39" r="0.8"/><circle cx="143.3" cy="372.02" r="0.8"/><circle cx="144.64" cy="372.05" r="0.8"/><circle cx="145.99" cy="371.75" r="0.8"/><circle cx="147.33" cy="371.78" r="0.8"/><circle cx="148.67" cy="371.42" r="0.8"/><circle cx="150.01" cy="371.62" r="0.8"/><circle cx="151.36" cy="371.21" r="0.8"/><circle cx="152.7" cy="370.85" r="0.8"/><circle cx="154.05" cy="370.86" r="0.8"/><circle cx="155.4" cy="371.14" r="0.8"/><circle cx="156.75" cy="371.18" r="0.8"/><circle cx="158.1" cy="371.03" r="0.8"/><circle cx="159.45" cy="370.75" r="0.8"/><circle cx="160.8" cy="371.07" r="0.8"/><circle cx="162.15" cy="370.96" r="0.8"/><circle cx="163.5" cy="370.62" r="0.8"/><circle cx="164.85" cy="370.72" r="0.8"/><circle cx="166.2" cy="370.83" r="0.8"/><circle cx="167.55" cy="370.46" r="0.8"/><circle cx="168.9" cy="370.44" r="0.8"/><circle cx="170.25" cy="370.56" r="0.8"/><circle cx="171.6" cy="370.79" r="0.8"/><circle cx="172.93" cy="370.82" r="0.8"/><circle cx="174.26" cy="370.46" r="0.8"/><circle cx="175.59" cy="370.73" r="0.8"/><circle cx="176.92" cy="370.65" r="0.8"/><circle cx="178.25" cy="370.66" r="0.8"/><circle cx="179.58" cy="370.5" r="0.8"/><circle cx="180.91" cy="370.67" r="0.8"/><circle cx="182.24" cy="370.48" r="0.8"/><circle cx="183.56" cy="370.61" r="0.8"/><circle cx="184.89" cy="370.4" r="0.8"/><circle cx="186.22" cy="370.19" r="0.8"/><circle cx="187.55" cy="370.33" r="0.8"/><circle cx="188.88" cy="370.29" r="0.8"/><circle cx="190.21" cy="370.19" r="0.8"/><circle cx="191.54" cy="370.18" r="0.8"/><circle cx="192.87" cy="370.23" r="0.8"/><circle cx="194.2" cy="370.24" r="0.8"/><circle cx="195.52" cy="370.06" r="0.8"/><circle cx="196.84" cy="370.09" r="0.8"/><circle cx="198.16" cy="370.2" r="0.8"/><circle cx="199.48" cy="370.2" r="0.8"/><circle cx="200.8" cy="370.16" r="0.8"/><circle cx="202.12" cy="370.28" r="0.8"/><circle cx="203.44" cy="370.04" r="0.8"/><circle cx="204.76" cy="370.22" r="0.8"/><circle cx="206.08" cy="370.09" r="0.8"/><circle cx="207.4" cy="370.34" r="0.8"/><circle cx="208.72" cy="370.3" r="0.8"/><circle cx="210.04" cy="370.34" r="0.8"/><circle cx="211.36" cy="370.21" r="0.8"/><circle cx="212.68" cy="370.07" r="0.8"/><circle cx="214" cy="370.41" r="0.8"/></g>
<polyline points="79.6,400.41 80.64,400.29 81.68,400.21 82.72,400.27 83.76,400.47 84.8,400.52 85.84,400.27 86.88,400.42 87.92,400.04 88.96,400.19 90,400.1 91.04,400.04 92.08,400.06 93.12,400.32 94.16,400.28 95.2,399.9 96.24,399.89 97.28,400.26 98.32,400.15 99.36,400.14 100.4,400.09 101.43,400.14 102.46,399.84 103.49,399.69 104.53,399.9 105.56,399.67 106.59,400.32 107.62,400.02 108.65,400.12 109.68,400.33 110.72,400.21 111.75,399.81 112.78,399.89 113.81,399.73 114.84,400.21 115.87,400.17 116.91,399.99 117.94,399.91 118.97,399.84 120,399.99 121.07,400.1 122.14,400.18 123.21,400.11 124.28,400.07 125.35,399.73 126.42,399.67 127.48,399.55 128.55,399.96 129.62,399.36 130.69,399.3 131.76,399.34 132.83,399.74 133.9,399.65 134.9,399.23 135.9,399.53 136.9,399.5 137.9,399.12 138.9,398.9 139.9,399.25 140.9,398.92 141.9,398.68 142.9,399.18 143.9,398.8 144.9,398.71 145.9,398.79 146.9,398.5 147.9,398.28 148.9,398.48 149.9,398.42" fill="none" stroke="#29a3df" stroke-width="1.6" stroke-linejoin="round" stroke-linecap="round" />
<g fill="#29a3df"><circle cx="79.31" cy="400.28" r="0.88"/><circle cx="81.49" cy="400.21" r="0.88"/><circle cx="83.17" cy="400.45" r="0.88"/><circle cx="84.61" cy="399.86" r="0.88"/><circle cx="86.64" cy="400.37" r="0.88"/><circle cx="88.14" cy="399.96" r="0.88"/><circle cx="90.21" cy="400.57" r="0.88"/><circle cx="91.57" cy="400.24" r="0.88"/><circle cx="93.51" cy="399.97" r="0.88"/><circle cx="94.92" cy="399.94" r="0.88"/><circle cx="97.02" cy="400.16" r="0.88"/><circle cx="98.67" cy="399.69" r="0.88"/><circle cx="100.23" cy="399.83" r="0.88"/><circle cx="102.13" cy="399.88" r="0.88"/><circle cx="104.21" cy="399.65" r="0.88"/><circle cx="106.04" cy="399.76" r="0.88"/><circle cx="107.74" cy="399.77" r="0.88"/><circle cx="109.36" cy="399.89" r="0.88"/><circle cx="110.81" cy="400.27" r="0.88"/><circle cx="113.06" cy="399.79" r="0.88"/><circle cx="114.82" cy="399.98" r="0.88"/><circle cx="116.73" cy="399.59" r="0.88"/><circle cx="118.15" cy="399.75" r="0.88"/><circle cx="120.07" cy="400.25" r="0.88"/><circle cx="121.94" cy="399.97" r="0.88"/><circle cx="123.41" cy="400.12" r="0.88"/><circle cx="124.98" cy="399.56" r="0.88"/><circle cx="127.1" cy="399.65" r="0.88"/><circle cx="128.98" cy="399.25" r="0.88"/><circle cx="130.4" cy="399.29" r="0.88"/><circle cx="131.86" cy="399.11" r="0.88"/><circle cx="133.65" cy="399.28" r="0.88"/><circle cx="135.64" cy="399.31" r="0.88"/><circle cx="137.33" cy="399.38" r="0.88"/><circle cx="139.24" cy="399.54" r="0.88"/><circle cx="140.81" cy="399.01" r="0.88"/><circle cx="142.79" cy="398.78" r="0.88"/><circle cx="144.78" cy="398.54" r="0.88"/><circle cx="146.57" cy="398.57" r="0.88"/><circle cx="148.02" cy="398.7" r="0.88"/><circle cx="149.94" cy="398.3" r="0.88"/></g>
<polyline points="103.2,382.21 104.25,382.77 105.3,382.31 106.35,382.08 107.4,382.41 108.45,382.27 109.5,382.08 110.55,382.03 111.6,382.34 112.65,381.94 113.7,381.94 114.75,382.27 115.8,381.8 116.85,381.78 117.9,381.56 118.95,381.86 120,381.82 121.07,381.62 122.14,381.54 123.21,381.37 124.28,381.72 125.35,381.44 126.42,381.66 127.48,381.29 128.55,381.49 129.62,380.95 130.69,381.04 131.76,381.51 132.83,381.27 133.9,381.22 134.92,381.08 135.94,381.04 136.96,380.83 137.98,380.79 139,381.1 140.03,381.11 141.05,380.79 142.07,381.03 143.09,380.66 144.11,380.97 145.13,380.64 146.15,380.86 147.17,380.7 148.19,380.84 149.21,380.53 150.23,380.76 151.25,380.83 152.28,380.47 153.3,380.57 154.32,380.81 155.34,380.69 156.36,380.72 157.38,380.82 158.4,380.65" fill="none" stroke="#29a3df" stroke-width="1.6" stroke-linejoin="round" stroke-linecap="round" />
<g fill="#29a3df"><circle cx="103.03" cy="382.45" r="0.88"/><circle cx="105.26" cy="382.47" r="0.88"/><circle cx="107.09" cy="382.2" r="0.88"/><circle cx="108.77" cy="382.66" r="0.88"/><circle cx="110.86" cy="382.28" r="0.88"/><circle cx="112.3" cy="382.16" r="0.88"/><circle cx="114.12" cy="382.36" r="0.88"/><circle cx="116.55" cy="382.09" r="0.88"/><circle cx="117.99" cy="382.1" r="0.88"/><circle cx="119.81" cy="382" r="0.88"/><circle cx="121.75" cy="381.18" r="0.88"/><circle cx="123.71" cy="381.5" r="0.88"/><circle cx="125.41" cy="381.65" r="0.88"/><circle cx="126.97" cy="381.73" r="0.88"/><circle cx="128.51" cy="381.69" r="0.88"/><circle cx="130.33" cy="380.82" r="0.88"/><circle cx="132.06" cy="380.78" r="0.88"/><circle cx="133.64" cy="381.21" r="0.88"/><circle cx="135.42" cy="380.75" r="0.88"/><circle cx="137.28" cy="380.83" r="0.88"/><circle cx="139.4" cy="381.36" r="0.88"/><circle cx="141.12" cy="381.4" r="0.88"/><circle cx="142.61" cy="381.19" r="0.88"/><circle cx="144.27" cy="381.27" r="0.88"/><circle cx="146.34" cy="381.06" r="0.88"/><circle cx="147.74" cy="380.44" r="0.88"/><circle cx="149.91" cy="380.83" r="0.88"/><circle cx="151.47" cy="381.07" r="0.88"/><circle cx="152.94" cy="380.89" r="0.88"/><circle cx="154.88" cy="380.93" r="0.88"/><circle cx="156.62" cy="380.36" r="0.88"/><circle cx="158.67" cy="380.4" r="0.88"/></g>
<polyline points="100.7,400 101.3,395.7 103.2,383" fill="none" stroke="#29a3df" stroke-width="0.75" stroke-linejoin="round" stroke-linecap="round" stroke-opacity="0.85"/>
<polyline points="150.5,398.5 150.5,381.9" fill="none" stroke="#29a3df" stroke-width="0.75" stroke-linejoin="round" stroke-linecap="round" stroke-opacity="0.85"/>
<line x1="126" y1="375.8" x2="126" y2="406" stroke="#29a3df" stroke-width="0.8" stroke-dasharray="1 1.4"/>
<line x1="100.9" y1="372.6" x2="100.9" y2="375.7" stroke="#e3242b" stroke-width="0.9" />
<path d="M100.9 378.7L99.3 375.7L102.5 375.7Z" fill="#e3242b"/>
<line x1="149.5" y1="406.2" x2="149.5" y2="403.6" stroke="#1f9e7e" stroke-width="0.9" />
<path d="M149.5 400.6L151.1 403.6L147.9 403.6Z" fill="#1f9e7e"/>
<rect x="251.5" y="195.5" width="191" height="230" fill="none" stroke="#999" stroke-width="1"/>
<line x1="346.8" y1="196" x2="346.8" y2="425" stroke="#d0d0d0" stroke-width="0.9" stroke-dasharray="3 2.5"/>
<line x1="251.5" y1="425.5" x2="251.5" y2="429.1" stroke="#999" stroke-width="0.9" />
<line x1="299.6" y1="425.5" x2="299.6" y2="429.1" stroke="#999" stroke-width="0.9" />
<line x1="347.7" y1="425.5" x2="347.7" y2="429.1" stroke="#999" stroke-width="0.9" />
<line x1="395.8" y1="425.5" x2="395.8" y2="429.1" stroke="#999" stroke-width="0.9" />
<line x1="443.9" y1="425.5" x2="443.9" y2="429.1" stroke="#999" stroke-width="0.9" />
<line x1="275.55" y1="425.5" x2="275.55" y2="427.5" stroke="#999" stroke-width="0.9" />
<line x1="323.65" y1="425.5" x2="323.65" y2="427.5" stroke="#999" stroke-width="0.9" />
<line x1="371.75" y1="425.5" x2="371.75" y2="427.5" stroke="#999" stroke-width="0.9" />
<line x1="419.85" y1="425.5" x2="419.85" y2="427.5" stroke="#999" stroke-width="0.9" />
<text x="252.3" y="439.6" font-size="10" text-anchor="middle" fill="#1a1a1a" font-weight="normal" font-style="normal"  stroke="#1a1a1a" stroke-width="0.22">-0.2</text>
<text x="300.2" y="439.6" font-size="10" text-anchor="middle" fill="#1a1a1a" font-weight="normal" font-style="normal"  stroke="#1a1a1a" stroke-width="0.22">-0.1</text>
<text x="347.8" y="439.6" font-size="10" text-anchor="middle" fill="#1a1a1a" font-weight="normal" font-style="normal"  stroke="#1a1a1a" stroke-width="0.22">0</text>
<text x="396.4" y="439.6" font-size="10" text-anchor="middle" fill="#1a1a1a" font-weight="normal" font-style="normal"  stroke="#1a1a1a" stroke-width="0.22">0.1</text>
<text x="444" y="439.6" font-size="10" text-anchor="middle" fill="#1a1a1a" font-weight="normal" font-style="normal"  stroke="#1a1a1a" stroke-width="0.22">0.2</text>
<text x="350.1" y="450.9" font-size="11" fill="#1a1a1a" text-anchor="middle" stroke="#1a1a1a" stroke-width="0.22"><tspan font-style="italic">&#956;</tspan><tspan font-size="7.04" dy="3.6">0</tspan><tspan font-style="italic" dy="-3.6">H</tspan> (T)</text>
<text transform="translate(245.3 309.3) rotate(-90)" x="0" y="0" font-size="11.2" fill="#1a1a1a" text-anchor="middle" stroke="#1a1a1a" stroke-width="0.22">RMCD (%)</text>
<text x="227.7" y="193.7" font-size="11" text-anchor="start" fill="#000" font-weight="bold" font-style="normal"  stroke="#000" stroke-width="0.22">d</text>
<text x="321.5" y="189.9" font-size="11" fill="#1a1a1a" text-anchor="start"  stroke="#1a1a1a" stroke-width="0.22"><tspan>MnBi</tspan><tspan font-size="7" dy="3.7">6</tspan><tspan dy="-3.7">Te</tspan><tspan font-size="7" dy="3.7">10</tspan></text>
<line x1="257.3" y1="198.3" x2="257.3" y2="213.6" stroke="#8c8c8c" stroke-width="0.9" />
<line x1="255.65" y1="198.3" x2="258.95" y2="198.3" stroke="#3a3a3a" stroke-width="1" />
<line x1="255.65" y1="213.6" x2="258.95" y2="213.6" stroke="#3a3a3a" stroke-width="1" />
<text x="260.1" y="209.2" font-size="11.4" text-anchor="start" fill="#1a1a1a" font-weight="normal" font-style="normal"  stroke="#1a1a1a" stroke-width="0.22">0.2%</text>
<text x="441" y="206.5" font-size="11.5" text-anchor="end" fill="#1a1a1a" font-weight="normal" font-style="normal"  stroke="#1a1a1a" stroke-width="0.22">10 K</text>
<text x="441" y="233.7" font-size="11.5" text-anchor="end" fill="#1a1a1a" font-weight="normal" font-style="normal"  stroke="#1a1a1a" stroke-width="0.22">8 K</text>
<text x="441" y="274.6" font-size="11.5" text-anchor="end" fill="#1a1a1a" font-weight="normal" font-style="normal"  stroke="#1a1a1a" stroke-width="0.22">6 K</text>
<text x="441" y="321.2" font-size="11.5" text-anchor="end" fill="#1a1a1a" font-weight="normal" font-style="normal"  stroke="#1a1a1a" stroke-width="0.22">4 K</text>
<text x="441" y="382.9" font-size="11.5" text-anchor="end" fill="#1a1a1a" font-weight="normal" font-style="normal"  stroke="#1a1a1a" stroke-width="0.22">2 K</text>
<polyline points="297.9,225.8 306.4,225.1 314.7,224.6 322.9,223 326.2,221 332.8,220 341,218.8" fill="none" stroke="#c0c0c0" stroke-width="0.65" stroke-linejoin="round" stroke-linecap="round" />
<g fill="#c0c0c0"><circle cx="297.9" cy="225.69" r="0.8"/><circle cx="299.32" cy="225.75" r="0.8"/><circle cx="300.73" cy="225.56" r="0.8"/><circle cx="302.15" cy="225.39" r="0.8"/><circle cx="303.57" cy="225.37" r="0.8"/><circle cx="304.98" cy="225.08" r="0.8"/><circle cx="306.4" cy="225.07" r="0.8"/><circle cx="307.78" cy="224.77" r="0.8"/><circle cx="309.17" cy="225.08" r="0.8"/><circle cx="310.55" cy="224.73" r="0.8"/><circle cx="311.93" cy="224.93" r="0.8"/><circle cx="313.32" cy="224.71" r="0.8"/><circle cx="314.7" cy="224.65" r="0.8"/><circle cx="316.07" cy="224.4" r="0.8"/><circle cx="317.43" cy="223.88" r="0.8"/><circle cx="318.8" cy="223.94" r="0.8"/><circle cx="320.17" cy="223.43" r="0.8"/><circle cx="321.53" cy="223.45" r="0.8"/><circle cx="322.9" cy="223.14" r="0.8"/><circle cx="324.55" cy="222.09" r="0.8"/><circle cx="326.2" cy="221.16" r="0.8"/><circle cx="327.52" cy="220.77" r="0.8"/><circle cx="328.84" cy="220.69" r="0.8"/><circle cx="330.16" cy="220.63" r="0.8"/><circle cx="331.48" cy="220.04" r="0.8"/><circle cx="332.8" cy="219.8" r="0.8"/><circle cx="334.17" cy="219.76" r="0.8"/><circle cx="335.53" cy="219.6" r="0.8"/><circle cx="336.9" cy="219.22" r="0.8"/><circle cx="338.27" cy="219.06" r="0.8"/><circle cx="339.63" cy="219.18" r="0.8"/><circle cx="341" cy="218.74" r="0.8"/></g>
<polyline points="352.5,208.2 359.1,207.3 369,205.2 375.5,202.4 382.1,201.3 390,200.8 395.4,199.9" fill="none" stroke="#c0c0c0" stroke-width="0.65" stroke-linejoin="round" stroke-linecap="round" />
<g fill="#c0c0c0"><circle cx="352.5" cy="208.39" r="0.8"/><circle cx="353.82" cy="207.8" r="0.8"/><circle cx="355.14" cy="207.71" r="0.8"/><circle cx="356.46" cy="207.45" r="0.8"/><circle cx="357.78" cy="207.36" r="0.8"/><circle cx="359.1" cy="207.09" r="0.8"/><circle cx="360.51" cy="206.99" r="0.8"/><circle cx="361.93" cy="206.58" r="0.8"/><circle cx="363.34" cy="206.3" r="0.8"/><circle cx="364.76" cy="206.08" r="0.8"/><circle cx="366.17" cy="205.74" r="0.8"/><circle cx="367.59" cy="205.64" r="0.8"/><circle cx="369" cy="205.31" r="0.8"/><circle cx="370.3" cy="204.45" r="0.8"/><circle cx="371.6" cy="203.94" r="0.8"/><circle cx="372.9" cy="203.27" r="0.8"/><circle cx="374.2" cy="202.87" r="0.8"/><circle cx="375.5" cy="202.2" r="0.8"/><circle cx="376.82" cy="202.28" r="0.8"/><circle cx="378.14" cy="202.1" r="0.8"/><circle cx="379.46" cy="201.99" r="0.8"/><circle cx="380.78" cy="201.37" r="0.8"/><circle cx="382.1" cy="201.07" r="0.8"/><circle cx="383.42" cy="201.35" r="0.8"/><circle cx="384.73" cy="201.09" r="0.8"/><circle cx="386.05" cy="201.27" r="0.8"/><circle cx="387.37" cy="200.91" r="0.8"/><circle cx="388.68" cy="200.79" r="0.8"/><circle cx="390" cy="200.59" r="0.8"/><circle cx="391.35" cy="200.8" r="0.8"/><circle cx="392.7" cy="200.36" r="0.8"/><circle cx="394.05" cy="200.1" r="0.8"/><circle cx="395.4" cy="199.87" r="0.8"/></g>
<polyline points="341,218.99 342.1,218.9 343.2,218.52 344.3,218.17 345.4,218.2 346.5,218.41 347.6,217.94" fill="none" stroke="#29a3df" stroke-width="2.08" stroke-linejoin="round" stroke-linecap="round" />
<g fill="#29a3df"><circle cx="341.1" cy="218.85" r="1.14"/><circle cx="343.18" cy="218.6" r="1.14"/><circle cx="345.25" cy="218.32" r="1.14"/><circle cx="347.82" cy="217.62" r="1.14"/></g>
<polyline points="346.7,209.41 347.86,209.57 349.02,209.43 350.18,208.56 351.34,208.79 352.5,208.59" fill="none" stroke="#29a3df" stroke-width="2.08" stroke-linejoin="round" stroke-linecap="round" />
<g fill="#29a3df"><circle cx="346.91" cy="209.47" r="1.14"/><circle cx="348.41" cy="208.98" r="1.14"/><circle cx="350.69" cy="209.04" r="1.14"/><circle cx="352.32" cy="208.63" r="1.14"/></g>
<polyline points="347.6,218 347.6,209.8" fill="none" stroke="#29a3df" stroke-width="0.75" stroke-linejoin="round" stroke-linecap="round" stroke-opacity="0.85"/>
<line x1="345.9" y1="201.2" x2="345.9" y2="204.3" stroke="#e3242b" stroke-width="0.9" />
<path d="M345.9 207.3L344.3 204.3L347.5 204.3Z" fill="#e3242b"/>
<line x1="347.9" y1="226.5" x2="347.9" y2="223.3" stroke="#1f9e7e" stroke-width="0.9" />
<path d="M347.9 220.3L349.5 223.3L346.3 223.3Z" fill="#1f9e7e"/>
<polyline points="298.2,264.4 306.4,263.8 314.7,262.4 317.1,260 318.8,257.5 322.9,256.2 331.1,255.5" fill="none" stroke="#c0c0c0" stroke-width="0.65" stroke-linejoin="round" stroke-linecap="round" />
<g fill="#c0c0c0"><circle cx="298.2" cy="264.36" r="0.8"/><circle cx="299.57" cy="264.11" r="0.8"/><circle cx="300.93" cy="264.21" r="0.8"/><circle cx="302.3" cy="264" r="0.8"/><circle cx="303.67" cy="264.23" r="0.8"/><circle cx="305.03" cy="263.84" r="0.8"/><circle cx="306.4" cy="263.77" r="0.8"/><circle cx="307.78" cy="263.43" r="0.8"/><circle cx="309.17" cy="263.57" r="0.8"/><circle cx="310.55" cy="263.01" r="0.8"/><circle cx="311.93" cy="262.94" r="0.8"/><circle cx="313.32" cy="262.8" r="0.8"/><circle cx="314.7" cy="262.35" r="0.8"/><circle cx="317.1" cy="260.13" r="0.8"/><circle cx="318.8" cy="257.39" r="0.8"/><circle cx="320.17" cy="256.87" r="0.8"/><circle cx="321.53" cy="256.4" r="0.8"/><circle cx="322.9" cy="256.17" r="0.8"/><circle cx="324.27" cy="256.27" r="0.8"/><circle cx="325.63" cy="255.82" r="0.8"/><circle cx="327" cy="255.82" r="0.8"/><circle cx="328.37" cy="255.86" r="0.8"/><circle cx="329.73" cy="255.5" r="0.8"/><circle cx="331.1" cy="255.33" r="0.8"/></g>
<polyline points="362.4,238.6 372.2,238.1 375.5,236.1 378,232 382.1,230.4 390,230 395.4,229.9" fill="none" stroke="#c0c0c0" stroke-width="0.65" stroke-linejoin="round" stroke-linecap="round" />
<g fill="#c0c0c0"><circle cx="362.4" cy="238.46" r="0.8"/><circle cx="363.8" cy="238.32" r="0.8"/><circle cx="365.2" cy="238.25" r="0.8"/><circle cx="366.6" cy="238.23" r="0.8"/><circle cx="368" cy="238.32" r="0.8"/><circle cx="369.4" cy="238.06" r="0.8"/><circle cx="370.8" cy="238.33" r="0.8"/><circle cx="372.2" cy="238.06" r="0.8"/><circle cx="373.85" cy="236.98" r="0.8"/><circle cx="375.5" cy="235.97" r="0.8"/><circle cx="378" cy="232.17" r="0.8"/><circle cx="379.37" cy="231.24" r="0.8"/><circle cx="380.73" cy="231.05" r="0.8"/><circle cx="382.1" cy="230.2" r="0.8"/><circle cx="383.42" cy="230.56" r="0.8"/><circle cx="384.73" cy="230.22" r="0.8"/><circle cx="386.05" cy="230.25" r="0.8"/><circle cx="387.37" cy="230.31" r="0.8"/><circle cx="388.68" cy="229.87" r="0.8"/><circle cx="390" cy="229.78" r="0.8"/><circle cx="391.35" cy="230.07" r="0.8"/><circle cx="392.7" cy="229.99" r="0.8"/><circle cx="394.05" cy="230.04" r="0.8"/><circle cx="395.4" cy="229.79" r="0.8"/></g>
<polyline points="331.9,256.2 332.93,255.9 333.96,255.99 334.99,255.79 336.02,255.92 337.05,255.63 338.08,255.53 339.11,255.7 340.14,255.23 341.17,255.65 342.2,255.35 343.23,255.08 344.26,254.91 345.29,255.1 346.32,255.01 347.35,255.08 348.38,254.75 349.41,254.69 350.44,254.94 351.47,254.43 352.5,254.84" fill="none" stroke="#29a3df" stroke-width="1.6" stroke-linejoin="round" stroke-linecap="round" />
<g fill="#29a3df"><circle cx="332.14" cy="256.65" r="0.88"/><circle cx="333.88" cy="255.84" r="0.88"/><circle cx="335.52" cy="256.02" r="0.88"/><circle cx="336.87" cy="256.23" r="0.88"/><circle cx="338.86" cy="255.92" r="0.88"/><circle cx="340.52" cy="255.11" r="0.88"/><circle cx="342.42" cy="255.05" r="0.88"/><circle cx="343.77" cy="255.31" r="0.88"/><circle cx="345.45" cy="255.03" r="0.88"/><circle cx="347.48" cy="254.56" r="0.88"/><circle cx="349.16" cy="254.42" r="0.88"/><circle cx="350.77" cy="254.78" r="0.88"/><circle cx="352.61" cy="254.08" r="0.88"/></g>
<polyline points="342.3,239.48 343.31,239.97 344.31,239.51 345.31,239.48 346.32,239.39 347.32,239.56 348.33,239.54 349.33,239.42 350.34,239.19 351.34,239.25 352.35,239.16 353.36,238.88 354.36,239.35 355.37,239.31 356.37,239.12 357.38,239.22 358.38,238.8 359.38,239 360.39,238.53 361.39,238.82 362.4,238.75" fill="none" stroke="#29a3df" stroke-width="1.6" stroke-linejoin="round" stroke-linecap="round" />
<g fill="#29a3df"><circle cx="342.56" cy="240" r="0.88"/><circle cx="344.35" cy="239.39" r="0.88"/><circle cx="346.13" cy="239.48" r="0.88"/><circle cx="347.67" cy="239.28" r="0.88"/><circle cx="349.79" cy="239.61" r="0.88"/><circle cx="351.64" cy="239.35" r="0.88"/><circle cx="353.07" cy="238.79" r="0.88"/><circle cx="355.13" cy="238.74" r="0.88"/><circle cx="356.82" cy="238.54" r="0.88"/><circle cx="358.54" cy="239" r="0.88"/><circle cx="360.41" cy="239.02" r="0.88"/><circle cx="362.3" cy="238.92" r="0.88"/></g>
<polyline points="342.3,253.4 342.3,239.7" fill="none" stroke="#29a3df" stroke-width="0.75" stroke-linejoin="round" stroke-linecap="round" stroke-opacity="0.85"/>
<polyline points="352.5,254.5 353.3,239.7" fill="none" stroke="#29a3df" stroke-width="0.75" stroke-linejoin="round" stroke-linecap="round" stroke-opacity="0.85"/>
<line x1="342.6" y1="230.8" x2="342.6" y2="233.9" stroke="#e3242b" stroke-width="0.9" />
<path d="M342.6 236.9L341 233.9L344.2 233.9Z" fill="#e3242b"/>
<line x1="353" y1="263.5" x2="353" y2="260.3" stroke="#1f9e7e" stroke-width="0.9" />
<path d="M353 257.3L354.6 260.3L351.4 260.3Z" fill="#1f9e7e"/>
<polyline points="273.4,309.1 288.3,309.1 307,308.2 315.4,307.6 318.2,305.4 320,302.6 322.8,299.4 327.5,298.8 351,297.9 359.9,297.9 362.7,276.5 373,274.6 375.8,269.6 384.2,269 401,268.4 418.7,268.1" fill="none" stroke="#c0c0c0" stroke-width="0.65" stroke-linejoin="round" stroke-linecap="round" />
<g fill="#c0c0c0"><circle cx="273.4" cy="309.27" r="0.8"/><circle cx="274.75" cy="309.14" r="0.8"/><circle cx="276.11" cy="309.14" r="0.8"/><circle cx="277.46" cy="308.86" r="0.8"/><circle cx="278.82" cy="309.04" r="0.8"/><circle cx="280.17" cy="308.98" r="0.8"/><circle cx="281.53" cy="309.16" r="0.8"/><circle cx="282.88" cy="308.88" r="0.8"/><circle cx="284.24" cy="309.12" r="0.8"/><circle cx="285.59" cy="309.04" r="0.8"/><circle cx="286.95" cy="309.1" r="0.8"/><circle cx="288.3" cy="309.05" r="0.8"/><circle cx="289.64" cy="308.84" r="0.8"/><circle cx="290.97" cy="309.09" r="0.8"/><circle cx="292.31" cy="309.06" r="0.8"/><circle cx="293.64" cy="308.89" r="0.8"/><circle cx="294.98" cy="308.59" r="0.8"/><circle cx="296.31" cy="308.76" r="0.8"/><circle cx="297.65" cy="308.84" r="0.8"/><circle cx="298.99" cy="308.83" r="0.8"/><circle cx="300.32" cy="308.65" r="0.8"/><circle cx="301.66" cy="308.23" r="0.8"/><circle cx="302.99" cy="308.58" r="0.8"/><circle cx="304.33" cy="308.41" r="0.8"/><circle cx="305.66" cy="308.15" r="0.8"/><circle cx="307" cy="308.41" r="0.8"/><circle cx="308.4" cy="308.26" r="0.8"/><circle cx="309.8" cy="308.2" r="0.8"/><circle cx="311.2" cy="307.77" r="0.8"/><circle cx="312.6" cy="307.84" r="0.8"/><circle cx="314" cy="307.64" r="0.8"/><circle cx="315.4" cy="307.5" r="0.8"/><circle cx="316.8" cy="306.63" r="0.8"/><circle cx="318.2" cy="305.46" r="0.8"/><circle cx="320" cy="302.52" r="0.8"/><circle cx="321.4" cy="301.02" r="0.8"/><circle cx="322.8" cy="299.61" r="0.8"/><circle cx="324.37" cy="299.23" r="0.8"/><circle cx="325.93" cy="299.21" r="0.8"/><circle cx="327.5" cy="298.83" r="0.8"/><circle cx="328.81" cy="299" r="0.8"/><circle cx="330.11" cy="298.46" r="0.8"/><circle cx="331.42" cy="298.63" r="0.8"/><circle cx="332.72" cy="298.63" r="0.8"/><circle cx="334.03" cy="298.66" r="0.8"/><circle cx="335.33" cy="298.73" r="0.8"/><circle cx="336.64" cy="298.51" r="0.8"/><circle cx="337.94" cy="298.39" r="0.8"/><circle cx="339.25" cy="298.42" r="0.8"/><circle cx="340.56" cy="298.32" r="0.8"/><circle cx="341.86" cy="298.35" r="0.8"/><circle cx="343.17" cy="298.42" r="0.8"/><circle cx="344.47" cy="297.91" r="0.8"/><circle cx="345.78" cy="298.01" r="0.8"/><circle cx="347.08" cy="298.24" r="0.8"/><circle cx="348.39" cy="297.78" r="0.8"/><circle cx="349.69" cy="298.1" r="0.8"/><circle cx="351" cy="297.67" r="0.8"/><circle cx="352.48" cy="297.97" r="0.8"/><circle cx="353.97" cy="298.05" r="0.8"/><circle cx="355.45" cy="297.77" r="0.8"/><circle cx="356.93" cy="297.84" r="0.8"/><circle cx="358.42" cy="297.76" r="0.8"/><circle cx="359.9" cy="298" r="0.8"/><circle cx="361.3" cy="287.21" r="0.8"/><circle cx="362.7" cy="276.55" r="0.8"/><circle cx="364.17" cy="276.14" r="0.8"/><circle cx="365.64" cy="276" r="0.8"/><circle cx="367.11" cy="275.91" r="0.8"/><circle cx="368.59" cy="275.55" r="0.8"/><circle cx="370.06" cy="275.37" r="0.8"/><circle cx="371.53" cy="274.75" r="0.8"/><circle cx="373" cy="274.61" r="0.8"/><circle cx="374.4" cy="272.04" r="0.8"/><circle cx="375.8" cy="269.52" r="0.8"/><circle cx="377.2" cy="269.65" r="0.8"/><circle cx="378.6" cy="269.24" r="0.8"/><circle cx="380" cy="269.33" r="0.8"/><circle cx="381.4" cy="269.34" r="0.8"/><circle cx="382.8" cy="269.32" r="0.8"/><circle cx="384.2" cy="268.76" r="0.8"/><circle cx="385.6" cy="268.84" r="0.8"/><circle cx="387" cy="268.9" r="0.8"/><circle cx="388.4" cy="269.07" r="0.8"/><circle cx="389.8" cy="268.63" r="0.8"/><circle cx="391.2" cy="268.92" r="0.8"/><circle cx="392.6" cy="268.65" r="0.8"/><circle cx="394" cy="268.67" r="0.8"/><circle cx="395.4" cy="268.81" r="0.8"/><circle cx="396.8" cy="268.33" r="0.8"/><circle cx="398.2" cy="268.41" r="0.8"/><circle cx="399.6" cy="268.28" r="0.8"/><circle cx="401" cy="268.22" r="0.8"/><circle cx="402.36" cy="268.28" r="0.8"/><circle cx="403.72" cy="268.45" r="0.8"/><circle cx="405.08" cy="268.37" r="0.8"/><circle cx="406.45" cy="268.12" r="0.8"/><circle cx="407.81" cy="268.44" r="0.8"/><circle cx="409.17" cy="268.27" r="0.8"/><circle cx="410.53" cy="268.06" r="0.8"/><circle cx="411.89" cy="268.38" r="0.8"/><circle cx="413.25" cy="268.35" r="0.8"/><circle cx="414.62" cy="268.03" r="0.8"/><circle cx="415.98" cy="268.37" r="0.8"/><circle cx="417.34" cy="268.28" r="0.8"/><circle cx="418.7" cy="267.96" r="0.8"/></g>
<polyline points="366.5,278.3 373,277 375.8,273.7 382.3,270.9 384.2,269" fill="none" stroke="#c0c0c0" stroke-width="0.65" stroke-linejoin="round" stroke-linecap="round" />
<g fill="#c0c0c0"><circle cx="366.5" cy="278.39" r="0.8"/><circle cx="367.8" cy="278.21" r="0.8"/><circle cx="369.1" cy="277.81" r="0.8"/><circle cx="370.4" cy="277.41" r="0.8"/><circle cx="371.7" cy="277.14" r="0.8"/><circle cx="373" cy="277.02" r="0.8"/><circle cx="374.4" cy="275.17" r="0.8"/><circle cx="375.8" cy="273.88" r="0.8"/><circle cx="377.1" cy="273.33" r="0.8"/><circle cx="378.4" cy="272.45" r="0.8"/><circle cx="379.7" cy="272.12" r="0.8"/><circle cx="381" cy="271.55" r="0.8"/><circle cx="382.3" cy="270.71" r="0.8"/><circle cx="384.2" cy="269.14" r="0.8"/></g>
<polyline points="327.5,302.19 328.55,301.78 329.61,301.55 330.66,301.59 331.71,301.84 332.77,301.54 333.82,301.7 334.87,301.16 335.93,301.03 336.98,301.11 338.03,301.4 339.09,300.81 340.14,300.66 341.19,301.05 342.25,300.5 343.3,300.82" fill="none" stroke="#29a3df" stroke-width="1.6" stroke-linejoin="round" stroke-linecap="round" />
<g fill="#29a3df"><circle cx="327.25" cy="301.77" r="0.88"/><circle cx="329.35" cy="302.2" r="0.88"/><circle cx="330.96" cy="301.67" r="0.88"/><circle cx="332.49" cy="301.42" r="0.88"/><circle cx="334.37" cy="301.68" r="0.88"/><circle cx="336.41" cy="301.54" r="0.88"/><circle cx="338.05" cy="301.31" r="0.88"/><circle cx="339.57" cy="300.88" r="0.88"/><circle cx="341.42" cy="300.65" r="0.88"/><circle cx="343.44" cy="300.44" r="0.88"/></g>
<polyline points="334,279.68 335,279.65 336,280.07 337,279.91 338,279.81 339,279.75 340,280.13 341,280.15 342,279.81 343,279.9 344,280.11 345,279.69 346,279.7 347,279.6 348,279.88 349,280.08 350,279.65 351,279.85 352.03,280.18 353.07,279.75 354.1,279.62 355.13,279.87 356.17,279.84 357.2,279.41 358.23,279.17 359.27,279.46 360.3,279.47 361.33,279.53 362.37,279.28 363.4,278.97 364.43,279.04 365.47,278.82 366.5,278.86" fill="none" stroke="#29a3df" stroke-width="1.6" stroke-linejoin="round" stroke-linecap="round" />
<g fill="#29a3df"><circle cx="333.98" cy="280.18" r="0.88"/><circle cx="335.94" cy="280.2" r="0.88"/><circle cx="337.39" cy="280.24" r="0.88"/><circle cx="338.88" cy="280.21" r="0.88"/><circle cx="340.88" cy="280.18" r="0.88"/><circle cx="342.45" cy="280.3" r="0.88"/><circle cx="343.92" cy="280.18" r="0.88"/><circle cx="346.09" cy="279.76" r="0.88"/><circle cx="347.8" cy="279.62" r="0.88"/><circle cx="349.45" cy="279.86" r="0.88"/><circle cx="350.95" cy="279.62" r="0.88"/><circle cx="352.9" cy="280" r="0.88"/><circle cx="354.2" cy="280.11" r="0.88"/><circle cx="356" cy="279.45" r="0.88"/><circle cx="357.84" cy="279.53" r="0.88"/><circle cx="359.85" cy="279.75" r="0.88"/><circle cx="361.41" cy="279.11" r="0.88"/><circle cx="362.82" cy="278.73" r="0.88"/><circle cx="364.79" cy="279.09" r="0.88"/><circle cx="366.47" cy="279.34" r="0.88"/></g>
<polyline points="332.2,301.6 334,280.2" fill="none" stroke="#29a3df" stroke-width="0.75" stroke-linejoin="round" stroke-linecap="round" stroke-opacity="0.85"/>
<polyline points="343.7,300.7 343.7,279.8" fill="none" stroke="#29a3df" stroke-width="0.75" stroke-linejoin="round" stroke-linecap="round" stroke-opacity="0.85"/>
<line x1="338.3" y1="274.6" x2="338.3" y2="305.4" stroke="#29a3df" stroke-width="0.8" stroke-dasharray="1 1.4"/>
<line x1="333.6" y1="270.5" x2="333.6" y2="273.5" stroke="#e3242b" stroke-width="0.9" />
<path d="M333.6 276.5L332 273.5L335.2 273.5Z" fill="#e3242b"/>
<line x1="343.3" y1="308.4" x2="343.3" y2="305.4" stroke="#1f9e7e" stroke-width="0.9" />
<path d="M343.3 302.4L344.9 305.4L341.7 305.4Z" fill="#1f9e7e"/>
<polyline points="273.4,361.3 301.4,360.7 305.1,358.3 308.8,355.1 314.4,353.8" fill="none" stroke="#c0c0c0" stroke-width="0.65" stroke-linejoin="round" stroke-linecap="round" />
<g fill="#c0c0c0"><circle cx="273.4" cy="361.51" r="0.8"/><circle cx="274.73" cy="361.43" r="0.8"/><circle cx="276.07" cy="361.14" r="0.8"/><circle cx="277.4" cy="361" r="0.8"/><circle cx="278.73" cy="361.21" r="0.8"/><circle cx="280.07" cy="361.23" r="0.8"/><circle cx="281.4" cy="360.99" r="0.8"/><circle cx="282.73" cy="360.87" r="0.8"/><circle cx="284.07" cy="361.06" r="0.8"/><circle cx="285.4" cy="360.81" r="0.8"/><circle cx="286.73" cy="361.13" r="0.8"/><circle cx="288.07" cy="361.05" r="0.8"/><circle cx="289.4" cy="360.85" r="0.8"/><circle cx="290.73" cy="360.9" r="0.8"/><circle cx="292.07" cy="360.77" r="0.8"/><circle cx="293.4" cy="360.71" r="0.8"/><circle cx="294.73" cy="360.68" r="0.8"/><circle cx="296.07" cy="360.97" r="0.8"/><circle cx="297.4" cy="360.76" r="0.8"/><circle cx="298.73" cy="360.86" r="0.8"/><circle cx="300.07" cy="360.65" r="0.8"/><circle cx="301.4" cy="360.85" r="0.8"/><circle cx="303.25" cy="359.55" r="0.8"/><circle cx="305.1" cy="358.38" r="0.8"/><circle cx="306.95" cy="356.65" r="0.8"/><circle cx="308.8" cy="355.13" r="0.8"/><circle cx="310.2" cy="354.62" r="0.8"/><circle cx="311.6" cy="354.69" r="0.8"/><circle cx="313" cy="354.21" r="0.8"/><circle cx="314.4" cy="353.82" r="0.8"/></g>
<polyline points="305.1,360.7 332.2,359.8 332.2,353.2 335,350.4 344.3,349.5 351,349.1 357.1,349 372.1,347.8 372.6,325 382.3,324.4 386,323.1 389.8,319.4 393.5,317.5" fill="none" stroke="#c0c0c0" stroke-width="0.65" stroke-linejoin="round" stroke-linecap="round" />
<g fill="#c0c0c0"><circle cx="305.1" cy="360.59" r="0.8"/><circle cx="306.46" cy="360.85" r="0.8"/><circle cx="307.81" cy="360.83" r="0.8"/><circle cx="309.17" cy="360.46" r="0.8"/><circle cx="310.52" cy="360.64" r="0.8"/><circle cx="311.88" cy="360.57" r="0.8"/><circle cx="313.23" cy="360.46" r="0.8"/><circle cx="314.59" cy="360.26" r="0.8"/><circle cx="315.94" cy="360.56" r="0.8"/><circle cx="317.3" cy="360.52" r="0.8"/><circle cx="318.65" cy="360.01" r="0.8"/><circle cx="320" cy="360.12" r="0.8"/><circle cx="321.36" cy="360.07" r="0.8"/><circle cx="322.71" cy="359.96" r="0.8"/><circle cx="324.07" cy="360.04" r="0.8"/><circle cx="325.43" cy="360.22" r="0.8"/><circle cx="326.78" cy="359.74" r="0.8"/><circle cx="328.13" cy="360.1" r="0.8"/><circle cx="329.49" cy="359.79" r="0.8"/><circle cx="330.84" cy="359.6" r="0.8"/><circle cx="332.2" cy="360" r="0.8"/><circle cx="332.2" cy="353.09" r="0.8"/><circle cx="333.6" cy="351.66" r="0.8"/><circle cx="335" cy="350.21" r="0.8"/><circle cx="336.33" cy="350.21" r="0.8"/><circle cx="337.66" cy="349.95" r="0.8"/><circle cx="338.99" cy="349.85" r="0.8"/><circle cx="340.31" cy="349.76" r="0.8"/><circle cx="341.64" cy="349.8" r="0.8"/><circle cx="342.97" cy="349.6" r="0.8"/><circle cx="344.3" cy="349.4" r="0.8"/><circle cx="345.64" cy="349.43" r="0.8"/><circle cx="346.98" cy="349.48" r="0.8"/><circle cx="348.32" cy="349.37" r="0.8"/><circle cx="349.66" cy="349.1" r="0.8"/><circle cx="351" cy="349.31" r="0.8"/><circle cx="352.52" cy="349.22" r="0.8"/><circle cx="354.05" cy="349.08" r="0.8"/><circle cx="355.58" cy="349.01" r="0.8"/><circle cx="357.1" cy="348.91" r="0.8"/><circle cx="358.46" cy="348.71" r="0.8"/><circle cx="359.83" cy="348.97" r="0.8"/><circle cx="361.19" cy="348.73" r="0.8"/><circle cx="362.55" cy="348.36" r="0.8"/><circle cx="363.92" cy="348.67" r="0.8"/><circle cx="365.28" cy="348.54" r="0.8"/><circle cx="366.65" cy="348" r="0.8"/><circle cx="368.01" cy="348.23" r="0.8"/><circle cx="369.37" cy="347.89" r="0.8"/><circle cx="370.74" cy="347.93" r="0.8"/><circle cx="372.1" cy="347.97" r="0.8"/><circle cx="372.6" cy="324.93" r="0.8"/><circle cx="373.99" cy="324.91" r="0.8"/><circle cx="375.37" cy="324.91" r="0.8"/><circle cx="376.76" cy="324.59" r="0.8"/><circle cx="378.14" cy="324.72" r="0.8"/><circle cx="379.53" cy="324.53" r="0.8"/><circle cx="380.91" cy="324.73" r="0.8"/><circle cx="382.3" cy="324.24" r="0.8"/><circle cx="384.15" cy="323.86" r="0.8"/><circle cx="386" cy="322.87" r="0.8"/><circle cx="387.9" cy="321.14" r="0.8"/><circle cx="389.8" cy="319.21" r="0.8"/><circle cx="391.65" cy="318.27" r="0.8"/><circle cx="393.5" cy="317.51" r="0.8"/></g>
<polyline points="359,326.8 362.7,324 364.6,318.4 382.3,317.9 401,316.9 419.6,316.2" fill="none" stroke="#c0c0c0" stroke-width="0.65" stroke-linejoin="round" stroke-linecap="round" />
<g fill="#c0c0c0"><circle cx="359" cy="326.89" r="0.8"/><circle cx="360.85" cy="325.36" r="0.8"/><circle cx="362.7" cy="324.24" r="0.8"/><circle cx="364.6" cy="318.62" r="0.8"/><circle cx="365.96" cy="318.59" r="0.8"/><circle cx="367.32" cy="318.11" r="0.8"/><circle cx="368.68" cy="318.39" r="0.8"/><circle cx="370.05" cy="318.36" r="0.8"/><circle cx="371.41" cy="318.26" r="0.8"/><circle cx="372.77" cy="317.93" r="0.8"/><circle cx="374.13" cy="318.34" r="0.8"/><circle cx="375.49" cy="318.06" r="0.8"/><circle cx="376.85" cy="318.1" r="0.8"/><circle cx="378.22" cy="318.17" r="0.8"/><circle cx="379.58" cy="317.86" r="0.8"/><circle cx="380.94" cy="317.7" r="0.8"/><circle cx="382.3" cy="318.11" r="0.8"/><circle cx="383.64" cy="317.71" r="0.8"/><circle cx="384.97" cy="317.53" r="0.8"/><circle cx="386.31" cy="317.5" r="0.8"/><circle cx="387.64" cy="317.86" r="0.8"/><circle cx="388.98" cy="317.66" r="0.8"/><circle cx="390.31" cy="317.33" r="0.8"/><circle cx="391.65" cy="317.22" r="0.8"/><circle cx="392.99" cy="317.53" r="0.8"/><circle cx="394.32" cy="317.34" r="0.8"/><circle cx="395.66" cy="317.23" r="0.8"/><circle cx="396.99" cy="316.93" r="0.8"/><circle cx="398.33" cy="317" r="0.8"/><circle cx="399.66" cy="317.19" r="0.8"/><circle cx="401" cy="316.65" r="0.8"/><circle cx="402.33" cy="316.81" r="0.8"/><circle cx="403.66" cy="316.58" r="0.8"/><circle cx="404.99" cy="317" r="0.8"/><circle cx="406.31" cy="316.5" r="0.8"/><circle cx="407.64" cy="316.88" r="0.8"/><circle cx="408.97" cy="316.77" r="0.8"/><circle cx="410.3" cy="316.67" r="0.8"/><circle cx="411.63" cy="316.27" r="0.8"/><circle cx="412.96" cy="316.55" r="0.8"/><circle cx="414.29" cy="316.4" r="0.8"/><circle cx="415.61" cy="316.35" r="0.8"/><circle cx="416.94" cy="316.12" r="0.8"/><circle cx="418.27" cy="316.26" r="0.8"/><circle cx="419.6" cy="316.35" r="0.8"/></g>
<polyline points="314.4,353.94 315.42,354.42 316.43,354.06 317.45,353.91 318.47,353.85 319.48,353.96 320.5,354.05 321.52,353.96 322.53,354.14 323.55,353.83 324.57,353.79 325.58,354.08 326.6,353.5 327.62,353.32 328.63,353.5 329.65,353.44 330.67,353.27 331.68,353.43 332.7,353.12 333.72,353.7 334.73,353.36 335.75,353.59 336.77,353.42 337.78,353.4 338.8,353.38 339.82,353.02 340.83,353.28 341.85,352.87 342.87,353.07 343.88,353.06 344.9,353.14 345.92,352.68 346.93,352.76 347.95,353.05 348.97,353 349.98,353.08 351,352.43 352.02,352.4 353.03,352.22 354.05,352.56 355.07,352.47 356.08,352.3 357.1,352.3" fill="none" stroke="#29a3df" stroke-width="1.6" stroke-linejoin="round" stroke-linecap="round" />
<g fill="#29a3df"><circle cx="314.41" cy="354.26" r="0.88"/><circle cx="316.4" cy="354.26" r="0.88"/><circle cx="317.98" cy="354.14" r="0.88"/><circle cx="319.62" cy="354.22" r="0.88"/><circle cx="321.41" cy="353.58" r="0.88"/><circle cx="323.07" cy="353.77" r="0.88"/><circle cx="324.82" cy="353.83" r="0.88"/><circle cx="326.52" cy="353.6" r="0.88"/><circle cx="328.3" cy="353.51" r="0.88"/><circle cx="330.37" cy="353.18" r="0.88"/><circle cx="331.54" cy="353.69" r="0.88"/><circle cx="333.51" cy="353.37" r="0.88"/><circle cx="335.37" cy="353.22" r="0.88"/><circle cx="336.9" cy="352.83" r="0.88"/><circle cx="339.02" cy="353.6" r="0.88"/><circle cx="340.41" cy="353.1" r="0.88"/><circle cx="342.18" cy="352.66" r="0.88"/><circle cx="344.26" cy="353.29" r="0.88"/><circle cx="345.62" cy="352.69" r="0.88"/><circle cx="347.63" cy="353.11" r="0.88"/><circle cx="349.24" cy="352.67" r="0.88"/><circle cx="350.84" cy="352.97" r="0.88"/><circle cx="353.25" cy="352.83" r="0.88"/><circle cx="354.84" cy="352.39" r="0.88"/><circle cx="357.39" cy="352.3" r="0.88"/></g>
<polyline points="322.5,329.57 323.52,329.33 324.54,329.25 325.55,329.7 326.57,329.21 327.59,329.71 328.61,329.59 329.62,329.43 330.64,329.7 331.66,329.71 332.68,329.47 333.7,329.08 334.71,329.4 335.73,329.27 336.75,329.12 337.77,329.58 338.79,329.42 339.8,328.97 340.82,329.02 341.84,329.08 342.86,329.22 343.88,329.03 344.89,329.09 345.91,329.33 346.93,328.86 347.95,329.22 348.96,328.92 349.98,329.33 351,329.32 352.02,328.85 353.04,329.02 354.05,328.65 355.07,328.84 356.09,328.96 357.11,328.95 358.12,328.71 359.14,328.47 360.16,328.51 361.18,328.79 362.2,328.49 363.21,328.56 364.23,328.76 365.25,328.93 366.27,328.64 367.29,328.43 368.3,328.64 369.32,328.39 370.34,328.72 371.36,328.26 372.38,328.31 373.39,328.41 374.41,328.71 375.43,328.17 376.45,328.16 377.46,328.09 378.48,328.12 379.5,328.18" fill="none" stroke="#29a3df" stroke-width="1.6" stroke-linejoin="round" stroke-linecap="round" />
<g fill="#29a3df"><circle cx="322.44" cy="329.84" r="0.88"/><circle cx="324.22" cy="329.54" r="0.88"/><circle cx="326" cy="329.77" r="0.88"/><circle cx="328.09" cy="329.42" r="0.88"/><circle cx="329.88" cy="329.22" r="0.88"/><circle cx="331.69" cy="329.44" r="0.88"/><circle cx="333.3" cy="329.27" r="0.88"/><circle cx="334.83" cy="329.01" r="0.88"/><circle cx="336.98" cy="329.17" r="0.88"/><circle cx="338.65" cy="329.23" r="0.88"/><circle cx="340.33" cy="328.96" r="0.88"/><circle cx="341.9" cy="329.04" r="0.88"/><circle cx="343.98" cy="329.19" r="0.88"/><circle cx="345.36" cy="329.3" r="0.88"/><circle cx="347.4" cy="328.68" r="0.88"/><circle cx="349.07" cy="328.78" r="0.88"/><circle cx="351.19" cy="329.05" r="0.88"/><circle cx="352.68" cy="328.73" r="0.88"/><circle cx="354.44" cy="328.71" r="0.88"/><circle cx="356.25" cy="329.13" r="0.88"/><circle cx="358.3" cy="329.01" r="0.88"/><circle cx="360.14" cy="328.92" r="0.88"/><circle cx="361.46" cy="328.32" r="0.88"/><circle cx="363.27" cy="328.47" r="0.88"/><circle cx="365.27" cy="328.94" r="0.88"/><circle cx="367.08" cy="328.54" r="0.88"/><circle cx="368.66" cy="329" r="0.88"/><circle cx="370.75" cy="328.37" r="0.88"/><circle cx="372.1" cy="328.91" r="0.88"/><circle cx="374.01" cy="328.75" r="0.88"/><circle cx="375.71" cy="328.53" r="0.88"/><circle cx="377.63" cy="328.7" r="0.88"/><circle cx="379.38" cy="327.94" r="0.88"/></g>
<polyline points="321.5,353.2 322.5,329.6" fill="none" stroke="#29a3df" stroke-width="0.75" stroke-linejoin="round" stroke-linecap="round" stroke-opacity="0.85"/>
<polyline points="356.8,352.2 359.2,328.5" fill="none" stroke="#29a3df" stroke-width="0.75" stroke-linejoin="round" stroke-linecap="round" stroke-opacity="0.85"/>
<line x1="341.5" y1="326.2" x2="341.5" y2="356" stroke="#29a3df" stroke-width="0.8" stroke-dasharray="1 1.4"/>
<line x1="322.5" y1="321.1" x2="322.5" y2="324.1" stroke="#e3242b" stroke-width="0.9" />
<path d="M322.5 327.1L320.9 324.1L324.1 324.1Z" fill="#e3242b"/>
<line x1="356.6" y1="360.3" x2="356.6" y2="357.4" stroke="#1f9e7e" stroke-width="0.9" />
<path d="M356.6 354.4L358.2 357.4L355 357.4Z" fill="#1f9e7e"/>
<polyline points="251.5,415.7 281.7,414.9 291,412.6 297.1,409.1 300.2,408" fill="none" stroke="#c0c0c0" stroke-width="0.65" stroke-linejoin="round" stroke-linecap="round" />
<g fill="#c0c0c0"><circle cx="251.5" cy="415.84" r="0.8"/><circle cx="252.81" cy="415.48" r="0.8"/><circle cx="254.13" cy="415.53" r="0.8"/><circle cx="255.44" cy="415.77" r="0.8"/><circle cx="256.75" cy="415.66" r="0.8"/><circle cx="258.07" cy="415.33" r="0.8"/><circle cx="259.38" cy="415.58" r="0.8"/><circle cx="260.69" cy="415.6" r="0.8"/><circle cx="262" cy="415.38" r="0.8"/><circle cx="263.32" cy="415.21" r="0.8"/><circle cx="264.63" cy="415.43" r="0.8"/><circle cx="265.94" cy="415.23" r="0.8"/><circle cx="267.26" cy="415.1" r="0.8"/><circle cx="268.57" cy="415.08" r="0.8"/><circle cx="269.88" cy="415.16" r="0.8"/><circle cx="271.2" cy="414.99" r="0.8"/><circle cx="272.51" cy="415.09" r="0.8"/><circle cx="273.82" cy="415.13" r="0.8"/><circle cx="275.13" cy="415.1" r="0.8"/><circle cx="276.45" cy="414.99" r="0.8"/><circle cx="277.76" cy="415.15" r="0.8"/><circle cx="279.07" cy="414.76" r="0.8"/><circle cx="280.39" cy="414.85" r="0.8"/><circle cx="281.7" cy="415.12" r="0.8"/><circle cx="283.03" cy="414.75" r="0.8"/><circle cx="284.36" cy="414.45" r="0.8"/><circle cx="285.69" cy="414.05" r="0.8"/><circle cx="287.01" cy="413.6" r="0.8"/><circle cx="288.34" cy="413.4" r="0.8"/><circle cx="289.67" cy="412.96" r="0.8"/><circle cx="291" cy="412.41" r="0.8"/><circle cx="292.52" cy="411.6" r="0.8"/><circle cx="294.05" cy="410.65" r="0.8"/><circle cx="295.58" cy="410.16" r="0.8"/><circle cx="297.1" cy="409.01" r="0.8"/><circle cx="298.65" cy="408.5" r="0.8"/><circle cx="300.2" cy="408.02" r="0.8"/></g>
<polyline points="291,414.6 312.4,414.1 344.7,413.4 346.2,411.1 347.8,408 351,407.2 363.7,403.1 374.9,401.6 388.8,401.6 390.7,386.6 391.6,380.1 395.4,377.3 399.1,374.5 402.8,371.7 406.6,371.3 419.6,369.9 442,369.9" fill="none" stroke="#c0c0c0" stroke-width="0.65" stroke-linejoin="round" stroke-linecap="round" />
<g fill="#c0c0c0"><circle cx="291" cy="414.76" r="0.8"/><circle cx="292.34" cy="414.36" r="0.8"/><circle cx="293.68" cy="414.35" r="0.8"/><circle cx="295.01" cy="414.43" r="0.8"/><circle cx="296.35" cy="414.29" r="0.8"/><circle cx="297.69" cy="414.41" r="0.8"/><circle cx="299.02" cy="414.66" r="0.8"/><circle cx="300.36" cy="414.55" r="0.8"/><circle cx="301.7" cy="414.58" r="0.8"/><circle cx="303.04" cy="414.18" r="0.8"/><circle cx="304.38" cy="414.15" r="0.8"/><circle cx="305.71" cy="414.02" r="0.8"/><circle cx="307.05" cy="414.11" r="0.8"/><circle cx="308.39" cy="413.97" r="0.8"/><circle cx="309.72" cy="414.18" r="0.8"/><circle cx="311.06" cy="414.03" r="0.8"/><circle cx="312.4" cy="414.19" r="0.8"/><circle cx="313.75" cy="414.1" r="0.8"/><circle cx="315.09" cy="414.09" r="0.8"/><circle cx="316.44" cy="413.91" r="0.8"/><circle cx="317.78" cy="414.1" r="0.8"/><circle cx="319.13" cy="414.05" r="0.8"/><circle cx="320.47" cy="414.03" r="0.8"/><circle cx="321.82" cy="413.88" r="0.8"/><circle cx="323.17" cy="413.85" r="0.8"/><circle cx="324.51" cy="413.73" r="0.8"/><circle cx="325.86" cy="413.58" r="0.8"/><circle cx="327.2" cy="413.76" r="0.8"/><circle cx="328.55" cy="413.81" r="0.8"/><circle cx="329.9" cy="413.56" r="0.8"/><circle cx="331.24" cy="413.87" r="0.8"/><circle cx="332.59" cy="413.85" r="0.8"/><circle cx="333.93" cy="413.81" r="0.8"/><circle cx="335.28" cy="413.76" r="0.8"/><circle cx="336.62" cy="413.57" r="0.8"/><circle cx="337.97" cy="413.38" r="0.8"/><circle cx="339.32" cy="413.4" r="0.8"/><circle cx="340.66" cy="413.61" r="0.8"/><circle cx="342.01" cy="413.7" r="0.8"/><circle cx="343.35" cy="413.23" r="0.8"/><circle cx="344.7" cy="413.15" r="0.8"/><circle cx="346.2" cy="411.03" r="0.8"/><circle cx="347.8" cy="407.92" r="0.8"/><circle cx="349.4" cy="407.65" r="0.8"/><circle cx="351" cy="407.01" r="0.8"/><circle cx="352.41" cy="406.92" r="0.8"/><circle cx="353.82" cy="406.21" r="0.8"/><circle cx="355.23" cy="406.04" r="0.8"/><circle cx="356.64" cy="405.29" r="0.8"/><circle cx="358.06" cy="404.82" r="0.8"/><circle cx="359.47" cy="404.3" r="0.8"/><circle cx="360.88" cy="404.24" r="0.8"/><circle cx="362.29" cy="403.6" r="0.8"/><circle cx="363.7" cy="403.26" r="0.8"/><circle cx="365.1" cy="402.69" r="0.8"/><circle cx="366.5" cy="402.75" r="0.8"/><circle cx="367.9" cy="402.65" r="0.8"/><circle cx="369.3" cy="402.59" r="0.8"/><circle cx="370.7" cy="402.38" r="0.8"/><circle cx="372.1" cy="401.78" r="0.8"/><circle cx="373.5" cy="401.72" r="0.8"/><circle cx="374.9" cy="401.85" r="0.8"/><circle cx="376.29" cy="401.62" r="0.8"/><circle cx="377.68" cy="401.83" r="0.8"/><circle cx="379.07" cy="401.48" r="0.8"/><circle cx="380.46" cy="401.36" r="0.8"/><circle cx="381.85" cy="401.82" r="0.8"/><circle cx="383.24" cy="401.48" r="0.8"/><circle cx="384.63" cy="401.63" r="0.8"/><circle cx="386.02" cy="401.53" r="0.8"/><circle cx="387.41" cy="401.64" r="0.8"/><circle cx="388.8" cy="401.82" r="0.8"/><circle cx="390.7" cy="386.82" r="0.8"/><circle cx="391.6" cy="380.29" r="0.8"/><circle cx="393.5" cy="378.58" r="0.8"/><circle cx="395.4" cy="377.46" r="0.8"/><circle cx="397.25" cy="375.66" r="0.8"/><circle cx="399.1" cy="374.46" r="0.8"/><circle cx="400.95" cy="373.32" r="0.8"/><circle cx="402.8" cy="371.58" r="0.8"/><circle cx="404.7" cy="371.43" r="0.8"/><circle cx="406.6" cy="371.34" r="0.8"/><circle cx="407.9" cy="371.03" r="0.8"/><circle cx="409.2" cy="371.12" r="0.8"/><circle cx="410.5" cy="370.96" r="0.8"/><circle cx="411.8" cy="370.54" r="0.8"/><circle cx="413.1" cy="370.81" r="0.8"/><circle cx="414.4" cy="370.25" r="0.8"/><circle cx="415.7" cy="370.42" r="0.8"/><circle cx="417" cy="370.1" r="0.8"/><circle cx="418.3" cy="369.86" r="0.8"/><circle cx="419.6" cy="369.69" r="0.8"/><circle cx="420.92" cy="370.15" r="0.8"/><circle cx="422.24" cy="370.05" r="0.8"/><circle cx="423.55" cy="369.88" r="0.8"/><circle cx="424.87" cy="370.05" r="0.8"/><circle cx="426.19" cy="370.13" r="0.8"/><circle cx="427.51" cy="370.11" r="0.8"/><circle cx="428.82" cy="369.92" r="0.8"/><circle cx="430.14" cy="369.79" r="0.8"/><circle cx="431.46" cy="369.91" r="0.8"/><circle cx="432.78" cy="370.14" r="0.8"/><circle cx="434.09" cy="370.02" r="0.8"/><circle cx="435.41" cy="369.98" r="0.8"/><circle cx="436.73" cy="370.07" r="0.8"/><circle cx="438.05" cy="369.85" r="0.8"/><circle cx="439.36" cy="369.93" r="0.8"/><circle cx="440.68" cy="370.07" r="0.8"/><circle cx="442" cy="369.75" r="0.8"/></g>
<polyline points="340.1,381.1 346.2,378 348.5,372.7 351,371.9 363.7,371.3 382.3,371.3 401,370.2 419.6,369.9 442,369.9" fill="none" stroke="#c0c0c0" stroke-width="0.65" stroke-linejoin="round" stroke-linecap="round" />
<g fill="#c0c0c0"><circle cx="340.1" cy="381.32" r="0.8"/><circle cx="341.62" cy="380.29" r="0.8"/><circle cx="343.15" cy="379.63" r="0.8"/><circle cx="344.68" cy="378.96" r="0.8"/><circle cx="346.2" cy="377.85" r="0.8"/><circle cx="348.5" cy="372.62" r="0.8"/><circle cx="351" cy="372.14" r="0.8"/><circle cx="352.41" cy="371.62" r="0.8"/><circle cx="353.82" cy="371.67" r="0.8"/><circle cx="355.23" cy="371.69" r="0.8"/><circle cx="356.64" cy="371.76" r="0.8"/><circle cx="358.06" cy="371.63" r="0.8"/><circle cx="359.47" cy="371.71" r="0.8"/><circle cx="360.88" cy="371.52" r="0.8"/><circle cx="362.29" cy="371.12" r="0.8"/><circle cx="363.7" cy="371.09" r="0.8"/><circle cx="365.03" cy="371.07" r="0.8"/><circle cx="366.36" cy="371.27" r="0.8"/><circle cx="367.69" cy="371.06" r="0.8"/><circle cx="369.01" cy="371.31" r="0.8"/><circle cx="370.34" cy="371.37" r="0.8"/><circle cx="371.67" cy="371.15" r="0.8"/><circle cx="373" cy="371.48" r="0.8"/><circle cx="374.33" cy="371.26" r="0.8"/><circle cx="375.66" cy="371.53" r="0.8"/><circle cx="376.99" cy="371.23" r="0.8"/><circle cx="378.31" cy="371.36" r="0.8"/><circle cx="379.64" cy="371.32" r="0.8"/><circle cx="380.97" cy="371.18" r="0.8"/><circle cx="382.3" cy="371.44" r="0.8"/><circle cx="383.64" cy="370.97" r="0.8"/><circle cx="384.97" cy="371.02" r="0.8"/><circle cx="386.31" cy="370.97" r="0.8"/><circle cx="387.64" cy="371.18" r="0.8"/><circle cx="388.98" cy="370.91" r="0.8"/><circle cx="390.31" cy="370.6" r="0.8"/><circle cx="391.65" cy="370.65" r="0.8"/><circle cx="392.99" cy="370.73" r="0.8"/><circle cx="394.32" cy="370.75" r="0.8"/><circle cx="395.66" cy="370.32" r="0.8"/><circle cx="396.99" cy="370.58" r="0.8"/><circle cx="398.33" cy="370.3" r="0.8"/><circle cx="399.66" cy="370.29" r="0.8"/><circle cx="401" cy="370.16" r="0.8"/><circle cx="402.33" cy="370.15" r="0.8"/><circle cx="403.66" cy="370.4" r="0.8"/><circle cx="404.99" cy="370.35" r="0.8"/><circle cx="406.31" cy="370.32" r="0.8"/><circle cx="407.64" cy="370.21" r="0.8"/><circle cx="408.97" cy="370.17" r="0.8"/><circle cx="410.3" cy="369.87" r="0.8"/><circle cx="411.63" cy="369.8" r="0.8"/><circle cx="412.96" cy="370.17" r="0.8"/><circle cx="414.29" cy="370.07" r="0.8"/><circle cx="415.61" cy="370.03" r="0.8"/><circle cx="416.94" cy="369.85" r="0.8"/><circle cx="418.27" cy="369.8" r="0.8"/><circle cx="419.6" cy="370.11" r="0.8"/><circle cx="420.92" cy="369.92" r="0.8"/><circle cx="422.24" cy="369.66" r="0.8"/><circle cx="423.55" cy="369.82" r="0.8"/><circle cx="424.87" cy="369.82" r="0.8"/><circle cx="426.19" cy="369.68" r="0.8"/><circle cx="427.51" cy="370.14" r="0.8"/><circle cx="428.82" cy="370.1" r="0.8"/><circle cx="430.14" cy="370.06" r="0.8"/><circle cx="431.46" cy="369.65" r="0.8"/><circle cx="432.78" cy="369.86" r="0.8"/><circle cx="434.09" cy="369.71" r="0.8"/><circle cx="435.41" cy="370.01" r="0.8"/><circle cx="436.73" cy="370.05" r="0.8"/><circle cx="438.05" cy="370.04" r="0.8"/><circle cx="439.36" cy="370.05" r="0.8"/><circle cx="440.68" cy="369.71" r="0.8"/><circle cx="442" cy="369.66" r="0.8"/></g>
<polyline points="300.2,408.81 301.22,409.32 302.23,409.29 303.25,409.05 304.26,408.83 305.28,409.24 306.3,408.7 307.31,408.82 308.33,408.58 309.34,409.24 310.36,408.82 311.38,409.05 312.39,409.05 313.41,408.87 314.42,409.13 315.44,408.96 316.46,409.05 317.47,409.05 318.49,408.41 319.5,408.86 320.52,408.47 321.54,408.52 322.55,408.51 323.57,408.94 324.58,408.26 325.6,408.5 326.62,408.27 327.63,408.85 328.65,408.48 329.66,408.6 330.68,408.45 331.7,408.61 332.71,408.28 333.73,408.31 334.74,408.52 335.76,408.47 336.78,408.58 337.79,408.15 338.81,408.51 339.82,408.41 340.84,408.27 341.86,408.13 342.87,408.22 343.89,407.86 344.9,407.85 345.92,407.98 346.94,407.82 347.95,407.75 348.97,408.2 349.98,408.18 351,408.08 352.06,407.64 353.12,407.86 354.18,407.78 355.23,407.48 356.29,407.06 357.35,407.15 358.41,406.88 359.47,406.64 360.52,406.4 361.58,406.76 362.64,406.44 363.7,406.5 364.72,405.88 365.74,405.85 366.76,405.94 367.78,405.53 368.8,405.61 369.82,405.69 370.84,405.56 371.86,405.77 372.88,405.44 373.9,405.4" fill="none" stroke="#29a3df" stroke-width="1.52" stroke-linejoin="round" stroke-linecap="round" />
<g fill="#29a3df"><circle cx="300.25" cy="409.36" r="0.84"/><circle cx="301.87" cy="408.61" r="0.84"/><circle cx="303.99" cy="409.29" r="0.84"/><circle cx="305.23" cy="408.63" r="0.84"/><circle cx="307.04" cy="409.09" r="0.84"/><circle cx="308.74" cy="408.47" r="0.84"/><circle cx="310.71" cy="408.42" r="0.84"/><circle cx="312.32" cy="408.73" r="0.84"/><circle cx="314.04" cy="408.34" r="0.84"/><circle cx="315.82" cy="408.53" r="0.84"/><circle cx="317.61" cy="408.64" r="0.84"/><circle cx="319.38" cy="408.52" r="0.84"/><circle cx="320.93" cy="408.95" r="0.84"/><circle cx="323.12" cy="408.6" r="0.84"/><circle cx="324.43" cy="408.33" r="0.84"/><circle cx="326.72" cy="408.49" r="0.84"/><circle cx="328.05" cy="408.78" r="0.84"/><circle cx="330.21" cy="408.11" r="0.84"/><circle cx="331.73" cy="408.47" r="0.84"/><circle cx="333.25" cy="408.21" r="0.84"/><circle cx="335.31" cy="408.5" r="0.84"/><circle cx="337.06" cy="408.41" r="0.84"/><circle cx="338.66" cy="407.87" r="0.84"/><circle cx="340.2" cy="408.53" r="0.84"/><circle cx="342.46" cy="408.56" r="0.84"/><circle cx="343.74" cy="408.4" r="0.84"/><circle cx="345.55" cy="407.97" r="0.84"/><circle cx="347.32" cy="408.4" r="0.84"/><circle cx="349.44" cy="408.34" r="0.84"/><circle cx="350.93" cy="408.4" r="0.84"/><circle cx="352.67" cy="407.81" r="0.84"/><circle cx="354.73" cy="407.24" r="0.84"/><circle cx="356.37" cy="406.86" r="0.84"/><circle cx="358.44" cy="406.68" r="0.84"/><circle cx="359.85" cy="406.51" r="0.84"/><circle cx="361.97" cy="406.58" r="0.84"/><circle cx="363.71" cy="406.52" r="0.84"/><circle cx="365.89" cy="405.76" r="0.84"/><circle cx="367.8" cy="405.54" r="0.84"/><circle cx="369.67" cy="405.34" r="0.84"/><circle cx="371.61" cy="405.34" r="0.84"/><circle cx="374.13" cy="405.44" r="0.84"/></g>
<polyline points="306.3,383.11 307.32,383.17 308.35,383.39 309.37,383.31 310.4,382.92 311.42,382.93 312.44,383.22 313.47,383.2 314.49,382.8 315.51,383.25 316.54,382.84 317.56,383.04 318.59,382.96 319.61,382.79 320.63,383.18 321.66,382.76 322.68,382.74 323.7,382.78 324.73,382.95 325.75,383.02 326.78,382.83 327.8,382.63 328.81,382.72 329.82,382.64 330.83,382.83 331.83,382.81 332.84,382.63 333.85,382.22 334.86,382.43 335.87,382.31 336.88,382.14 337.89,382.49 338.9,382.07 339.9,382.38 340.91,382.2 341.92,382.12 342.93,382.29 343.94,382.27 344.95,382.43 345.96,382.4 346.97,382.23 347.97,381.83 348.98,382.08 349.99,381.93 351,382.21 352.06,381.76 353.12,381.6 354.18,381.27 355.23,381.48 356.29,381.42 357.35,381.17 358.41,380.92 359.47,381.09 360.52,380.7 361.58,380.67 362.64,380.76 363.7,380.59 364.73,380.67 365.77,380.65 366.8,380.52 367.83,380.31 368.87,380.2 369.9,380.54 370.93,380.8 371.97,380.28 373,380.3 374.03,380.24 375.07,380.5 376.1,380.3 377.13,380.47 378.17,379.89 379.2,379.94 380.23,379.96 381.27,380.04 382.3,380.03 383.3,379.98 384.3,380.35 385.3,379.95 386.3,380.01 387.3,380.25 388.3,379.99 389.3,379.92 390.3,380.04 391.3,379.66 392.3,379.42 393.3,380.03 394.3,379.7 395.3,379.69 396.3,379.3" fill="none" stroke="#29a3df" stroke-width="1.52" stroke-linejoin="round" stroke-linecap="round" />
<g fill="#29a3df"><circle cx="306.45" cy="383.29" r="0.84"/><circle cx="308.18" cy="383.14" r="0.84"/><circle cx="310.13" cy="383.15" r="0.84"/><circle cx="311.54" cy="383.56" r="0.84"/><circle cx="313.3" cy="382.92" r="0.84"/><circle cx="315.25" cy="383.5" r="0.84"/><circle cx="316.82" cy="382.74" r="0.84"/><circle cx="319.02" cy="382.55" r="0.84"/><circle cx="320.58" cy="383.12" r="0.84"/><circle cx="322.55" cy="383.07" r="0.84"/><circle cx="323.99" cy="383.09" r="0.84"/><circle cx="325.92" cy="382.95" r="0.84"/><circle cx="327.78" cy="382.96" r="0.84"/><circle cx="329.57" cy="382.33" r="0.84"/><circle cx="331.16" cy="382.49" r="0.84"/><circle cx="332.88" cy="382.13" r="0.84"/><circle cx="335.16" cy="382.45" r="0.84"/><circle cx="336.94" cy="382.01" r="0.84"/><circle cx="338.5" cy="382.25" r="0.84"/><circle cx="340.06" cy="382.01" r="0.84"/><circle cx="342.33" cy="382.37" r="0.84"/><circle cx="343.87" cy="382.22" r="0.84"/><circle cx="345.86" cy="382.47" r="0.84"/><circle cx="347.49" cy="381.6" r="0.84"/><circle cx="349.44" cy="381.65" r="0.84"/><circle cx="350.84" cy="381.57" r="0.84"/><circle cx="352.82" cy="381.8" r="0.84"/><circle cx="354.6" cy="381.53" r="0.84"/><circle cx="356.23" cy="381.58" r="0.84"/><circle cx="358.28" cy="381.04" r="0.84"/><circle cx="360.27" cy="381.44" r="0.84"/><circle cx="362.14" cy="381.31" r="0.84"/><circle cx="363.44" cy="380.6" r="0.84"/><circle cx="365.53" cy="380.42" r="0.84"/><circle cx="367.57" cy="380.95" r="0.84"/><circle cx="369.06" cy="380.53" r="0.84"/><circle cx="371.42" cy="380.81" r="0.84"/><circle cx="372.97" cy="380.04" r="0.84"/><circle cx="374.83" cy="380.36" r="0.84"/><circle cx="376.89" cy="379.99" r="0.84"/><circle cx="378.45" cy="380.66" r="0.84"/><circle cx="380.15" cy="380.26" r="0.84"/><circle cx="382.06" cy="380.33" r="0.84"/><circle cx="384" cy="380.42" r="0.84"/><circle cx="385.63" cy="380.32" r="0.84"/><circle cx="387.39" cy="379.5" r="0.84"/><circle cx="389.05" cy="379.46" r="0.84"/><circle cx="390.98" cy="380.22" r="0.84"/><circle cx="392.71" cy="379.92" r="0.84"/><circle cx="394.27" cy="379.68" r="0.84"/><circle cx="396.32" cy="379.23" r="0.84"/></g>
<polyline points="304,406.5 306.3,383.4" fill="none" stroke="#29a3df" stroke-width="0.75" stroke-linejoin="round" stroke-linecap="round" stroke-opacity="0.85"/>
<polyline points="373.9,405.3 375.2,396.9 378.2,380.7" fill="none" stroke="#29a3df" stroke-width="0.75" stroke-linejoin="round" stroke-linecap="round" stroke-opacity="0.85"/>
<line x1="340.6" y1="371.9" x2="340.6" y2="414" stroke="#29a3df" stroke-width="0.8" stroke-dasharray="1 1.4"/>
<line x1="306.4" y1="374.7" x2="306.4" y2="377.7" stroke="#e3242b" stroke-width="0.9" />
<path d="M306.4 380.7L304.8 377.7L308 377.7Z" fill="#e3242b"/>
<line x1="374.3" y1="413.9" x2="374.3" y2="410.9" stroke="#1f9e7e" stroke-width="0.9" />
<path d="M374.3 407.9L375.9 410.9L372.7 410.9Z" fill="#1f9e7e"/>
<line x1="500" y1="188" x2="684.5" y2="188" stroke="#c8c8c8" stroke-width="1.4" />
<line x1="684.3" y1="188" x2="684.3" y2="426.5" stroke="#999" stroke-width="1" />
<line x1="500" y1="187.5" x2="500" y2="426.5" stroke="#a8a8a8" stroke-width="1.2" />
<line x1="499.5" y1="307.3" x2="684.5" y2="307.3" stroke="#777" stroke-width="1" />
<line x1="499.5" y1="426.5" x2="684.5" y2="426.5" stroke="#777" stroke-width="1" />
<line x1="497" y1="293.9" x2="500" y2="293.9" stroke="#777" stroke-width="0.9" />
<text x="493.4" y="297.4" font-size="10" text-anchor="end" fill="#1a1a1a" font-weight="normal" font-style="normal"  stroke="#1a1a1a" stroke-width="0.22">0</text>
<line x1="498.3" y1="280.7" x2="500" y2="280.7" stroke="#999" stroke-width="0.9" />
<line x1="497" y1="267.5" x2="500" y2="267.5" stroke="#777" stroke-width="0.9" />
<text x="493.4" y="271" font-size="10" text-anchor="end" fill="#1a1a1a" font-weight="normal" font-style="normal"  stroke="#1a1a1a" stroke-width="0.22">20</text>
<line x1="498.3" y1="254.3" x2="500" y2="254.3" stroke="#999" stroke-width="0.9" />
<line x1="497" y1="241.1" x2="500" y2="241.1" stroke="#777" stroke-width="0.9" />
<text x="493.4" y="244.6" font-size="10" text-anchor="end" fill="#1a1a1a" font-weight="normal" font-style="normal"  stroke="#1a1a1a" stroke-width="0.22">40</text>
<line x1="498.3" y1="227.9" x2="500" y2="227.9" stroke="#999" stroke-width="0.9" />
<line x1="497" y1="214.7" x2="500" y2="214.7" stroke="#777" stroke-width="0.9" />
<text x="493.4" y="218.2" font-size="10" text-anchor="end" fill="#1a1a1a" font-weight="normal" font-style="normal"  stroke="#1a1a1a" stroke-width="0.22">60</text>
<line x1="498.3" y1="201.5" x2="500" y2="201.5" stroke="#999" stroke-width="0.9" />
<line x1="497" y1="188.3" x2="500" y2="188.3" stroke="#777" stroke-width="0.9" />
<text x="493.4" y="191.8" font-size="10" text-anchor="end" fill="#1a1a1a" font-weight="normal" font-style="normal"  stroke="#1a1a1a" stroke-width="0.22">80</text>
<line x1="497" y1="413.2" x2="500" y2="413.2" stroke="#777" stroke-width="0.9" />
<text x="493.4" y="416.7" font-size="10" text-anchor="end" fill="#1a1a1a" font-weight="normal" font-style="normal"  stroke="#1a1a1a" stroke-width="0.22">-20</text>
<line x1="498.3" y1="400" x2="500" y2="400" stroke="#999" stroke-width="0.9" />
<line x1="497" y1="386.8" x2="500" y2="386.8" stroke="#777" stroke-width="0.9" />
<text x="493.4" y="390.3" font-size="10" text-anchor="end" fill="#1a1a1a" font-weight="normal" font-style="normal"  stroke="#1a1a1a" stroke-width="0.22">0</text>
<line x1="498.3" y1="373.6" x2="500" y2="373.6" stroke="#999" stroke-width="0.9" />
<line x1="497" y1="360.4" x2="500" y2="360.4" stroke="#777" stroke-width="0.9" />
<text x="493.4" y="363.9" font-size="10" text-anchor="end" fill="#1a1a1a" font-weight="normal" font-style="normal"  stroke="#1a1a1a" stroke-width="0.22">20</text>
<line x1="498.3" y1="347.2" x2="500" y2="347.2" stroke="#999" stroke-width="0.9" />
<line x1="497" y1="334" x2="500" y2="334" stroke="#777" stroke-width="0.9" />
<text x="493.4" y="337.5" font-size="10" text-anchor="end" fill="#1a1a1a" font-weight="normal" font-style="normal"  stroke="#1a1a1a" stroke-width="0.22">40</text>
<line x1="498.3" y1="320.8" x2="500" y2="320.8" stroke="#999" stroke-width="0.9" />
<line x1="497" y1="307.6" x2="500" y2="307.6" stroke="#777" stroke-width="0.9" />
<text x="493.4" y="310.8" font-size="10" text-anchor="end" fill="#1a1a1a" font-weight="normal" font-style="normal"  stroke="#1a1a1a" stroke-width="0.22">60</text>
<line x1="518.25" y1="307.3" x2="518.25" y2="309.8" stroke="#777" stroke-width="0.9" />
<line x1="518.25" y1="426.5" x2="518.25" y2="429" stroke="#777" stroke-width="0.9" />
<line x1="536.7" y1="307.3" x2="536.7" y2="308.8" stroke="#777" stroke-width="0.9" />
<line x1="536.7" y1="426.5" x2="536.7" y2="428" stroke="#777" stroke-width="0.9" />
<line x1="555.15" y1="307.3" x2="555.15" y2="309.8" stroke="#777" stroke-width="0.9" />
<line x1="555.15" y1="426.5" x2="555.15" y2="429" stroke="#777" stroke-width="0.9" />
<line x1="573.6" y1="307.3" x2="573.6" y2="308.8" stroke="#777" stroke-width="0.9" />
<line x1="573.6" y1="426.5" x2="573.6" y2="428" stroke="#777" stroke-width="0.9" />
<line x1="592.05" y1="307.3" x2="592.05" y2="309.8" stroke="#777" stroke-width="0.9" />
<line x1="592.05" y1="426.5" x2="592.05" y2="429" stroke="#777" stroke-width="0.9" />
<line x1="610.5" y1="307.3" x2="610.5" y2="308.8" stroke="#777" stroke-width="0.9" />
<line x1="610.5" y1="426.5" x2="610.5" y2="428" stroke="#777" stroke-width="0.9" />
<line x1="628.95" y1="307.3" x2="628.95" y2="309.8" stroke="#777" stroke-width="0.9" />
<line x1="628.95" y1="426.5" x2="628.95" y2="429" stroke="#777" stroke-width="0.9" />
<line x1="647.4" y1="307.3" x2="647.4" y2="308.8" stroke="#777" stroke-width="0.9" />
<line x1="647.4" y1="426.5" x2="647.4" y2="428" stroke="#777" stroke-width="0.9" />
<line x1="665.85" y1="307.3" x2="665.85" y2="309.8" stroke="#777" stroke-width="0.9" />
<line x1="665.85" y1="426.5" x2="665.85" y2="429" stroke="#777" stroke-width="0.9" />
<text x="518.45" y="439.5" font-size="10" text-anchor="middle" fill="#1a1a1a" font-weight="normal" font-style="normal"  stroke="#1a1a1a" stroke-width="0.22">2</text>
<text x="555.35" y="439.5" font-size="10" text-anchor="middle" fill="#1a1a1a" font-weight="normal" font-style="normal"  stroke="#1a1a1a" stroke-width="0.22">4</text>
<text x="592.25" y="439.5" font-size="10" text-anchor="middle" fill="#1a1a1a" font-weight="normal" font-style="normal"  stroke="#1a1a1a" stroke-width="0.22">6</text>
<text x="629.15" y="439.5" font-size="10" text-anchor="middle" fill="#1a1a1a" font-weight="normal" font-style="normal"  stroke="#1a1a1a" stroke-width="0.22">8</text>
<text x="666.05" y="439.5" font-size="10" text-anchor="middle" fill="#1a1a1a" font-weight="normal" font-style="normal"  stroke="#1a1a1a" stroke-width="0.22">10</text>
<text x="596.5" y="453.4" font-size="11" fill="#1a1a1a" text-anchor="middle" stroke="#1a1a1a" stroke-width="0.22"><tspan font-style="italic">T</tspan> (K)</text>
<text x="452.9" y="194.3" font-size="11" text-anchor="start" fill="#000" font-weight="bold" font-style="normal"  stroke="#000" stroke-width="0.22">e</text>
<text x="450.9" y="319" font-size="11" text-anchor="start" fill="#000" font-weight="bold" font-style="normal"  stroke="#000" stroke-width="0.22">f</text>
<text transform="translate(464.4 248.4) rotate(-90)" font-size="11.1" fill="#1a1a1a" text-anchor="middle" stroke="#1a1a1a" stroke-width="0.22"><tspan font-style="italic">&#956;</tspan><tspan font-size="7.5" dy="3">0</tspan><tspan font-style="italic" dy="-3">H</tspan><tspan font-size="7.5" dy="3">c</tspan><tspan dy="-3"> (mT)</tspan></text>
<text transform="translate(464.4 367.3) rotate(-90)" font-size="11.1" fill="#1a1a1a" text-anchor="middle" stroke="#1a1a1a" stroke-width="0.22"><tspan font-style="italic">&#956;</tspan><tspan font-size="7.5" dy="3">0</tspan><tspan font-style="italic" dy="-3">H</tspan><tspan font-size="7.5" dy="3">E</tspan><tspan dy="-3"> (mT)</tspan></text>
<text x="632" y="202.4" font-size="11" fill="#4a5897" text-anchor="start"  stroke="#4a5897" stroke-width="0.22"><tspan>MnBi</tspan><tspan font-size="7" dy="3.7">4</tspan><tspan dy="-3.7">Te</tspan><tspan font-size="7" dy="3.7">7</tspan></text>
<text x="632" y="220.8" font-size="11" fill="#27aa89" text-anchor="start"  stroke="#27aa89" stroke-width="0.22"><tspan>MnBi</tspan><tspan font-size="7" dy="3.7">6</tspan><tspan dy="-3.7">Te</tspan><tspan font-size="7" dy="3.7">10</tspan></text>
<line x1="500.5" y1="386.8" x2="684" y2="386.8" stroke="#cfcfcf" stroke-width="0.9" stroke-dasharray="3.5 3"/>
<polyline points="518.25,210.2 555.15,251.1 592.05,275.3 628.95,289.2 665.85,252.9" fill="none" stroke="#4a5897" stroke-width="0.75" stroke-linejoin="round" stroke-linecap="round" stroke-dasharray="0.8 1.8" stroke-linecap="butt" stroke-opacity="0.85"/>
<rect x="514.25" y="206.4" width="8" height="7.6" fill="#fff" fill-opacity="0" stroke="#4a5897" stroke-width="0.8"/>
<line x1="518.25" y1="207.8" x2="518.25" y2="212.6" stroke="#4a5897" stroke-width="0.4" stroke-opacity="0.7"/>
<line x1="517.05" y1="207.8" x2="519.45" y2="207.8" stroke="#4a5897" stroke-width="0.7" />
<line x1="517.05" y1="212.6" x2="519.45" y2="212.6" stroke="#4a5897" stroke-width="0.7" />
<rect x="551.15" y="247.3" width="8" height="7.6" fill="#fff" fill-opacity="0" stroke="#4a5897" stroke-width="0.8"/>
<line x1="555.15" y1="248.7" x2="555.15" y2="253.5" stroke="#4a5897" stroke-width="0.4" stroke-opacity="0.7"/>
<line x1="553.95" y1="248.7" x2="556.35" y2="248.7" stroke="#4a5897" stroke-width="0.7" />
<line x1="553.95" y1="253.5" x2="556.35" y2="253.5" stroke="#4a5897" stroke-width="0.7" />
<rect x="588.05" y="271.5" width="8" height="7.6" fill="#fff" fill-opacity="0" stroke="#4a5897" stroke-width="0.8"/>
<line x1="592.05" y1="272.9" x2="592.05" y2="277.7" stroke="#4a5897" stroke-width="0.4" stroke-opacity="0.7"/>
<line x1="590.85" y1="272.9" x2="593.25" y2="272.9" stroke="#4a5897" stroke-width="0.7" />
<line x1="590.85" y1="277.7" x2="593.25" y2="277.7" stroke="#4a5897" stroke-width="0.7" />
<rect x="624.95" y="285.4" width="8" height="7.6" fill="#fff" fill-opacity="0" stroke="#4a5897" stroke-width="0.8"/>
<line x1="628.95" y1="286.8" x2="628.95" y2="291.6" stroke="#4a5897" stroke-width="0.4" stroke-opacity="0.7"/>
<line x1="627.75" y1="286.8" x2="630.15" y2="286.8" stroke="#4a5897" stroke-width="0.7" />
<line x1="627.75" y1="291.6" x2="630.15" y2="291.6" stroke="#4a5897" stroke-width="0.7" />
<rect x="661.85" y="249.1" width="8" height="7.6" fill="#fff" fill-opacity="0" stroke="#4a5897" stroke-width="0.8"/>
<line x1="665.85" y1="250.5" x2="665.85" y2="255.3" stroke="#4a5897" stroke-width="0.4" stroke-opacity="0.7"/>
<line x1="664.65" y1="250.5" x2="667.05" y2="250.5" stroke="#4a5897" stroke-width="0.7" />
<line x1="664.65" y1="255.3" x2="667.05" y2="255.3" stroke="#4a5897" stroke-width="0.7" />
<polyline points="518.25,196.5 555.15,244.5 592.05,278.7 628.95,279.2 665.85,292.6" fill="none" stroke="#27aa89" stroke-width="0.75" stroke-linejoin="round" stroke-linecap="round" stroke-dasharray="0.8 1.8" stroke-linecap="butt" stroke-opacity="0.85"/>
<rect x="514.25" y="192.7" width="8" height="7.6" fill="#fff" fill-opacity="0" stroke="#27aa89" stroke-width="0.8"/>
<line x1="518.25" y1="194.1" x2="518.25" y2="198.9" stroke="#27aa89" stroke-width="0.4" stroke-opacity="0.7"/>
<line x1="517.05" y1="194.1" x2="519.45" y2="194.1" stroke="#27aa89" stroke-width="0.7" />
<line x1="517.05" y1="198.9" x2="519.45" y2="198.9" stroke="#27aa89" stroke-width="0.7" />
<rect x="551.15" y="240.7" width="8" height="7.6" fill="#fff" fill-opacity="0" stroke="#27aa89" stroke-width="0.8"/>
<line x1="555.15" y1="242.1" x2="555.15" y2="246.9" stroke="#27aa89" stroke-width="0.4" stroke-opacity="0.7"/>
<line x1="553.95" y1="242.1" x2="556.35" y2="242.1" stroke="#27aa89" stroke-width="0.7" />
<line x1="553.95" y1="246.9" x2="556.35" y2="246.9" stroke="#27aa89" stroke-width="0.7" />
<rect x="588.05" y="274.9" width="8" height="7.6" fill="#fff" fill-opacity="0" stroke="#27aa89" stroke-width="0.8"/>
<line x1="592.05" y1="276.3" x2="592.05" y2="281.1" stroke="#27aa89" stroke-width="0.4" stroke-opacity="0.7"/>
<line x1="590.85" y1="276.3" x2="593.25" y2="276.3" stroke="#27aa89" stroke-width="0.7" />
<line x1="590.85" y1="281.1" x2="593.25" y2="281.1" stroke="#27aa89" stroke-width="0.7" />
<rect x="624.95" y="275.4" width="8" height="7.6" fill="#fff" fill-opacity="0" stroke="#27aa89" stroke-width="0.8"/>
<line x1="628.95" y1="276.8" x2="628.95" y2="281.6" stroke="#27aa89" stroke-width="0.4" stroke-opacity="0.7"/>
<line x1="627.75" y1="276.8" x2="630.15" y2="276.8" stroke="#27aa89" stroke-width="0.7" />
<line x1="627.75" y1="281.6" x2="630.15" y2="281.6" stroke="#27aa89" stroke-width="0.7" />
<rect x="661.85" y="288.8" width="8" height="7.6" fill="#fff" fill-opacity="0" stroke="#27aa89" stroke-width="0.8"/>
<line x1="665.85" y1="290.2" x2="665.85" y2="295" stroke="#27aa89" stroke-width="0.4" stroke-opacity="0.7"/>
<line x1="664.65" y1="290.2" x2="667.05" y2="290.2" stroke="#27aa89" stroke-width="0.7" />
<line x1="664.65" y1="295" x2="667.05" y2="295" stroke="#27aa89" stroke-width="0.7" />
<polyline points="518.25,361.4 555.15,348 592.05,331.5 628.95,320.5 665.85,385.6" fill="none" stroke="#4a5897" stroke-width="0.75" stroke-linejoin="round" stroke-linecap="round" stroke-dasharray="0.8 1.8" stroke-linecap="butt" stroke-opacity="0.85"/>
<rect x="514.25" y="357.6" width="8" height="7.6" fill="#fff" fill-opacity="0" stroke="#4a5897" stroke-width="0.8"/>
<line x1="518.25" y1="359" x2="518.25" y2="363.8" stroke="#4a5897" stroke-width="0.4" stroke-opacity="0.7"/>
<line x1="517.05" y1="359" x2="519.45" y2="359" stroke="#4a5897" stroke-width="0.7" />
<line x1="517.05" y1="363.8" x2="519.45" y2="363.8" stroke="#4a5897" stroke-width="0.7" />
<rect x="551.15" y="344.2" width="8" height="7.6" fill="#fff" fill-opacity="0" stroke="#4a5897" stroke-width="0.8"/>
<line x1="555.15" y1="345.6" x2="555.15" y2="350.4" stroke="#4a5897" stroke-width="0.4" stroke-opacity="0.7"/>
<line x1="553.95" y1="345.6" x2="556.35" y2="345.6" stroke="#4a5897" stroke-width="0.7" />
<line x1="553.95" y1="350.4" x2="556.35" y2="350.4" stroke="#4a5897" stroke-width="0.7" />
<rect x="588.05" y="327.7" width="8" height="7.6" fill="#fff" fill-opacity="0" stroke="#4a5897" stroke-width="0.8"/>
<line x1="592.05" y1="329.1" x2="592.05" y2="333.9" stroke="#4a5897" stroke-width="0.4" stroke-opacity="0.7"/>
<line x1="590.85" y1="329.1" x2="593.25" y2="329.1" stroke="#4a5897" stroke-width="0.7" />
<line x1="590.85" y1="333.9" x2="593.25" y2="333.9" stroke="#4a5897" stroke-width="0.7" />
<rect x="624.95" y="316.7" width="8" height="7.6" fill="#fff" fill-opacity="0" stroke="#4a5897" stroke-width="0.8"/>
<line x1="628.95" y1="318.1" x2="628.95" y2="322.9" stroke="#4a5897" stroke-width="0.4" stroke-opacity="0.7"/>
<line x1="627.75" y1="318.1" x2="630.15" y2="318.1" stroke="#4a5897" stroke-width="0.7" />
<line x1="627.75" y1="322.9" x2="630.15" y2="322.9" stroke="#4a5897" stroke-width="0.7" />
<rect x="661.85" y="381.8" width="8" height="7.6" fill="#fff" fill-opacity="0" stroke="#4a5897" stroke-width="0.8"/>
<line x1="665.85" y1="383.2" x2="665.85" y2="388" stroke="#4a5897" stroke-width="0.4" stroke-opacity="0.7"/>
<line x1="664.65" y1="383.2" x2="667.05" y2="383.2" stroke="#4a5897" stroke-width="0.7" />
<line x1="664.65" y1="388" x2="667.05" y2="388" stroke="#4a5897" stroke-width="0.7" />
<polyline points="518.25,405.1 555.15,406.2 592.05,409.6 628.95,384.6 665.85,385.6" fill="none" stroke="#27aa89" stroke-width="0.75" stroke-linejoin="round" stroke-linecap="round" stroke-dasharray="0.8 1.8" stroke-linecap="butt" stroke-opacity="0.85"/>
<rect x="514.25" y="401.3" width="8" height="7.6" fill="#fff" fill-opacity="0" stroke="#27aa89" stroke-width="0.8"/>
<line x1="518.25" y1="402.7" x2="518.25" y2="407.5" stroke="#27aa89" stroke-width="0.4" stroke-opacity="0.7"/>
<line x1="517.05" y1="402.7" x2="519.45" y2="402.7" stroke="#27aa89" stroke-width="0.7" />
<line x1="517.05" y1="407.5" x2="519.45" y2="407.5" stroke="#27aa89" stroke-width="0.7" />
<rect x="551.15" y="402.4" width="8" height="7.6" fill="#fff" fill-opacity="0" stroke="#27aa89" stroke-width="0.8"/>
<line x1="555.15" y1="403.8" x2="555.15" y2="408.6" stroke="#27aa89" stroke-width="0.4" stroke-opacity="0.7"/>
<line x1="553.95" y1="403.8" x2="556.35" y2="403.8" stroke="#27aa89" stroke-width="0.7" />
<line x1="553.95" y1="408.6" x2="556.35" y2="408.6" stroke="#27aa89" stroke-width="0.7" />
<rect x="588.05" y="405.8" width="8" height="7.6" fill="#fff" fill-opacity="0" stroke="#27aa89" stroke-width="0.8"/>
<line x1="592.05" y1="407.2" x2="592.05" y2="412" stroke="#27aa89" stroke-width="0.4" stroke-opacity="0.7"/>
<line x1="590.85" y1="407.2" x2="593.25" y2="407.2" stroke="#27aa89" stroke-width="0.7" />
<line x1="590.85" y1="412" x2="593.25" y2="412" stroke="#27aa89" stroke-width="0.7" />
<rect x="624.95" y="380.8" width="8" height="7.6" fill="#fff" fill-opacity="0" stroke="#27aa89" stroke-width="0.8"/>
<line x1="628.95" y1="382.2" x2="628.95" y2="387" stroke="#27aa89" stroke-width="0.4" stroke-opacity="0.7"/>
<line x1="627.75" y1="382.2" x2="630.15" y2="382.2" stroke="#27aa89" stroke-width="0.7" />
<line x1="627.75" y1="387" x2="630.15" y2="387" stroke="#27aa89" stroke-width="0.7" />
<rect x="661.85" y="381.8" width="8" height="7.6" fill="#fff" fill-opacity="0" stroke="#27aa89" stroke-width="0.8"/>
<line x1="665.85" y1="383.2" x2="665.85" y2="388" stroke="#27aa89" stroke-width="0.4" stroke-opacity="0.7"/>
<line x1="664.65" y1="383.2" x2="667.05" y2="383.2" stroke="#27aa89" stroke-width="0.7" />
<line x1="664.65" y1="388" x2="667.05" y2="388" stroke="#27aa89" stroke-width="0.7" />
</svg>
</body></html>
